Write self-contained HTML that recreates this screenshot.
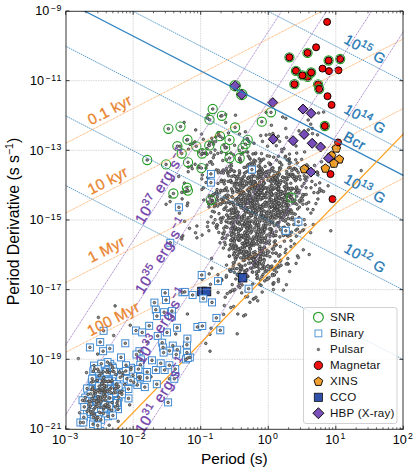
<!DOCTYPE html><html><head><meta charset="utf-8"><style>html,body{margin:0;padding:0;background:#fff;}svg{display:block;}text{font-family:"Liberation Sans",sans-serif;}</style></head><body><svg width="413" height="467" viewBox="0 0 413 467"><defs><clipPath id="c"><rect x="65.60" y="11.00" width="337.75" height="417.96"/></clipPath></defs><g clip-path="url(#c)"><circle cx="258.4" cy="177.5" r="1.3" fill="#959595" stroke="#3a3a3a" stroke-width="0.75"/><circle cx="239.5" cy="134.0" r="1.3" fill="#959595" stroke="#3a3a3a" stroke-width="0.75"/><circle cx="255.2" cy="204.6" r="1.3" fill="#959595" stroke="#3a3a3a" stroke-width="0.75"/><circle cx="251.8" cy="231.4" r="1.3" fill="#959595" stroke="#3a3a3a" stroke-width="0.75"/><circle cx="256.3" cy="200.1" r="1.3" fill="#959595" stroke="#3a3a3a" stroke-width="0.75"/><circle cx="261.7" cy="206.3" r="1.3" fill="#959595" stroke="#3a3a3a" stroke-width="0.75"/><circle cx="271.4" cy="125.3" r="1.3" fill="#959595" stroke="#3a3a3a" stroke-width="0.75"/><circle cx="274.3" cy="207.0" r="1.3" fill="#959595" stroke="#3a3a3a" stroke-width="0.75"/><circle cx="240.7" cy="269.9" r="1.3" fill="#959595" stroke="#3a3a3a" stroke-width="0.75"/><circle cx="240.4" cy="250.8" r="1.3" fill="#959595" stroke="#3a3a3a" stroke-width="0.75"/><circle cx="230.9" cy="232.2" r="1.3" fill="#959595" stroke="#3a3a3a" stroke-width="0.75"/><circle cx="206.0" cy="168.1" r="1.3" fill="#959595" stroke="#3a3a3a" stroke-width="0.75"/><circle cx="211.6" cy="258.4" r="1.3" fill="#959595" stroke="#3a3a3a" stroke-width="0.75"/><circle cx="246.7" cy="251.3" r="1.3" fill="#959595" stroke="#3a3a3a" stroke-width="0.75"/><circle cx="276.6" cy="175.7" r="1.3" fill="#959595" stroke="#3a3a3a" stroke-width="0.75"/><circle cx="226.1" cy="221.6" r="1.3" fill="#959595" stroke="#3a3a3a" stroke-width="0.75"/><circle cx="269.5" cy="134.4" r="1.3" fill="#959595" stroke="#3a3a3a" stroke-width="0.75"/><circle cx="251.1" cy="169.1" r="1.3" fill="#959595" stroke="#3a3a3a" stroke-width="0.75"/><circle cx="185.7" cy="191.5" r="1.3" fill="#959595" stroke="#3a3a3a" stroke-width="0.75"/><circle cx="292.9" cy="174.3" r="1.3" fill="#959595" stroke="#3a3a3a" stroke-width="0.75"/><circle cx="274.8" cy="235.2" r="1.3" fill="#959595" stroke="#3a3a3a" stroke-width="0.75"/><circle cx="257.3" cy="244.1" r="1.3" fill="#959595" stroke="#3a3a3a" stroke-width="0.75"/><circle cx="265.8" cy="193.9" r="1.3" fill="#959595" stroke="#3a3a3a" stroke-width="0.75"/><circle cx="237.4" cy="191.3" r="1.3" fill="#959595" stroke="#3a3a3a" stroke-width="0.75"/><circle cx="260.8" cy="168.5" r="1.3" fill="#959595" stroke="#3a3a3a" stroke-width="0.75"/><circle cx="280.2" cy="162.6" r="1.3" fill="#959595" stroke="#3a3a3a" stroke-width="0.75"/><circle cx="303.6" cy="229.8" r="1.3" fill="#959595" stroke="#3a3a3a" stroke-width="0.75"/><circle cx="269.7" cy="218.0" r="1.3" fill="#959595" stroke="#3a3a3a" stroke-width="0.75"/><circle cx="214.2" cy="155.0" r="1.3" fill="#959595" stroke="#3a3a3a" stroke-width="0.75"/><circle cx="214.3" cy="206.7" r="1.3" fill="#959595" stroke="#3a3a3a" stroke-width="0.75"/><circle cx="279.5" cy="198.5" r="1.3" fill="#959595" stroke="#3a3a3a" stroke-width="0.75"/><circle cx="262.0" cy="249.3" r="1.3" fill="#959595" stroke="#3a3a3a" stroke-width="0.75"/><circle cx="259.6" cy="230.1" r="1.3" fill="#959595" stroke="#3a3a3a" stroke-width="0.75"/><circle cx="292.4" cy="217.3" r="1.3" fill="#959595" stroke="#3a3a3a" stroke-width="0.75"/><circle cx="179.5" cy="213.2" r="1.3" fill="#959595" stroke="#3a3a3a" stroke-width="0.75"/><circle cx="258.7" cy="271.4" r="1.3" fill="#959595" stroke="#3a3a3a" stroke-width="0.75"/><circle cx="246.1" cy="291.0" r="1.3" fill="#959595" stroke="#3a3a3a" stroke-width="0.75"/><circle cx="317.8" cy="192.7" r="1.3" fill="#959595" stroke="#3a3a3a" stroke-width="0.75"/><circle cx="276.8" cy="183.1" r="1.3" fill="#959595" stroke="#3a3a3a" stroke-width="0.75"/><circle cx="232.1" cy="241.0" r="1.3" fill="#959595" stroke="#3a3a3a" stroke-width="0.75"/><circle cx="213.3" cy="157.7" r="1.3" fill="#959595" stroke="#3a3a3a" stroke-width="0.75"/><circle cx="251.1" cy="196.0" r="1.3" fill="#959595" stroke="#3a3a3a" stroke-width="0.75"/><circle cx="226.5" cy="159.8" r="1.3" fill="#959595" stroke="#3a3a3a" stroke-width="0.75"/><circle cx="242.6" cy="191.5" r="1.3" fill="#959595" stroke="#3a3a3a" stroke-width="0.75"/><circle cx="239.4" cy="159.7" r="1.3" fill="#959595" stroke="#3a3a3a" stroke-width="0.75"/><circle cx="262.4" cy="188.8" r="1.3" fill="#959595" stroke="#3a3a3a" stroke-width="0.75"/><circle cx="234.3" cy="240.1" r="1.3" fill="#959595" stroke="#3a3a3a" stroke-width="0.75"/><circle cx="244.6" cy="260.2" r="1.3" fill="#959595" stroke="#3a3a3a" stroke-width="0.75"/><circle cx="252.2" cy="241.0" r="1.3" fill="#959595" stroke="#3a3a3a" stroke-width="0.75"/><circle cx="290.8" cy="213.3" r="1.3" fill="#959595" stroke="#3a3a3a" stroke-width="0.75"/><circle cx="247.4" cy="219.5" r="1.3" fill="#959595" stroke="#3a3a3a" stroke-width="0.75"/><circle cx="228.3" cy="195.3" r="1.3" fill="#959595" stroke="#3a3a3a" stroke-width="0.75"/><circle cx="235.2" cy="176.2" r="1.3" fill="#959595" stroke="#3a3a3a" stroke-width="0.75"/><circle cx="300.2" cy="201.9" r="1.3" fill="#959595" stroke="#3a3a3a" stroke-width="0.75"/><circle cx="250.8" cy="233.0" r="1.3" fill="#959595" stroke="#3a3a3a" stroke-width="0.75"/><circle cx="285.6" cy="156.2" r="1.3" fill="#959595" stroke="#3a3a3a" stroke-width="0.75"/><circle cx="317.5" cy="134.9" r="1.3" fill="#959595" stroke="#3a3a3a" stroke-width="0.75"/><circle cx="247.6" cy="237.8" r="1.3" fill="#959595" stroke="#3a3a3a" stroke-width="0.75"/><circle cx="255.2" cy="189.1" r="1.3" fill="#959595" stroke="#3a3a3a" stroke-width="0.75"/><circle cx="263.0" cy="228.5" r="1.3" fill="#959595" stroke="#3a3a3a" stroke-width="0.75"/><circle cx="263.9" cy="232.6" r="1.3" fill="#959595" stroke="#3a3a3a" stroke-width="0.75"/><circle cx="263.3" cy="266.7" r="1.3" fill="#959595" stroke="#3a3a3a" stroke-width="0.75"/><circle cx="269.5" cy="198.2" r="1.3" fill="#959595" stroke="#3a3a3a" stroke-width="0.75"/><circle cx="285.8" cy="195.0" r="1.3" fill="#959595" stroke="#3a3a3a" stroke-width="0.75"/><circle cx="260.8" cy="242.7" r="1.3" fill="#959595" stroke="#3a3a3a" stroke-width="0.75"/><circle cx="256.8" cy="236.8" r="1.3" fill="#959595" stroke="#3a3a3a" stroke-width="0.75"/><circle cx="240.0" cy="223.9" r="1.3" fill="#959595" stroke="#3a3a3a" stroke-width="0.75"/><circle cx="247.0" cy="243.1" r="1.3" fill="#959595" stroke="#3a3a3a" stroke-width="0.75"/><circle cx="231.6" cy="222.1" r="1.3" fill="#959595" stroke="#3a3a3a" stroke-width="0.75"/><circle cx="238.8" cy="276.0" r="1.3" fill="#959595" stroke="#3a3a3a" stroke-width="0.75"/><circle cx="266.7" cy="192.1" r="1.3" fill="#959595" stroke="#3a3a3a" stroke-width="0.75"/><circle cx="234.3" cy="233.8" r="1.3" fill="#959595" stroke="#3a3a3a" stroke-width="0.75"/><circle cx="289.6" cy="271.5" r="1.3" fill="#959595" stroke="#3a3a3a" stroke-width="0.75"/><circle cx="269.3" cy="192.2" r="1.3" fill="#959595" stroke="#3a3a3a" stroke-width="0.75"/><circle cx="288.3" cy="218.4" r="1.3" fill="#959595" stroke="#3a3a3a" stroke-width="0.75"/><circle cx="258.3" cy="195.8" r="1.3" fill="#959595" stroke="#3a3a3a" stroke-width="0.75"/><circle cx="245.2" cy="204.3" r="1.3" fill="#959595" stroke="#3a3a3a" stroke-width="0.75"/><circle cx="261.5" cy="160.4" r="1.3" fill="#959595" stroke="#3a3a3a" stroke-width="0.75"/><circle cx="228.4" cy="133.0" r="1.3" fill="#959595" stroke="#3a3a3a" stroke-width="0.75"/><circle cx="287.5" cy="235.8" r="1.3" fill="#959595" stroke="#3a3a3a" stroke-width="0.75"/><circle cx="257.9" cy="203.8" r="1.3" fill="#959595" stroke="#3a3a3a" stroke-width="0.75"/><circle cx="226.3" cy="220.6" r="1.3" fill="#959595" stroke="#3a3a3a" stroke-width="0.75"/><circle cx="246.4" cy="233.5" r="1.3" fill="#959595" stroke="#3a3a3a" stroke-width="0.75"/><circle cx="247.0" cy="200.5" r="1.3" fill="#959595" stroke="#3a3a3a" stroke-width="0.75"/><circle cx="271.7" cy="195.5" r="1.3" fill="#959595" stroke="#3a3a3a" stroke-width="0.75"/><circle cx="237.6" cy="176.6" r="1.3" fill="#959595" stroke="#3a3a3a" stroke-width="0.75"/><circle cx="262.0" cy="240.2" r="1.3" fill="#959595" stroke="#3a3a3a" stroke-width="0.75"/><circle cx="236.7" cy="247.5" r="1.3" fill="#959595" stroke="#3a3a3a" stroke-width="0.75"/><circle cx="260.8" cy="232.2" r="1.3" fill="#959595" stroke="#3a3a3a" stroke-width="0.75"/><circle cx="256.1" cy="254.7" r="1.3" fill="#959595" stroke="#3a3a3a" stroke-width="0.75"/><circle cx="272.6" cy="222.6" r="1.3" fill="#959595" stroke="#3a3a3a" stroke-width="0.75"/><circle cx="223.8" cy="228.2" r="1.3" fill="#959595" stroke="#3a3a3a" stroke-width="0.75"/><circle cx="304.9" cy="178.9" r="1.3" fill="#959595" stroke="#3a3a3a" stroke-width="0.75"/><circle cx="196.9" cy="237.8" r="1.3" fill="#959595" stroke="#3a3a3a" stroke-width="0.75"/><circle cx="267.3" cy="192.9" r="1.3" fill="#959595" stroke="#3a3a3a" stroke-width="0.75"/><circle cx="229.9" cy="203.0" r="1.3" fill="#959595" stroke="#3a3a3a" stroke-width="0.75"/><circle cx="238.9" cy="191.8" r="1.3" fill="#959595" stroke="#3a3a3a" stroke-width="0.75"/><circle cx="261.2" cy="214.2" r="1.3" fill="#959595" stroke="#3a3a3a" stroke-width="0.75"/><circle cx="287.5" cy="223.9" r="1.3" fill="#959595" stroke="#3a3a3a" stroke-width="0.75"/><circle cx="243.5" cy="215.5" r="1.3" fill="#959595" stroke="#3a3a3a" stroke-width="0.75"/><circle cx="232.7" cy="191.1" r="1.3" fill="#959595" stroke="#3a3a3a" stroke-width="0.75"/><circle cx="263.4" cy="181.3" r="1.3" fill="#959595" stroke="#3a3a3a" stroke-width="0.75"/><circle cx="239.3" cy="249.2" r="1.3" fill="#959595" stroke="#3a3a3a" stroke-width="0.75"/><circle cx="271.8" cy="190.0" r="1.3" fill="#959595" stroke="#3a3a3a" stroke-width="0.75"/><circle cx="232.8" cy="203.0" r="1.3" fill="#959595" stroke="#3a3a3a" stroke-width="0.75"/><circle cx="254.5" cy="164.3" r="1.3" fill="#959595" stroke="#3a3a3a" stroke-width="0.75"/><circle cx="263.0" cy="189.3" r="1.3" fill="#959595" stroke="#3a3a3a" stroke-width="0.75"/><circle cx="231.1" cy="163.6" r="1.3" fill="#959595" stroke="#3a3a3a" stroke-width="0.75"/><circle cx="258.9" cy="193.5" r="1.3" fill="#959595" stroke="#3a3a3a" stroke-width="0.75"/><circle cx="258.4" cy="229.6" r="1.3" fill="#959595" stroke="#3a3a3a" stroke-width="0.75"/><circle cx="239.4" cy="283.6" r="1.3" fill="#959595" stroke="#3a3a3a" stroke-width="0.75"/><circle cx="245.3" cy="220.1" r="1.3" fill="#959595" stroke="#3a3a3a" stroke-width="0.75"/><circle cx="262.6" cy="186.7" r="1.3" fill="#959595" stroke="#3a3a3a" stroke-width="0.75"/><circle cx="267.7" cy="223.6" r="1.3" fill="#959595" stroke="#3a3a3a" stroke-width="0.75"/><circle cx="256.1" cy="220.7" r="1.3" fill="#959595" stroke="#3a3a3a" stroke-width="0.75"/><circle cx="276.2" cy="245.0" r="1.3" fill="#959595" stroke="#3a3a3a" stroke-width="0.75"/><circle cx="234.5" cy="211.8" r="1.3" fill="#959595" stroke="#3a3a3a" stroke-width="0.75"/><circle cx="253.4" cy="261.4" r="1.3" fill="#959595" stroke="#3a3a3a" stroke-width="0.75"/><circle cx="217.7" cy="200.5" r="1.3" fill="#959595" stroke="#3a3a3a" stroke-width="0.75"/><circle cx="231.5" cy="188.9" r="1.3" fill="#959595" stroke="#3a3a3a" stroke-width="0.75"/><circle cx="274.3" cy="209.6" r="1.3" fill="#959595" stroke="#3a3a3a" stroke-width="0.75"/><circle cx="239.2" cy="264.8" r="1.3" fill="#959595" stroke="#3a3a3a" stroke-width="0.75"/><circle cx="245.4" cy="231.7" r="1.3" fill="#959595" stroke="#3a3a3a" stroke-width="0.75"/><circle cx="247.6" cy="207.9" r="1.3" fill="#959595" stroke="#3a3a3a" stroke-width="0.75"/><circle cx="271.1" cy="207.1" r="1.3" fill="#959595" stroke="#3a3a3a" stroke-width="0.75"/><circle cx="278.9" cy="222.5" r="1.3" fill="#959595" stroke="#3a3a3a" stroke-width="0.75"/><circle cx="215.8" cy="203.5" r="1.3" fill="#959595" stroke="#3a3a3a" stroke-width="0.75"/><circle cx="280.1" cy="212.8" r="1.3" fill="#959595" stroke="#3a3a3a" stroke-width="0.75"/><circle cx="278.4" cy="281.5" r="1.3" fill="#959595" stroke="#3a3a3a" stroke-width="0.75"/><circle cx="257.6" cy="266.6" r="1.3" fill="#959595" stroke="#3a3a3a" stroke-width="0.75"/><circle cx="249.8" cy="248.6" r="1.3" fill="#959595" stroke="#3a3a3a" stroke-width="0.75"/><circle cx="188.2" cy="171.7" r="1.3" fill="#959595" stroke="#3a3a3a" stroke-width="0.75"/><circle cx="250.1" cy="213.9" r="1.3" fill="#959595" stroke="#3a3a3a" stroke-width="0.75"/><circle cx="264.0" cy="195.8" r="1.3" fill="#959595" stroke="#3a3a3a" stroke-width="0.75"/><circle cx="259.4" cy="261.4" r="1.3" fill="#959595" stroke="#3a3a3a" stroke-width="0.75"/><circle cx="277.9" cy="190.0" r="1.3" fill="#959595" stroke="#3a3a3a" stroke-width="0.75"/><circle cx="241.9" cy="266.3" r="1.3" fill="#959595" stroke="#3a3a3a" stroke-width="0.75"/><circle cx="264.4" cy="183.3" r="1.3" fill="#959595" stroke="#3a3a3a" stroke-width="0.75"/><circle cx="257.4" cy="200.7" r="1.3" fill="#959595" stroke="#3a3a3a" stroke-width="0.75"/><circle cx="248.0" cy="276.4" r="1.3" fill="#959595" stroke="#3a3a3a" stroke-width="0.75"/><circle cx="242.2" cy="217.3" r="1.3" fill="#959595" stroke="#3a3a3a" stroke-width="0.75"/><circle cx="255.6" cy="266.7" r="1.3" fill="#959595" stroke="#3a3a3a" stroke-width="0.75"/><circle cx="268.7" cy="211.6" r="1.3" fill="#959595" stroke="#3a3a3a" stroke-width="0.75"/><circle cx="263.7" cy="182.6" r="1.3" fill="#959595" stroke="#3a3a3a" stroke-width="0.75"/><circle cx="208.9" cy="230.7" r="1.3" fill="#959595" stroke="#3a3a3a" stroke-width="0.75"/><circle cx="313.0" cy="209.6" r="1.3" fill="#959595" stroke="#3a3a3a" stroke-width="0.75"/><circle cx="253.8" cy="208.1" r="1.3" fill="#959595" stroke="#3a3a3a" stroke-width="0.75"/><circle cx="239.8" cy="172.8" r="1.3" fill="#959595" stroke="#3a3a3a" stroke-width="0.75"/><circle cx="244.4" cy="173.2" r="1.3" fill="#959595" stroke="#3a3a3a" stroke-width="0.75"/><circle cx="281.1" cy="265.3" r="1.3" fill="#959595" stroke="#3a3a3a" stroke-width="0.75"/><circle cx="256.7" cy="274.5" r="1.3" fill="#959595" stroke="#3a3a3a" stroke-width="0.75"/><circle cx="239.5" cy="279.9" r="1.3" fill="#959595" stroke="#3a3a3a" stroke-width="0.75"/><circle cx="280.8" cy="194.6" r="1.3" fill="#959595" stroke="#3a3a3a" stroke-width="0.75"/><circle cx="215.0" cy="150.1" r="1.3" fill="#959595" stroke="#3a3a3a" stroke-width="0.75"/><circle cx="233.6" cy="213.2" r="1.3" fill="#959595" stroke="#3a3a3a" stroke-width="0.75"/><circle cx="282.6" cy="232.6" r="1.3" fill="#959595" stroke="#3a3a3a" stroke-width="0.75"/><circle cx="272.7" cy="222.8" r="1.3" fill="#959595" stroke="#3a3a3a" stroke-width="0.75"/><circle cx="204.4" cy="153.3" r="1.3" fill="#959595" stroke="#3a3a3a" stroke-width="0.75"/><circle cx="218.0" cy="183.4" r="1.3" fill="#959595" stroke="#3a3a3a" stroke-width="0.75"/><circle cx="235.4" cy="229.5" r="1.3" fill="#959595" stroke="#3a3a3a" stroke-width="0.75"/><circle cx="296.7" cy="153.1" r="1.3" fill="#959595" stroke="#3a3a3a" stroke-width="0.75"/><circle cx="250.4" cy="249.1" r="1.3" fill="#959595" stroke="#3a3a3a" stroke-width="0.75"/><circle cx="241.7" cy="292.9" r="1.3" fill="#959595" stroke="#3a3a3a" stroke-width="0.75"/><circle cx="258.9" cy="184.6" r="1.3" fill="#959595" stroke="#3a3a3a" stroke-width="0.75"/><circle cx="255.4" cy="153.8" r="1.3" fill="#959595" stroke="#3a3a3a" stroke-width="0.75"/><circle cx="238.3" cy="286.2" r="1.3" fill="#959595" stroke="#3a3a3a" stroke-width="0.75"/><circle cx="288.2" cy="236.1" r="1.3" fill="#959595" stroke="#3a3a3a" stroke-width="0.75"/><circle cx="267.1" cy="203.9" r="1.3" fill="#959595" stroke="#3a3a3a" stroke-width="0.75"/><circle cx="287.4" cy="205.0" r="1.3" fill="#959595" stroke="#3a3a3a" stroke-width="0.75"/><circle cx="253.4" cy="262.3" r="1.3" fill="#959595" stroke="#3a3a3a" stroke-width="0.75"/><circle cx="266.0" cy="194.1" r="1.3" fill="#959595" stroke="#3a3a3a" stroke-width="0.75"/><circle cx="217.8" cy="153.4" r="1.3" fill="#959595" stroke="#3a3a3a" stroke-width="0.75"/><circle cx="234.9" cy="219.1" r="1.3" fill="#959595" stroke="#3a3a3a" stroke-width="0.75"/><circle cx="268.4" cy="190.9" r="1.3" fill="#959595" stroke="#3a3a3a" stroke-width="0.75"/><circle cx="250.6" cy="226.9" r="1.3" fill="#959595" stroke="#3a3a3a" stroke-width="0.75"/><circle cx="239.9" cy="271.6" r="1.3" fill="#959595" stroke="#3a3a3a" stroke-width="0.75"/><circle cx="212.7" cy="195.9" r="1.3" fill="#959595" stroke="#3a3a3a" stroke-width="0.75"/><circle cx="252.2" cy="184.8" r="1.3" fill="#959595" stroke="#3a3a3a" stroke-width="0.75"/><circle cx="205.9" cy="153.1" r="1.3" fill="#959595" stroke="#3a3a3a" stroke-width="0.75"/><circle cx="280.3" cy="246.5" r="1.3" fill="#959595" stroke="#3a3a3a" stroke-width="0.75"/><circle cx="253.8" cy="161.4" r="1.3" fill="#959595" stroke="#3a3a3a" stroke-width="0.75"/><circle cx="276.5" cy="272.0" r="1.3" fill="#959595" stroke="#3a3a3a" stroke-width="0.75"/><circle cx="237.2" cy="229.4" r="1.3" fill="#959595" stroke="#3a3a3a" stroke-width="0.75"/><circle cx="256.5" cy="262.0" r="1.3" fill="#959595" stroke="#3a3a3a" stroke-width="0.75"/><circle cx="225.3" cy="244.7" r="1.3" fill="#959595" stroke="#3a3a3a" stroke-width="0.75"/><circle cx="272.0" cy="178.5" r="1.3" fill="#959595" stroke="#3a3a3a" stroke-width="0.75"/><circle cx="207.8" cy="177.3" r="1.3" fill="#959595" stroke="#3a3a3a" stroke-width="0.75"/><circle cx="226.2" cy="277.2" r="1.3" fill="#959595" stroke="#3a3a3a" stroke-width="0.75"/><circle cx="267.5" cy="188.6" r="1.3" fill="#959595" stroke="#3a3a3a" stroke-width="0.75"/><circle cx="238.9" cy="240.3" r="1.3" fill="#959595" stroke="#3a3a3a" stroke-width="0.75"/><circle cx="252.6" cy="176.1" r="1.3" fill="#959595" stroke="#3a3a3a" stroke-width="0.75"/><circle cx="250.4" cy="189.2" r="1.3" fill="#959595" stroke="#3a3a3a" stroke-width="0.75"/><circle cx="256.8" cy="225.4" r="1.3" fill="#959595" stroke="#3a3a3a" stroke-width="0.75"/><circle cx="262.7" cy="184.6" r="1.3" fill="#959595" stroke="#3a3a3a" stroke-width="0.75"/><circle cx="283.4" cy="234.7" r="1.3" fill="#959595" stroke="#3a3a3a" stroke-width="0.75"/><circle cx="244.2" cy="255.8" r="1.3" fill="#959595" stroke="#3a3a3a" stroke-width="0.75"/><circle cx="248.8" cy="191.4" r="1.3" fill="#959595" stroke="#3a3a3a" stroke-width="0.75"/><circle cx="247.5" cy="189.8" r="1.3" fill="#959595" stroke="#3a3a3a" stroke-width="0.75"/><circle cx="194.8" cy="141.9" r="1.3" fill="#959595" stroke="#3a3a3a" stroke-width="0.75"/><circle cx="273.8" cy="200.8" r="1.3" fill="#959595" stroke="#3a3a3a" stroke-width="0.75"/><circle cx="273.7" cy="157.2" r="1.3" fill="#959595" stroke="#3a3a3a" stroke-width="0.75"/><circle cx="238.0" cy="215.1" r="1.3" fill="#959595" stroke="#3a3a3a" stroke-width="0.75"/><circle cx="232.2" cy="227.3" r="1.3" fill="#959595" stroke="#3a3a3a" stroke-width="0.75"/><circle cx="261.0" cy="214.3" r="1.3" fill="#959595" stroke="#3a3a3a" stroke-width="0.75"/><circle cx="230.9" cy="218.3" r="1.3" fill="#959595" stroke="#3a3a3a" stroke-width="0.75"/><circle cx="270.7" cy="217.9" r="1.3" fill="#959595" stroke="#3a3a3a" stroke-width="0.75"/><circle cx="261.1" cy="259.7" r="1.3" fill="#959595" stroke="#3a3a3a" stroke-width="0.75"/><circle cx="288.7" cy="210.9" r="1.3" fill="#959595" stroke="#3a3a3a" stroke-width="0.75"/><circle cx="234.1" cy="252.7" r="1.3" fill="#959595" stroke="#3a3a3a" stroke-width="0.75"/><circle cx="240.6" cy="194.7" r="1.3" fill="#959595" stroke="#3a3a3a" stroke-width="0.75"/><circle cx="278.6" cy="172.9" r="1.3" fill="#959595" stroke="#3a3a3a" stroke-width="0.75"/><circle cx="311.9" cy="181.4" r="1.3" fill="#959595" stroke="#3a3a3a" stroke-width="0.75"/><circle cx="257.4" cy="240.2" r="1.3" fill="#959595" stroke="#3a3a3a" stroke-width="0.75"/><circle cx="276.9" cy="182.3" r="1.3" fill="#959595" stroke="#3a3a3a" stroke-width="0.75"/><circle cx="261.0" cy="237.0" r="1.3" fill="#959595" stroke="#3a3a3a" stroke-width="0.75"/><circle cx="264.0" cy="259.3" r="1.3" fill="#959595" stroke="#3a3a3a" stroke-width="0.75"/><circle cx="238.2" cy="212.1" r="1.3" fill="#959595" stroke="#3a3a3a" stroke-width="0.75"/><circle cx="227.8" cy="173.4" r="1.3" fill="#959595" stroke="#3a3a3a" stroke-width="0.75"/><circle cx="233.6" cy="220.4" r="1.3" fill="#959595" stroke="#3a3a3a" stroke-width="0.75"/><circle cx="278.9" cy="196.6" r="1.3" fill="#959595" stroke="#3a3a3a" stroke-width="0.75"/><circle cx="280.8" cy="260.3" r="1.3" fill="#959595" stroke="#3a3a3a" stroke-width="0.75"/><circle cx="230.8" cy="182.1" r="1.3" fill="#959595" stroke="#3a3a3a" stroke-width="0.75"/><circle cx="235.0" cy="183.1" r="1.3" fill="#959595" stroke="#3a3a3a" stroke-width="0.75"/><circle cx="241.6" cy="206.2" r="1.3" fill="#959595" stroke="#3a3a3a" stroke-width="0.75"/><circle cx="245.3" cy="207.5" r="1.3" fill="#959595" stroke="#3a3a3a" stroke-width="0.75"/><circle cx="248.0" cy="178.3" r="1.3" fill="#959595" stroke="#3a3a3a" stroke-width="0.75"/><circle cx="243.3" cy="196.8" r="1.3" fill="#959595" stroke="#3a3a3a" stroke-width="0.75"/><circle cx="293.8" cy="224.5" r="1.3" fill="#959595" stroke="#3a3a3a" stroke-width="0.75"/><circle cx="233.7" cy="205.4" r="1.3" fill="#959595" stroke="#3a3a3a" stroke-width="0.75"/><circle cx="267.2" cy="155.8" r="1.3" fill="#959595" stroke="#3a3a3a" stroke-width="0.75"/><circle cx="212.4" cy="200.4" r="1.3" fill="#959595" stroke="#3a3a3a" stroke-width="0.75"/><circle cx="223.0" cy="201.0" r="1.3" fill="#959595" stroke="#3a3a3a" stroke-width="0.75"/><circle cx="211.3" cy="203.8" r="1.3" fill="#959595" stroke="#3a3a3a" stroke-width="0.75"/><circle cx="211.8" cy="138.3" r="1.3" fill="#959595" stroke="#3a3a3a" stroke-width="0.75"/><circle cx="203.6" cy="187.9" r="1.3" fill="#959595" stroke="#3a3a3a" stroke-width="0.75"/><circle cx="234.4" cy="272.4" r="1.3" fill="#959595" stroke="#3a3a3a" stroke-width="0.75"/><circle cx="297.5" cy="255.9" r="1.3" fill="#959595" stroke="#3a3a3a" stroke-width="0.75"/><circle cx="272.1" cy="268.1" r="1.3" fill="#959595" stroke="#3a3a3a" stroke-width="0.75"/><circle cx="273.6" cy="236.0" r="1.3" fill="#959595" stroke="#3a3a3a" stroke-width="0.75"/><circle cx="276.7" cy="201.5" r="1.3" fill="#959595" stroke="#3a3a3a" stroke-width="0.75"/><circle cx="211.8" cy="268.1" r="1.3" fill="#959595" stroke="#3a3a3a" stroke-width="0.75"/><circle cx="260.5" cy="189.6" r="1.3" fill="#959595" stroke="#3a3a3a" stroke-width="0.75"/><circle cx="223.2" cy="217.3" r="1.3" fill="#959595" stroke="#3a3a3a" stroke-width="0.75"/><circle cx="255.3" cy="216.7" r="1.3" fill="#959595" stroke="#3a3a3a" stroke-width="0.75"/><circle cx="249.9" cy="202.0" r="1.3" fill="#959595" stroke="#3a3a3a" stroke-width="0.75"/><circle cx="277.7" cy="184.6" r="1.3" fill="#959595" stroke="#3a3a3a" stroke-width="0.75"/><circle cx="243.9" cy="192.5" r="1.3" fill="#959595" stroke="#3a3a3a" stroke-width="0.75"/><circle cx="237.8" cy="222.5" r="1.3" fill="#959595" stroke="#3a3a3a" stroke-width="0.75"/><circle cx="306.1" cy="187.7" r="1.3" fill="#959595" stroke="#3a3a3a" stroke-width="0.75"/><circle cx="276.7" cy="193.9" r="1.3" fill="#959595" stroke="#3a3a3a" stroke-width="0.75"/><circle cx="255.2" cy="194.1" r="1.3" fill="#959595" stroke="#3a3a3a" stroke-width="0.75"/><circle cx="280.0" cy="191.3" r="1.3" fill="#959595" stroke="#3a3a3a" stroke-width="0.75"/><circle cx="245.3" cy="246.1" r="1.3" fill="#959595" stroke="#3a3a3a" stroke-width="0.75"/><circle cx="247.3" cy="212.3" r="1.3" fill="#959595" stroke="#3a3a3a" stroke-width="0.75"/><circle cx="218.3" cy="132.6" r="1.3" fill="#959595" stroke="#3a3a3a" stroke-width="0.75"/><circle cx="257.1" cy="233.1" r="1.3" fill="#959595" stroke="#3a3a3a" stroke-width="0.75"/><circle cx="231.5" cy="209.0" r="1.3" fill="#959595" stroke="#3a3a3a" stroke-width="0.75"/><circle cx="253.8" cy="238.4" r="1.3" fill="#959595" stroke="#3a3a3a" stroke-width="0.75"/><circle cx="251.2" cy="207.8" r="1.3" fill="#959595" stroke="#3a3a3a" stroke-width="0.75"/><circle cx="257.9" cy="190.6" r="1.3" fill="#959595" stroke="#3a3a3a" stroke-width="0.75"/><circle cx="240.5" cy="248.2" r="1.3" fill="#959595" stroke="#3a3a3a" stroke-width="0.75"/><circle cx="273.9" cy="176.3" r="1.3" fill="#959595" stroke="#3a3a3a" stroke-width="0.75"/><circle cx="252.5" cy="187.6" r="1.3" fill="#959595" stroke="#3a3a3a" stroke-width="0.75"/><circle cx="253.9" cy="206.2" r="1.3" fill="#959595" stroke="#3a3a3a" stroke-width="0.75"/><circle cx="268.9" cy="251.8" r="1.3" fill="#959595" stroke="#3a3a3a" stroke-width="0.75"/><circle cx="231.2" cy="169.4" r="1.3" fill="#959595" stroke="#3a3a3a" stroke-width="0.75"/><circle cx="214.9" cy="193.7" r="1.3" fill="#959595" stroke="#3a3a3a" stroke-width="0.75"/><circle cx="214.3" cy="212.0" r="1.3" fill="#959595" stroke="#3a3a3a" stroke-width="0.75"/><circle cx="225.5" cy="226.4" r="1.3" fill="#959595" stroke="#3a3a3a" stroke-width="0.75"/><circle cx="246.1" cy="167.1" r="1.3" fill="#959595" stroke="#3a3a3a" stroke-width="0.75"/><circle cx="245.5" cy="235.5" r="1.3" fill="#959595" stroke="#3a3a3a" stroke-width="0.75"/><circle cx="253.8" cy="213.1" r="1.3" fill="#959595" stroke="#3a3a3a" stroke-width="0.75"/><circle cx="261.6" cy="209.2" r="1.3" fill="#959595" stroke="#3a3a3a" stroke-width="0.75"/><circle cx="289.8" cy="196.5" r="1.3" fill="#959595" stroke="#3a3a3a" stroke-width="0.75"/><circle cx="285.8" cy="190.4" r="1.3" fill="#959595" stroke="#3a3a3a" stroke-width="0.75"/><circle cx="247.6" cy="257.2" r="1.3" fill="#959595" stroke="#3a3a3a" stroke-width="0.75"/><circle cx="225.2" cy="297.2" r="1.3" fill="#959595" stroke="#3a3a3a" stroke-width="0.75"/><circle cx="299.5" cy="176.3" r="1.3" fill="#959595" stroke="#3a3a3a" stroke-width="0.75"/><circle cx="295.4" cy="180.8" r="1.3" fill="#959595" stroke="#3a3a3a" stroke-width="0.75"/><circle cx="277.0" cy="225.0" r="1.3" fill="#959595" stroke="#3a3a3a" stroke-width="0.75"/><circle cx="258.0" cy="236.3" r="1.3" fill="#959595" stroke="#3a3a3a" stroke-width="0.75"/><circle cx="247.8" cy="245.1" r="1.3" fill="#959595" stroke="#3a3a3a" stroke-width="0.75"/><circle cx="273.6" cy="189.1" r="1.3" fill="#959595" stroke="#3a3a3a" stroke-width="0.75"/><circle cx="270.4" cy="180.9" r="1.3" fill="#959595" stroke="#3a3a3a" stroke-width="0.75"/><circle cx="301.6" cy="159.4" r="1.3" fill="#959595" stroke="#3a3a3a" stroke-width="0.75"/><circle cx="256.1" cy="196.2" r="1.3" fill="#959595" stroke="#3a3a3a" stroke-width="0.75"/><circle cx="310.9" cy="213.1" r="1.3" fill="#959595" stroke="#3a3a3a" stroke-width="0.75"/><circle cx="233.6" cy="255.0" r="1.3" fill="#959595" stroke="#3a3a3a" stroke-width="0.75"/><circle cx="190.1" cy="144.4" r="1.3" fill="#959595" stroke="#3a3a3a" stroke-width="0.75"/><circle cx="212.5" cy="164.2" r="1.3" fill="#959595" stroke="#3a3a3a" stroke-width="0.75"/><circle cx="244.0" cy="224.0" r="1.3" fill="#959595" stroke="#3a3a3a" stroke-width="0.75"/><circle cx="242.9" cy="225.2" r="1.3" fill="#959595" stroke="#3a3a3a" stroke-width="0.75"/><circle cx="261.9" cy="170.6" r="1.3" fill="#959595" stroke="#3a3a3a" stroke-width="0.75"/><circle cx="259.4" cy="165.7" r="1.3" fill="#959595" stroke="#3a3a3a" stroke-width="0.75"/><circle cx="212.5" cy="141.7" r="1.3" fill="#959595" stroke="#3a3a3a" stroke-width="0.75"/><circle cx="278.0" cy="222.7" r="1.3" fill="#959595" stroke="#3a3a3a" stroke-width="0.75"/><circle cx="263.2" cy="187.7" r="1.3" fill="#959595" stroke="#3a3a3a" stroke-width="0.75"/><circle cx="286.8" cy="183.9" r="1.3" fill="#959595" stroke="#3a3a3a" stroke-width="0.75"/><circle cx="258.1" cy="224.7" r="1.3" fill="#959595" stroke="#3a3a3a" stroke-width="0.75"/><circle cx="223.2" cy="170.7" r="1.3" fill="#959595" stroke="#3a3a3a" stroke-width="0.75"/><circle cx="252.0" cy="211.6" r="1.3" fill="#959595" stroke="#3a3a3a" stroke-width="0.75"/><circle cx="247.8" cy="164.9" r="1.3" fill="#959595" stroke="#3a3a3a" stroke-width="0.75"/><circle cx="285.1" cy="157.1" r="1.3" fill="#959595" stroke="#3a3a3a" stroke-width="0.75"/><circle cx="305.1" cy="224.7" r="1.3" fill="#959595" stroke="#3a3a3a" stroke-width="0.75"/><circle cx="245.7" cy="240.8" r="1.3" fill="#959595" stroke="#3a3a3a" stroke-width="0.75"/><circle cx="250.8" cy="204.3" r="1.3" fill="#959595" stroke="#3a3a3a" stroke-width="0.75"/><circle cx="283.6" cy="198.1" r="1.3" fill="#959595" stroke="#3a3a3a" stroke-width="0.75"/><circle cx="265.2" cy="228.1" r="1.3" fill="#959595" stroke="#3a3a3a" stroke-width="0.75"/><circle cx="288.9" cy="160.0" r="1.3" fill="#959595" stroke="#3a3a3a" stroke-width="0.75"/><circle cx="252.3" cy="187.6" r="1.3" fill="#959595" stroke="#3a3a3a" stroke-width="0.75"/><circle cx="243.4" cy="260.6" r="1.3" fill="#959595" stroke="#3a3a3a" stroke-width="0.75"/><circle cx="256.6" cy="271.8" r="1.3" fill="#959595" stroke="#3a3a3a" stroke-width="0.75"/><circle cx="267.6" cy="146.2" r="1.3" fill="#959595" stroke="#3a3a3a" stroke-width="0.75"/><circle cx="266.1" cy="112.4" r="1.3" fill="#959595" stroke="#3a3a3a" stroke-width="0.75"/><circle cx="222.7" cy="237.7" r="1.3" fill="#959595" stroke="#3a3a3a" stroke-width="0.75"/><circle cx="251.7" cy="203.6" r="1.3" fill="#959595" stroke="#3a3a3a" stroke-width="0.75"/><circle cx="242.2" cy="236.9" r="1.3" fill="#959595" stroke="#3a3a3a" stroke-width="0.75"/><circle cx="237.4" cy="222.7" r="1.3" fill="#959595" stroke="#3a3a3a" stroke-width="0.75"/><circle cx="219.7" cy="203.7" r="1.3" fill="#959595" stroke="#3a3a3a" stroke-width="0.75"/><circle cx="263.8" cy="229.9" r="1.3" fill="#959595" stroke="#3a3a3a" stroke-width="0.75"/><circle cx="236.9" cy="218.9" r="1.3" fill="#959595" stroke="#3a3a3a" stroke-width="0.75"/><circle cx="195.7" cy="129.9" r="1.3" fill="#959595" stroke="#3a3a3a" stroke-width="0.75"/><circle cx="276.0" cy="204.3" r="1.3" fill="#959595" stroke="#3a3a3a" stroke-width="0.75"/><circle cx="266.5" cy="255.5" r="1.3" fill="#959595" stroke="#3a3a3a" stroke-width="0.75"/><circle cx="264.2" cy="238.4" r="1.3" fill="#959595" stroke="#3a3a3a" stroke-width="0.75"/><circle cx="255.4" cy="223.8" r="1.3" fill="#959595" stroke="#3a3a3a" stroke-width="0.75"/><circle cx="292.9" cy="219.7" r="1.3" fill="#959595" stroke="#3a3a3a" stroke-width="0.75"/><circle cx="245.3" cy="244.7" r="1.3" fill="#959595" stroke="#3a3a3a" stroke-width="0.75"/><circle cx="270.5" cy="188.6" r="1.3" fill="#959595" stroke="#3a3a3a" stroke-width="0.75"/><circle cx="223.2" cy="198.8" r="1.3" fill="#959595" stroke="#3a3a3a" stroke-width="0.75"/><circle cx="285.5" cy="220.6" r="1.3" fill="#959595" stroke="#3a3a3a" stroke-width="0.75"/><circle cx="233.5" cy="245.8" r="1.3" fill="#959595" stroke="#3a3a3a" stroke-width="0.75"/><circle cx="255.6" cy="191.6" r="1.3" fill="#959595" stroke="#3a3a3a" stroke-width="0.75"/><circle cx="231.7" cy="176.5" r="1.3" fill="#959595" stroke="#3a3a3a" stroke-width="0.75"/><circle cx="286.7" cy="186.3" r="1.3" fill="#959595" stroke="#3a3a3a" stroke-width="0.75"/><circle cx="237.8" cy="202.7" r="1.3" fill="#959595" stroke="#3a3a3a" stroke-width="0.75"/><circle cx="191.3" cy="166.1" r="1.3" fill="#959595" stroke="#3a3a3a" stroke-width="0.75"/><circle cx="265.7" cy="220.7" r="1.3" fill="#959595" stroke="#3a3a3a" stroke-width="0.75"/><circle cx="252.0" cy="258.6" r="1.3" fill="#959595" stroke="#3a3a3a" stroke-width="0.75"/><circle cx="249.8" cy="193.4" r="1.3" fill="#959595" stroke="#3a3a3a" stroke-width="0.75"/><circle cx="263.0" cy="274.4" r="1.3" fill="#959595" stroke="#3a3a3a" stroke-width="0.75"/><circle cx="252.4" cy="200.4" r="1.3" fill="#959595" stroke="#3a3a3a" stroke-width="0.75"/><circle cx="248.4" cy="211.4" r="1.3" fill="#959595" stroke="#3a3a3a" stroke-width="0.75"/><circle cx="259.2" cy="284.1" r="1.3" fill="#959595" stroke="#3a3a3a" stroke-width="0.75"/><circle cx="264.9" cy="229.1" r="1.3" fill="#959595" stroke="#3a3a3a" stroke-width="0.75"/><circle cx="254.4" cy="208.2" r="1.3" fill="#959595" stroke="#3a3a3a" stroke-width="0.75"/><circle cx="241.3" cy="235.5" r="1.3" fill="#959595" stroke="#3a3a3a" stroke-width="0.75"/><circle cx="251.4" cy="205.5" r="1.3" fill="#959595" stroke="#3a3a3a" stroke-width="0.75"/><circle cx="224.4" cy="231.6" r="1.3" fill="#959595" stroke="#3a3a3a" stroke-width="0.75"/><circle cx="206.0" cy="182.5" r="1.3" fill="#959595" stroke="#3a3a3a" stroke-width="0.75"/><circle cx="211.1" cy="161.7" r="1.3" fill="#959595" stroke="#3a3a3a" stroke-width="0.75"/><circle cx="266.1" cy="217.1" r="1.3" fill="#959595" stroke="#3a3a3a" stroke-width="0.75"/><circle cx="236.3" cy="210.6" r="1.3" fill="#959595" stroke="#3a3a3a" stroke-width="0.75"/><circle cx="239.3" cy="204.9" r="1.3" fill="#959595" stroke="#3a3a3a" stroke-width="0.75"/><circle cx="259.8" cy="169.6" r="1.3" fill="#959595" stroke="#3a3a3a" stroke-width="0.75"/><circle cx="240.9" cy="267.2" r="1.3" fill="#959595" stroke="#3a3a3a" stroke-width="0.75"/><circle cx="261.4" cy="168.2" r="1.3" fill="#959595" stroke="#3a3a3a" stroke-width="0.75"/><circle cx="221.9" cy="280.1" r="1.3" fill="#959595" stroke="#3a3a3a" stroke-width="0.75"/><circle cx="232.4" cy="191.1" r="1.3" fill="#959595" stroke="#3a3a3a" stroke-width="0.75"/><circle cx="278.9" cy="187.6" r="1.3" fill="#959595" stroke="#3a3a3a" stroke-width="0.75"/><circle cx="259.2" cy="268.9" r="1.3" fill="#959595" stroke="#3a3a3a" stroke-width="0.75"/><circle cx="261.8" cy="276.7" r="1.3" fill="#959595" stroke="#3a3a3a" stroke-width="0.75"/><circle cx="258.6" cy="228.6" r="1.3" fill="#959595" stroke="#3a3a3a" stroke-width="0.75"/><circle cx="237.7" cy="274.1" r="1.3" fill="#959595" stroke="#3a3a3a" stroke-width="0.75"/><circle cx="294.4" cy="176.3" r="1.3" fill="#959595" stroke="#3a3a3a" stroke-width="0.75"/><circle cx="242.8" cy="251.6" r="1.3" fill="#959595" stroke="#3a3a3a" stroke-width="0.75"/><circle cx="262.8" cy="219.2" r="1.3" fill="#959595" stroke="#3a3a3a" stroke-width="0.75"/><circle cx="217.0" cy="189.6" r="1.3" fill="#959595" stroke="#3a3a3a" stroke-width="0.75"/><circle cx="248.1" cy="217.7" r="1.3" fill="#959595" stroke="#3a3a3a" stroke-width="0.75"/><circle cx="226.5" cy="168.4" r="1.3" fill="#959595" stroke="#3a3a3a" stroke-width="0.75"/><circle cx="247.4" cy="241.0" r="1.3" fill="#959595" stroke="#3a3a3a" stroke-width="0.75"/><circle cx="228.5" cy="222.7" r="1.3" fill="#959595" stroke="#3a3a3a" stroke-width="0.75"/><circle cx="273.0" cy="167.9" r="1.3" fill="#959595" stroke="#3a3a3a" stroke-width="0.75"/><circle cx="276.3" cy="181.7" r="1.3" fill="#959595" stroke="#3a3a3a" stroke-width="0.75"/><circle cx="273.5" cy="188.2" r="1.3" fill="#959595" stroke="#3a3a3a" stroke-width="0.75"/><circle cx="254.8" cy="205.9" r="1.3" fill="#959595" stroke="#3a3a3a" stroke-width="0.75"/><circle cx="285.6" cy="182.7" r="1.3" fill="#959595" stroke="#3a3a3a" stroke-width="0.75"/><circle cx="239.9" cy="189.2" r="1.3" fill="#959595" stroke="#3a3a3a" stroke-width="0.75"/><circle cx="288.1" cy="212.3" r="1.3" fill="#959595" stroke="#3a3a3a" stroke-width="0.75"/><circle cx="262.8" cy="173.8" r="1.3" fill="#959595" stroke="#3a3a3a" stroke-width="0.75"/><circle cx="231.1" cy="235.5" r="1.3" fill="#959595" stroke="#3a3a3a" stroke-width="0.75"/><circle cx="243.4" cy="203.2" r="1.3" fill="#959595" stroke="#3a3a3a" stroke-width="0.75"/><circle cx="242.2" cy="199.5" r="1.3" fill="#959595" stroke="#3a3a3a" stroke-width="0.75"/><circle cx="227.6" cy="215.7" r="1.3" fill="#959595" stroke="#3a3a3a" stroke-width="0.75"/><circle cx="288.8" cy="174.3" r="1.3" fill="#959595" stroke="#3a3a3a" stroke-width="0.75"/><circle cx="254.5" cy="257.6" r="1.3" fill="#959595" stroke="#3a3a3a" stroke-width="0.75"/><circle cx="230.9" cy="169.8" r="1.3" fill="#959595" stroke="#3a3a3a" stroke-width="0.75"/><circle cx="255.9" cy="212.6" r="1.3" fill="#959595" stroke="#3a3a3a" stroke-width="0.75"/><circle cx="267.4" cy="278.2" r="1.3" fill="#959595" stroke="#3a3a3a" stroke-width="0.75"/><circle cx="264.4" cy="173.0" r="1.3" fill="#959595" stroke="#3a3a3a" stroke-width="0.75"/><circle cx="246.8" cy="228.2" r="1.3" fill="#959595" stroke="#3a3a3a" stroke-width="0.75"/><circle cx="210.5" cy="284.3" r="1.3" fill="#959595" stroke="#3a3a3a" stroke-width="0.75"/><circle cx="253.3" cy="299.1" r="1.3" fill="#959595" stroke="#3a3a3a" stroke-width="0.75"/><circle cx="288.8" cy="193.4" r="1.3" fill="#959595" stroke="#3a3a3a" stroke-width="0.75"/><circle cx="248.3" cy="220.3" r="1.3" fill="#959595" stroke="#3a3a3a" stroke-width="0.75"/><circle cx="247.1" cy="269.7" r="1.3" fill="#959595" stroke="#3a3a3a" stroke-width="0.75"/><circle cx="240.5" cy="221.0" r="1.3" fill="#959595" stroke="#3a3a3a" stroke-width="0.75"/><circle cx="237.9" cy="254.8" r="1.3" fill="#959595" stroke="#3a3a3a" stroke-width="0.75"/><circle cx="238.4" cy="228.4" r="1.3" fill="#959595" stroke="#3a3a3a" stroke-width="0.75"/><circle cx="180.0" cy="146.2" r="1.3" fill="#959595" stroke="#3a3a3a" stroke-width="0.75"/><circle cx="271.8" cy="193.9" r="1.3" fill="#959595" stroke="#3a3a3a" stroke-width="0.75"/><circle cx="298.4" cy="257.6" r="1.3" fill="#959595" stroke="#3a3a3a" stroke-width="0.75"/><circle cx="187.2" cy="205.6" r="1.3" fill="#959595" stroke="#3a3a3a" stroke-width="0.75"/><circle cx="276.1" cy="201.9" r="1.3" fill="#959595" stroke="#3a3a3a" stroke-width="0.75"/><circle cx="296.0" cy="189.3" r="1.3" fill="#959595" stroke="#3a3a3a" stroke-width="0.75"/><circle cx="228.5" cy="175.8" r="1.3" fill="#959595" stroke="#3a3a3a" stroke-width="0.75"/><circle cx="217.4" cy="225.4" r="1.3" fill="#959595" stroke="#3a3a3a" stroke-width="0.75"/><circle cx="236.9" cy="198.6" r="1.3" fill="#959595" stroke="#3a3a3a" stroke-width="0.75"/><circle cx="267.5" cy="255.5" r="1.3" fill="#959595" stroke="#3a3a3a" stroke-width="0.75"/><circle cx="188.5" cy="149.2" r="1.3" fill="#959595" stroke="#3a3a3a" stroke-width="0.75"/><circle cx="249.6" cy="254.2" r="1.3" fill="#959595" stroke="#3a3a3a" stroke-width="0.75"/><circle cx="270.3" cy="164.6" r="1.3" fill="#959595" stroke="#3a3a3a" stroke-width="0.75"/><circle cx="251.7" cy="245.8" r="1.3" fill="#959595" stroke="#3a3a3a" stroke-width="0.75"/><circle cx="166.1" cy="204.3" r="1.3" fill="#959595" stroke="#3a3a3a" stroke-width="0.75"/><circle cx="247.5" cy="233.7" r="1.3" fill="#959595" stroke="#3a3a3a" stroke-width="0.75"/><circle cx="246.0" cy="203.3" r="1.3" fill="#959595" stroke="#3a3a3a" stroke-width="0.75"/><circle cx="318.0" cy="174.7" r="1.3" fill="#959595" stroke="#3a3a3a" stroke-width="0.75"/><circle cx="244.5" cy="271.1" r="1.3" fill="#959595" stroke="#3a3a3a" stroke-width="0.75"/><circle cx="233.0" cy="222.8" r="1.3" fill="#959595" stroke="#3a3a3a" stroke-width="0.75"/><circle cx="240.7" cy="181.8" r="1.3" fill="#959595" stroke="#3a3a3a" stroke-width="0.75"/><circle cx="249.4" cy="217.4" r="1.3" fill="#959595" stroke="#3a3a3a" stroke-width="0.75"/><circle cx="274.7" cy="180.0" r="1.3" fill="#959595" stroke="#3a3a3a" stroke-width="0.75"/><circle cx="281.2" cy="198.5" r="1.3" fill="#959595" stroke="#3a3a3a" stroke-width="0.75"/><circle cx="241.7" cy="217.8" r="1.3" fill="#959595" stroke="#3a3a3a" stroke-width="0.75"/><circle cx="275.4" cy="218.3" r="1.3" fill="#959595" stroke="#3a3a3a" stroke-width="0.75"/><circle cx="290.2" cy="167.5" r="1.3" fill="#959595" stroke="#3a3a3a" stroke-width="0.75"/><circle cx="294.0" cy="178.6" r="1.3" fill="#959595" stroke="#3a3a3a" stroke-width="0.75"/><circle cx="208.8" cy="204.2" r="1.3" fill="#959595" stroke="#3a3a3a" stroke-width="0.75"/><circle cx="255.4" cy="209.7" r="1.3" fill="#959595" stroke="#3a3a3a" stroke-width="0.75"/><circle cx="246.2" cy="251.8" r="1.3" fill="#959595" stroke="#3a3a3a" stroke-width="0.75"/><circle cx="251.6" cy="215.6" r="1.3" fill="#959595" stroke="#3a3a3a" stroke-width="0.75"/><circle cx="251.1" cy="244.0" r="1.3" fill="#959595" stroke="#3a3a3a" stroke-width="0.75"/><circle cx="287.0" cy="195.0" r="1.3" fill="#959595" stroke="#3a3a3a" stroke-width="0.75"/><circle cx="248.0" cy="178.5" r="1.3" fill="#959595" stroke="#3a3a3a" stroke-width="0.75"/><circle cx="262.5" cy="187.9" r="1.3" fill="#959595" stroke="#3a3a3a" stroke-width="0.75"/><circle cx="203.3" cy="139.3" r="1.3" fill="#959595" stroke="#3a3a3a" stroke-width="0.75"/><circle cx="248.7" cy="195.5" r="1.3" fill="#959595" stroke="#3a3a3a" stroke-width="0.75"/><circle cx="249.7" cy="221.6" r="1.3" fill="#959595" stroke="#3a3a3a" stroke-width="0.75"/><circle cx="259.7" cy="248.6" r="1.3" fill="#959595" stroke="#3a3a3a" stroke-width="0.75"/><circle cx="238.0" cy="183.4" r="1.3" fill="#959595" stroke="#3a3a3a" stroke-width="0.75"/><circle cx="234.4" cy="229.7" r="1.3" fill="#959595" stroke="#3a3a3a" stroke-width="0.75"/><circle cx="182.8" cy="235.8" r="1.3" fill="#959595" stroke="#3a3a3a" stroke-width="0.75"/><circle cx="254.8" cy="227.8" r="1.3" fill="#959595" stroke="#3a3a3a" stroke-width="0.75"/><circle cx="221.4" cy="279.0" r="1.3" fill="#959595" stroke="#3a3a3a" stroke-width="0.75"/><circle cx="272.0" cy="215.8" r="1.3" fill="#959595" stroke="#3a3a3a" stroke-width="0.75"/><circle cx="267.5" cy="202.4" r="1.3" fill="#959595" stroke="#3a3a3a" stroke-width="0.75"/><circle cx="255.6" cy="211.3" r="1.3" fill="#959595" stroke="#3a3a3a" stroke-width="0.75"/><circle cx="220.8" cy="116.0" r="1.3" fill="#959595" stroke="#3a3a3a" stroke-width="0.75"/><circle cx="207.3" cy="118.1" r="1.3" fill="#959595" stroke="#3a3a3a" stroke-width="0.75"/><circle cx="245.3" cy="207.5" r="1.3" fill="#959595" stroke="#3a3a3a" stroke-width="0.75"/><circle cx="258.2" cy="196.5" r="1.3" fill="#959595" stroke="#3a3a3a" stroke-width="0.75"/><circle cx="218.3" cy="172.8" r="1.3" fill="#959595" stroke="#3a3a3a" stroke-width="0.75"/><circle cx="256.7" cy="194.3" r="1.3" fill="#959595" stroke="#3a3a3a" stroke-width="0.75"/><circle cx="221.1" cy="222.4" r="1.3" fill="#959595" stroke="#3a3a3a" stroke-width="0.75"/><circle cx="230.0" cy="210.1" r="1.3" fill="#959595" stroke="#3a3a3a" stroke-width="0.75"/><circle cx="243.1" cy="198.3" r="1.3" fill="#959595" stroke="#3a3a3a" stroke-width="0.75"/><circle cx="243.1" cy="237.6" r="1.3" fill="#959595" stroke="#3a3a3a" stroke-width="0.75"/><circle cx="226.6" cy="153.9" r="1.3" fill="#959595" stroke="#3a3a3a" stroke-width="0.75"/><circle cx="255.1" cy="256.8" r="1.3" fill="#959595" stroke="#3a3a3a" stroke-width="0.75"/><circle cx="233.6" cy="226.7" r="1.3" fill="#959595" stroke="#3a3a3a" stroke-width="0.75"/><circle cx="252.7" cy="200.3" r="1.3" fill="#959595" stroke="#3a3a3a" stroke-width="0.75"/><circle cx="258.7" cy="227.0" r="1.3" fill="#959595" stroke="#3a3a3a" stroke-width="0.75"/><circle cx="251.5" cy="268.4" r="1.3" fill="#959595" stroke="#3a3a3a" stroke-width="0.75"/><circle cx="254.6" cy="223.7" r="1.3" fill="#959595" stroke="#3a3a3a" stroke-width="0.75"/><circle cx="297.5" cy="224.3" r="1.3" fill="#959595" stroke="#3a3a3a" stroke-width="0.75"/><circle cx="269.1" cy="229.0" r="1.3" fill="#959595" stroke="#3a3a3a" stroke-width="0.75"/><circle cx="254.8" cy="262.6" r="1.3" fill="#959595" stroke="#3a3a3a" stroke-width="0.75"/><circle cx="236.4" cy="257.4" r="1.3" fill="#959595" stroke="#3a3a3a" stroke-width="0.75"/><circle cx="259.1" cy="187.7" r="1.3" fill="#959595" stroke="#3a3a3a" stroke-width="0.75"/><circle cx="278.2" cy="136.3" r="1.3" fill="#959595" stroke="#3a3a3a" stroke-width="0.75"/><circle cx="249.3" cy="187.7" r="1.3" fill="#959595" stroke="#3a3a3a" stroke-width="0.75"/><circle cx="248.2" cy="196.0" r="1.3" fill="#959595" stroke="#3a3a3a" stroke-width="0.75"/><circle cx="255.7" cy="184.8" r="1.3" fill="#959595" stroke="#3a3a3a" stroke-width="0.75"/><circle cx="292.8" cy="203.3" r="1.3" fill="#959595" stroke="#3a3a3a" stroke-width="0.75"/><circle cx="234.6" cy="268.8" r="1.3" fill="#959595" stroke="#3a3a3a" stroke-width="0.75"/><circle cx="260.9" cy="178.4" r="1.3" fill="#959595" stroke="#3a3a3a" stroke-width="0.75"/><circle cx="296.7" cy="196.2" r="1.3" fill="#959595" stroke="#3a3a3a" stroke-width="0.75"/><circle cx="236.4" cy="247.6" r="1.3" fill="#959595" stroke="#3a3a3a" stroke-width="0.75"/><circle cx="259.6" cy="171.3" r="1.3" fill="#959595" stroke="#3a3a3a" stroke-width="0.75"/><circle cx="243.3" cy="194.1" r="1.3" fill="#959595" stroke="#3a3a3a" stroke-width="0.75"/><circle cx="282.1" cy="212.6" r="1.3" fill="#959595" stroke="#3a3a3a" stroke-width="0.75"/><circle cx="239.1" cy="237.6" r="1.3" fill="#959595" stroke="#3a3a3a" stroke-width="0.75"/><circle cx="239.9" cy="252.9" r="1.3" fill="#959595" stroke="#3a3a3a" stroke-width="0.75"/><circle cx="242.4" cy="185.0" r="1.3" fill="#959595" stroke="#3a3a3a" stroke-width="0.75"/><circle cx="209.2" cy="273.9" r="1.3" fill="#959595" stroke="#3a3a3a" stroke-width="0.75"/><circle cx="283.9" cy="201.7" r="1.3" fill="#959595" stroke="#3a3a3a" stroke-width="0.75"/><circle cx="258.4" cy="172.0" r="1.3" fill="#959595" stroke="#3a3a3a" stroke-width="0.75"/><circle cx="210.1" cy="175.8" r="1.3" fill="#959595" stroke="#3a3a3a" stroke-width="0.75"/><circle cx="222.4" cy="202.7" r="1.3" fill="#959595" stroke="#3a3a3a" stroke-width="0.75"/><circle cx="253.7" cy="243.7" r="1.3" fill="#959595" stroke="#3a3a3a" stroke-width="0.75"/><circle cx="289.3" cy="158.8" r="1.3" fill="#959595" stroke="#3a3a3a" stroke-width="0.75"/><circle cx="259.7" cy="181.8" r="1.3" fill="#959595" stroke="#3a3a3a" stroke-width="0.75"/><circle cx="284.4" cy="241.2" r="1.3" fill="#959595" stroke="#3a3a3a" stroke-width="0.75"/><circle cx="250.6" cy="245.2" r="1.3" fill="#959595" stroke="#3a3a3a" stroke-width="0.75"/><circle cx="273.6" cy="179.7" r="1.3" fill="#959595" stroke="#3a3a3a" stroke-width="0.75"/><circle cx="241.3" cy="154.3" r="1.3" fill="#959595" stroke="#3a3a3a" stroke-width="0.75"/><circle cx="249.2" cy="223.1" r="1.3" fill="#959595" stroke="#3a3a3a" stroke-width="0.75"/><circle cx="262.3" cy="240.9" r="1.3" fill="#959595" stroke="#3a3a3a" stroke-width="0.75"/><circle cx="282.0" cy="151.7" r="1.3" fill="#959595" stroke="#3a3a3a" stroke-width="0.75"/><circle cx="227.4" cy="210.8" r="1.3" fill="#959595" stroke="#3a3a3a" stroke-width="0.75"/><circle cx="298.3" cy="172.6" r="1.3" fill="#959595" stroke="#3a3a3a" stroke-width="0.75"/><circle cx="279.6" cy="217.0" r="1.3" fill="#959595" stroke="#3a3a3a" stroke-width="0.75"/><circle cx="271.7" cy="168.8" r="1.3" fill="#959595" stroke="#3a3a3a" stroke-width="0.75"/><circle cx="266.1" cy="171.9" r="1.3" fill="#959595" stroke="#3a3a3a" stroke-width="0.75"/><circle cx="281.3" cy="211.3" r="1.3" fill="#959595" stroke="#3a3a3a" stroke-width="0.75"/><circle cx="274.0" cy="270.1" r="1.3" fill="#959595" stroke="#3a3a3a" stroke-width="0.75"/><circle cx="249.0" cy="141.6" r="1.3" fill="#959595" stroke="#3a3a3a" stroke-width="0.75"/><circle cx="231.5" cy="166.0" r="1.3" fill="#959595" stroke="#3a3a3a" stroke-width="0.75"/><circle cx="296.6" cy="179.2" r="1.3" fill="#959595" stroke="#3a3a3a" stroke-width="0.75"/><circle cx="230.3" cy="244.7" r="1.3" fill="#959595" stroke="#3a3a3a" stroke-width="0.75"/><circle cx="279.7" cy="183.3" r="1.3" fill="#959595" stroke="#3a3a3a" stroke-width="0.75"/><circle cx="284.3" cy="186.8" r="1.3" fill="#959595" stroke="#3a3a3a" stroke-width="0.75"/><circle cx="245.2" cy="202.0" r="1.3" fill="#959595" stroke="#3a3a3a" stroke-width="0.75"/><circle cx="243.3" cy="251.4" r="1.3" fill="#959595" stroke="#3a3a3a" stroke-width="0.75"/><circle cx="266.7" cy="187.9" r="1.3" fill="#959595" stroke="#3a3a3a" stroke-width="0.75"/><circle cx="241.6" cy="205.5" r="1.3" fill="#959595" stroke="#3a3a3a" stroke-width="0.75"/><circle cx="262.3" cy="205.1" r="1.3" fill="#959595" stroke="#3a3a3a" stroke-width="0.75"/><circle cx="287.3" cy="207.9" r="1.3" fill="#959595" stroke="#3a3a3a" stroke-width="0.75"/><circle cx="286.0" cy="202.6" r="1.3" fill="#959595" stroke="#3a3a3a" stroke-width="0.75"/><circle cx="249.5" cy="242.9" r="1.3" fill="#959595" stroke="#3a3a3a" stroke-width="0.75"/><circle cx="272.6" cy="179.5" r="1.3" fill="#959595" stroke="#3a3a3a" stroke-width="0.75"/><circle cx="247.2" cy="208.4" r="1.3" fill="#959595" stroke="#3a3a3a" stroke-width="0.75"/><circle cx="258.1" cy="171.7" r="1.3" fill="#959595" stroke="#3a3a3a" stroke-width="0.75"/><circle cx="272.7" cy="253.1" r="1.3" fill="#959595" stroke="#3a3a3a" stroke-width="0.75"/><circle cx="292.3" cy="200.6" r="1.3" fill="#959595" stroke="#3a3a3a" stroke-width="0.75"/><circle cx="224.3" cy="305.5" r="1.3" fill="#959595" stroke="#3a3a3a" stroke-width="0.75"/><circle cx="249.3" cy="224.7" r="1.3" fill="#959595" stroke="#3a3a3a" stroke-width="0.75"/><circle cx="230.7" cy="180.6" r="1.3" fill="#959595" stroke="#3a3a3a" stroke-width="0.75"/><circle cx="262.6" cy="264.8" r="1.3" fill="#959595" stroke="#3a3a3a" stroke-width="0.75"/><circle cx="288.6" cy="188.4" r="1.3" fill="#959595" stroke="#3a3a3a" stroke-width="0.75"/><circle cx="270.1" cy="221.1" r="1.3" fill="#959595" stroke="#3a3a3a" stroke-width="0.75"/><circle cx="261.9" cy="236.3" r="1.3" fill="#959595" stroke="#3a3a3a" stroke-width="0.75"/><circle cx="188.3" cy="167.1" r="1.3" fill="#959595" stroke="#3a3a3a" stroke-width="0.75"/><circle cx="307.0" cy="177.1" r="1.3" fill="#959595" stroke="#3a3a3a" stroke-width="0.75"/><circle cx="223.4" cy="201.6" r="1.3" fill="#959595" stroke="#3a3a3a" stroke-width="0.75"/><circle cx="286.4" cy="194.2" r="1.3" fill="#959595" stroke="#3a3a3a" stroke-width="0.75"/><circle cx="299.4" cy="190.5" r="1.3" fill="#959595" stroke="#3a3a3a" stroke-width="0.75"/><circle cx="269.4" cy="186.8" r="1.3" fill="#959595" stroke="#3a3a3a" stroke-width="0.75"/><circle cx="212.6" cy="195.5" r="1.3" fill="#959595" stroke="#3a3a3a" stroke-width="0.75"/><circle cx="239.8" cy="287.6" r="1.3" fill="#959595" stroke="#3a3a3a" stroke-width="0.75"/><circle cx="214.8" cy="205.0" r="1.3" fill="#959595" stroke="#3a3a3a" stroke-width="0.75"/><circle cx="306.4" cy="203.8" r="1.3" fill="#959595" stroke="#3a3a3a" stroke-width="0.75"/><circle cx="278.1" cy="184.8" r="1.3" fill="#959595" stroke="#3a3a3a" stroke-width="0.75"/><circle cx="263.1" cy="178.8" r="1.3" fill="#959595" stroke="#3a3a3a" stroke-width="0.75"/><circle cx="252.2" cy="185.2" r="1.3" fill="#959595" stroke="#3a3a3a" stroke-width="0.75"/><circle cx="251.3" cy="256.6" r="1.3" fill="#959595" stroke="#3a3a3a" stroke-width="0.75"/><circle cx="255.8" cy="256.5" r="1.3" fill="#959595" stroke="#3a3a3a" stroke-width="0.75"/><circle cx="251.4" cy="176.4" r="1.3" fill="#959595" stroke="#3a3a3a" stroke-width="0.75"/><circle cx="245.2" cy="198.7" r="1.3" fill="#959595" stroke="#3a3a3a" stroke-width="0.75"/><circle cx="276.8" cy="215.2" r="1.3" fill="#959595" stroke="#3a3a3a" stroke-width="0.75"/><circle cx="231.0" cy="213.9" r="1.3" fill="#959595" stroke="#3a3a3a" stroke-width="0.75"/><circle cx="287.1" cy="179.7" r="1.3" fill="#959595" stroke="#3a3a3a" stroke-width="0.75"/><circle cx="248.2" cy="156.1" r="1.3" fill="#959595" stroke="#3a3a3a" stroke-width="0.75"/><circle cx="234.3" cy="241.0" r="1.3" fill="#959595" stroke="#3a3a3a" stroke-width="0.75"/><circle cx="247.8" cy="171.0" r="1.3" fill="#959595" stroke="#3a3a3a" stroke-width="0.75"/><circle cx="251.2" cy="198.4" r="1.3" fill="#959595" stroke="#3a3a3a" stroke-width="0.75"/><circle cx="242.4" cy="236.0" r="1.3" fill="#959595" stroke="#3a3a3a" stroke-width="0.75"/><circle cx="278.8" cy="226.8" r="1.3" fill="#959595" stroke="#3a3a3a" stroke-width="0.75"/><circle cx="250.5" cy="199.7" r="1.3" fill="#959595" stroke="#3a3a3a" stroke-width="0.75"/><circle cx="253.0" cy="241.8" r="1.3" fill="#959595" stroke="#3a3a3a" stroke-width="0.75"/><circle cx="245.6" cy="296.9" r="1.3" fill="#959595" stroke="#3a3a3a" stroke-width="0.75"/><circle cx="217.6" cy="206.1" r="1.3" fill="#959595" stroke="#3a3a3a" stroke-width="0.75"/><circle cx="246.9" cy="256.7" r="1.3" fill="#959595" stroke="#3a3a3a" stroke-width="0.75"/><circle cx="290.9" cy="209.9" r="1.3" fill="#959595" stroke="#3a3a3a" stroke-width="0.75"/><circle cx="262.6" cy="198.0" r="1.3" fill="#959595" stroke="#3a3a3a" stroke-width="0.75"/><circle cx="262.2" cy="292.1" r="1.3" fill="#959595" stroke="#3a3a3a" stroke-width="0.75"/><circle cx="256.4" cy="237.1" r="1.3" fill="#959595" stroke="#3a3a3a" stroke-width="0.75"/><circle cx="227.9" cy="172.1" r="1.3" fill="#959595" stroke="#3a3a3a" stroke-width="0.75"/><circle cx="286.9" cy="211.7" r="1.3" fill="#959595" stroke="#3a3a3a" stroke-width="0.75"/><circle cx="276.7" cy="196.9" r="1.3" fill="#959595" stroke="#3a3a3a" stroke-width="0.75"/><circle cx="257.7" cy="207.6" r="1.3" fill="#959595" stroke="#3a3a3a" stroke-width="0.75"/><circle cx="248.1" cy="235.7" r="1.3" fill="#959595" stroke="#3a3a3a" stroke-width="0.75"/><circle cx="296.5" cy="192.2" r="1.3" fill="#959595" stroke="#3a3a3a" stroke-width="0.75"/><circle cx="281.3" cy="217.9" r="1.3" fill="#959595" stroke="#3a3a3a" stroke-width="0.75"/><circle cx="263.4" cy="183.7" r="1.3" fill="#959595" stroke="#3a3a3a" stroke-width="0.75"/><circle cx="265.4" cy="202.0" r="1.3" fill="#959595" stroke="#3a3a3a" stroke-width="0.75"/><circle cx="235.1" cy="258.0" r="1.3" fill="#959595" stroke="#3a3a3a" stroke-width="0.75"/><circle cx="299.7" cy="232.3" r="1.3" fill="#959595" stroke="#3a3a3a" stroke-width="0.75"/><circle cx="240.1" cy="195.2" r="1.3" fill="#959595" stroke="#3a3a3a" stroke-width="0.75"/><circle cx="252.2" cy="187.3" r="1.3" fill="#959595" stroke="#3a3a3a" stroke-width="0.75"/><circle cx="220.9" cy="218.1" r="1.3" fill="#959595" stroke="#3a3a3a" stroke-width="0.75"/><circle cx="262.6" cy="205.3" r="1.3" fill="#959595" stroke="#3a3a3a" stroke-width="0.75"/><circle cx="230.3" cy="291.7" r="1.3" fill="#959595" stroke="#3a3a3a" stroke-width="0.75"/><circle cx="225.0" cy="189.3" r="1.3" fill="#959595" stroke="#3a3a3a" stroke-width="0.75"/><circle cx="263.4" cy="263.2" r="1.3" fill="#959595" stroke="#3a3a3a" stroke-width="0.75"/><circle cx="236.0" cy="183.5" r="1.3" fill="#959595" stroke="#3a3a3a" stroke-width="0.75"/><circle cx="274.2" cy="242.0" r="1.3" fill="#959595" stroke="#3a3a3a" stroke-width="0.75"/><circle cx="267.2" cy="252.6" r="1.3" fill="#959595" stroke="#3a3a3a" stroke-width="0.75"/><circle cx="257.5" cy="178.7" r="1.3" fill="#959595" stroke="#3a3a3a" stroke-width="0.75"/><circle cx="269.3" cy="202.8" r="1.3" fill="#959595" stroke="#3a3a3a" stroke-width="0.75"/><circle cx="271.7" cy="229.6" r="1.3" fill="#959595" stroke="#3a3a3a" stroke-width="0.75"/><circle cx="275.6" cy="199.1" r="1.3" fill="#959595" stroke="#3a3a3a" stroke-width="0.75"/><circle cx="279.6" cy="167.8" r="1.3" fill="#959595" stroke="#3a3a3a" stroke-width="0.75"/><circle cx="181.7" cy="237.0" r="1.3" fill="#959595" stroke="#3a3a3a" stroke-width="0.75"/><circle cx="269.3" cy="206.2" r="1.3" fill="#959595" stroke="#3a3a3a" stroke-width="0.75"/><circle cx="201.7" cy="178.9" r="1.3" fill="#959595" stroke="#3a3a3a" stroke-width="0.75"/><circle cx="247.7" cy="152.1" r="1.3" fill="#959595" stroke="#3a3a3a" stroke-width="0.75"/><circle cx="288.5" cy="209.4" r="1.3" fill="#959595" stroke="#3a3a3a" stroke-width="0.75"/><circle cx="277.7" cy="188.7" r="1.3" fill="#959595" stroke="#3a3a3a" stroke-width="0.75"/><circle cx="268.7" cy="243.1" r="1.3" fill="#959595" stroke="#3a3a3a" stroke-width="0.75"/><circle cx="286.8" cy="174.0" r="1.3" fill="#959595" stroke="#3a3a3a" stroke-width="0.75"/><circle cx="308.3" cy="129.9" r="1.3" fill="#959595" stroke="#3a3a3a" stroke-width="0.75"/><circle cx="264.3" cy="260.4" r="1.3" fill="#959595" stroke="#3a3a3a" stroke-width="0.75"/><circle cx="240.8" cy="200.0" r="1.3" fill="#959595" stroke="#3a3a3a" stroke-width="0.75"/><circle cx="262.2" cy="250.4" r="1.3" fill="#959595" stroke="#3a3a3a" stroke-width="0.75"/><circle cx="275.5" cy="214.4" r="1.3" fill="#959595" stroke="#3a3a3a" stroke-width="0.75"/><circle cx="256.4" cy="255.3" r="1.3" fill="#959595" stroke="#3a3a3a" stroke-width="0.75"/><circle cx="241.9" cy="268.9" r="1.3" fill="#959595" stroke="#3a3a3a" stroke-width="0.75"/><circle cx="290.3" cy="162.4" r="1.3" fill="#959595" stroke="#3a3a3a" stroke-width="0.75"/><circle cx="257.3" cy="187.5" r="1.3" fill="#959595" stroke="#3a3a3a" stroke-width="0.75"/><circle cx="286.4" cy="177.6" r="1.3" fill="#959595" stroke="#3a3a3a" stroke-width="0.75"/><circle cx="273.9" cy="274.9" r="1.3" fill="#959595" stroke="#3a3a3a" stroke-width="0.75"/><circle cx="284.4" cy="227.2" r="1.3" fill="#959595" stroke="#3a3a3a" stroke-width="0.75"/><circle cx="288.2" cy="264.1" r="1.3" fill="#959595" stroke="#3a3a3a" stroke-width="0.75"/><circle cx="248.7" cy="289.7" r="1.3" fill="#959595" stroke="#3a3a3a" stroke-width="0.75"/><circle cx="246.4" cy="240.6" r="1.3" fill="#959595" stroke="#3a3a3a" stroke-width="0.75"/><circle cx="248.1" cy="254.1" r="1.3" fill="#959595" stroke="#3a3a3a" stroke-width="0.75"/><circle cx="276.2" cy="268.1" r="1.3" fill="#959595" stroke="#3a3a3a" stroke-width="0.75"/><circle cx="268.7" cy="218.8" r="1.3" fill="#959595" stroke="#3a3a3a" stroke-width="0.75"/><circle cx="275.2" cy="244.4" r="1.3" fill="#959595" stroke="#3a3a3a" stroke-width="0.75"/><circle cx="252.8" cy="284.0" r="1.3" fill="#959595" stroke="#3a3a3a" stroke-width="0.75"/><circle cx="240.5" cy="205.6" r="1.3" fill="#959595" stroke="#3a3a3a" stroke-width="0.75"/><circle cx="254.6" cy="181.4" r="1.3" fill="#959595" stroke="#3a3a3a" stroke-width="0.75"/><circle cx="264.7" cy="224.9" r="1.3" fill="#959595" stroke="#3a3a3a" stroke-width="0.75"/><circle cx="201.3" cy="154.8" r="1.3" fill="#959595" stroke="#3a3a3a" stroke-width="0.75"/><circle cx="247.9" cy="190.5" r="1.3" fill="#959595" stroke="#3a3a3a" stroke-width="0.75"/><circle cx="259.9" cy="196.8" r="1.3" fill="#959595" stroke="#3a3a3a" stroke-width="0.75"/><circle cx="247.3" cy="242.3" r="1.3" fill="#959595" stroke="#3a3a3a" stroke-width="0.75"/><circle cx="222.6" cy="138.3" r="1.3" fill="#959595" stroke="#3a3a3a" stroke-width="0.75"/><circle cx="257.4" cy="191.1" r="1.3" fill="#959595" stroke="#3a3a3a" stroke-width="0.75"/><circle cx="224.8" cy="190.3" r="1.3" fill="#959595" stroke="#3a3a3a" stroke-width="0.75"/><circle cx="245.0" cy="224.7" r="1.3" fill="#959595" stroke="#3a3a3a" stroke-width="0.75"/><circle cx="256.2" cy="255.0" r="1.3" fill="#959595" stroke="#3a3a3a" stroke-width="0.75"/><circle cx="226.1" cy="206.9" r="1.3" fill="#959595" stroke="#3a3a3a" stroke-width="0.75"/><circle cx="229.1" cy="249.7" r="1.3" fill="#959595" stroke="#3a3a3a" stroke-width="0.75"/><circle cx="269.9" cy="200.8" r="1.3" fill="#959595" stroke="#3a3a3a" stroke-width="0.75"/><circle cx="233.6" cy="208.8" r="1.3" fill="#959595" stroke="#3a3a3a" stroke-width="0.75"/><circle cx="253.2" cy="191.8" r="1.3" fill="#959595" stroke="#3a3a3a" stroke-width="0.75"/><circle cx="242.2" cy="179.1" r="1.3" fill="#959595" stroke="#3a3a3a" stroke-width="0.75"/><circle cx="247.0" cy="257.7" r="1.3" fill="#959595" stroke="#3a3a3a" stroke-width="0.75"/><circle cx="299.0" cy="217.6" r="1.3" fill="#959595" stroke="#3a3a3a" stroke-width="0.75"/><circle cx="255.3" cy="186.9" r="1.3" fill="#959595" stroke="#3a3a3a" stroke-width="0.75"/><circle cx="267.9" cy="211.4" r="1.3" fill="#959595" stroke="#3a3a3a" stroke-width="0.75"/><circle cx="221.1" cy="199.1" r="1.3" fill="#959595" stroke="#3a3a3a" stroke-width="0.75"/><circle cx="321.7" cy="145.7" r="1.3" fill="#959595" stroke="#3a3a3a" stroke-width="0.75"/><circle cx="232.2" cy="228.5" r="1.3" fill="#959595" stroke="#3a3a3a" stroke-width="0.75"/><circle cx="243.9" cy="253.8" r="1.3" fill="#959595" stroke="#3a3a3a" stroke-width="0.75"/><circle cx="265.0" cy="218.6" r="1.3" fill="#959595" stroke="#3a3a3a" stroke-width="0.75"/><circle cx="268.6" cy="173.0" r="1.3" fill="#959595" stroke="#3a3a3a" stroke-width="0.75"/><circle cx="253.0" cy="200.9" r="1.3" fill="#959595" stroke="#3a3a3a" stroke-width="0.75"/><circle cx="224.5" cy="180.5" r="1.3" fill="#959595" stroke="#3a3a3a" stroke-width="0.75"/><circle cx="248.9" cy="177.0" r="1.3" fill="#959595" stroke="#3a3a3a" stroke-width="0.75"/><circle cx="297.0" cy="188.6" r="1.3" fill="#959595" stroke="#3a3a3a" stroke-width="0.75"/><circle cx="248.9" cy="258.9" r="1.3" fill="#959595" stroke="#3a3a3a" stroke-width="0.75"/><circle cx="272.3" cy="248.9" r="1.3" fill="#959595" stroke="#3a3a3a" stroke-width="0.75"/><circle cx="259.8" cy="240.3" r="1.3" fill="#959595" stroke="#3a3a3a" stroke-width="0.75"/><circle cx="254.1" cy="265.5" r="1.3" fill="#959595" stroke="#3a3a3a" stroke-width="0.75"/><circle cx="288.7" cy="167.9" r="1.3" fill="#959595" stroke="#3a3a3a" stroke-width="0.75"/><circle cx="271.2" cy="181.9" r="1.3" fill="#959595" stroke="#3a3a3a" stroke-width="0.75"/><circle cx="202.3" cy="149.7" r="1.3" fill="#959595" stroke="#3a3a3a" stroke-width="0.75"/><circle cx="225.7" cy="114.6" r="1.3" fill="#959595" stroke="#3a3a3a" stroke-width="0.75"/><circle cx="213.3" cy="223.0" r="1.3" fill="#959595" stroke="#3a3a3a" stroke-width="0.75"/><circle cx="251.6" cy="199.1" r="1.3" fill="#959595" stroke="#3a3a3a" stroke-width="0.75"/><circle cx="244.5" cy="214.3" r="1.3" fill="#959595" stroke="#3a3a3a" stroke-width="0.75"/><circle cx="249.4" cy="253.4" r="1.3" fill="#959595" stroke="#3a3a3a" stroke-width="0.75"/><circle cx="236.1" cy="188.0" r="1.3" fill="#959595" stroke="#3a3a3a" stroke-width="0.75"/><circle cx="234.9" cy="184.6" r="1.3" fill="#959595" stroke="#3a3a3a" stroke-width="0.75"/><circle cx="236.3" cy="245.9" r="1.3" fill="#959595" stroke="#3a3a3a" stroke-width="0.75"/><circle cx="186.8" cy="140.0" r="1.3" fill="#959595" stroke="#3a3a3a" stroke-width="0.75"/><circle cx="226.5" cy="265.1" r="1.3" fill="#959595" stroke="#3a3a3a" stroke-width="0.75"/><circle cx="282.5" cy="193.6" r="1.3" fill="#959595" stroke="#3a3a3a" stroke-width="0.75"/><circle cx="213.4" cy="144.3" r="1.3" fill="#959595" stroke="#3a3a3a" stroke-width="0.75"/><circle cx="255.2" cy="182.0" r="1.3" fill="#959595" stroke="#3a3a3a" stroke-width="0.75"/><circle cx="209.6" cy="162.2" r="1.3" fill="#959595" stroke="#3a3a3a" stroke-width="0.75"/><circle cx="238.2" cy="249.4" r="1.3" fill="#959595" stroke="#3a3a3a" stroke-width="0.75"/><circle cx="207.1" cy="154.3" r="1.3" fill="#959595" stroke="#3a3a3a" stroke-width="0.75"/><circle cx="230.9" cy="153.0" r="1.3" fill="#959595" stroke="#3a3a3a" stroke-width="0.75"/><circle cx="241.4" cy="219.2" r="1.3" fill="#959595" stroke="#3a3a3a" stroke-width="0.75"/><circle cx="277.3" cy="180.7" r="1.3" fill="#959595" stroke="#3a3a3a" stroke-width="0.75"/><circle cx="271.2" cy="192.4" r="1.3" fill="#959595" stroke="#3a3a3a" stroke-width="0.75"/><circle cx="256.8" cy="239.4" r="1.3" fill="#959595" stroke="#3a3a3a" stroke-width="0.75"/><circle cx="299.2" cy="200.7" r="1.3" fill="#959595" stroke="#3a3a3a" stroke-width="0.75"/><circle cx="218.8" cy="232.4" r="1.3" fill="#959595" stroke="#3a3a3a" stroke-width="0.75"/><circle cx="278.0" cy="187.3" r="1.3" fill="#959595" stroke="#3a3a3a" stroke-width="0.75"/><circle cx="259.0" cy="171.4" r="1.3" fill="#959595" stroke="#3a3a3a" stroke-width="0.75"/><circle cx="259.2" cy="158.9" r="1.3" fill="#959595" stroke="#3a3a3a" stroke-width="0.75"/><circle cx="232.9" cy="248.9" r="1.3" fill="#959595" stroke="#3a3a3a" stroke-width="0.75"/><circle cx="239.4" cy="170.8" r="1.3" fill="#959595" stroke="#3a3a3a" stroke-width="0.75"/><circle cx="255.7" cy="161.1" r="1.3" fill="#959595" stroke="#3a3a3a" stroke-width="0.75"/><circle cx="279.4" cy="174.2" r="1.3" fill="#959595" stroke="#3a3a3a" stroke-width="0.75"/><circle cx="307.6" cy="209.1" r="1.3" fill="#959595" stroke="#3a3a3a" stroke-width="0.75"/><circle cx="235.1" cy="227.9" r="1.3" fill="#959595" stroke="#3a3a3a" stroke-width="0.75"/><circle cx="248.7" cy="207.5" r="1.3" fill="#959595" stroke="#3a3a3a" stroke-width="0.75"/><circle cx="282.6" cy="219.9" r="1.3" fill="#959595" stroke="#3a3a3a" stroke-width="0.75"/><circle cx="269.4" cy="207.9" r="1.3" fill="#959595" stroke="#3a3a3a" stroke-width="0.75"/><circle cx="288.9" cy="233.7" r="1.3" fill="#959595" stroke="#3a3a3a" stroke-width="0.75"/><circle cx="228.7" cy="218.6" r="1.3" fill="#959595" stroke="#3a3a3a" stroke-width="0.75"/><circle cx="208.2" cy="177.8" r="1.3" fill="#959595" stroke="#3a3a3a" stroke-width="0.75"/><circle cx="281.2" cy="192.6" r="1.3" fill="#959595" stroke="#3a3a3a" stroke-width="0.75"/><circle cx="247.5" cy="296.6" r="1.3" fill="#959595" stroke="#3a3a3a" stroke-width="0.75"/><circle cx="230.0" cy="203.5" r="1.3" fill="#959595" stroke="#3a3a3a" stroke-width="0.75"/><circle cx="298.7" cy="225.0" r="1.3" fill="#959595" stroke="#3a3a3a" stroke-width="0.75"/><circle cx="265.3" cy="176.1" r="1.3" fill="#959595" stroke="#3a3a3a" stroke-width="0.75"/><circle cx="274.3" cy="225.7" r="1.3" fill="#959595" stroke="#3a3a3a" stroke-width="0.75"/><circle cx="241.4" cy="228.9" r="1.3" fill="#959595" stroke="#3a3a3a" stroke-width="0.75"/><circle cx="233.7" cy="175.5" r="1.3" fill="#959595" stroke="#3a3a3a" stroke-width="0.75"/><circle cx="229.7" cy="269.8" r="1.3" fill="#959595" stroke="#3a3a3a" stroke-width="0.75"/><circle cx="226.9" cy="198.2" r="1.3" fill="#959595" stroke="#3a3a3a" stroke-width="0.75"/><circle cx="275.7" cy="193.5" r="1.3" fill="#959595" stroke="#3a3a3a" stroke-width="0.75"/><circle cx="216.1" cy="226.7" r="1.3" fill="#959595" stroke="#3a3a3a" stroke-width="0.75"/><circle cx="257.8" cy="263.2" r="1.3" fill="#959595" stroke="#3a3a3a" stroke-width="0.75"/><circle cx="230.3" cy="248.2" r="1.3" fill="#959595" stroke="#3a3a3a" stroke-width="0.75"/><circle cx="293.4" cy="213.5" r="1.3" fill="#959595" stroke="#3a3a3a" stroke-width="0.75"/><circle cx="261.5" cy="153.6" r="1.3" fill="#959595" stroke="#3a3a3a" stroke-width="0.75"/><circle cx="264.0" cy="206.3" r="1.3" fill="#959595" stroke="#3a3a3a" stroke-width="0.75"/><circle cx="283.0" cy="219.9" r="1.3" fill="#959595" stroke="#3a3a3a" stroke-width="0.75"/><circle cx="264.6" cy="247.7" r="1.3" fill="#959595" stroke="#3a3a3a" stroke-width="0.75"/><circle cx="300.2" cy="179.6" r="1.3" fill="#959595" stroke="#3a3a3a" stroke-width="0.75"/><circle cx="273.0" cy="204.6" r="1.3" fill="#959595" stroke="#3a3a3a" stroke-width="0.75"/><circle cx="207.8" cy="222.2" r="1.3" fill="#959595" stroke="#3a3a3a" stroke-width="0.75"/><circle cx="234.6" cy="227.8" r="1.3" fill="#959595" stroke="#3a3a3a" stroke-width="0.75"/><circle cx="239.3" cy="150.5" r="1.3" fill="#959595" stroke="#3a3a3a" stroke-width="0.75"/><circle cx="261.5" cy="254.5" r="1.3" fill="#959595" stroke="#3a3a3a" stroke-width="0.75"/><circle cx="294.3" cy="168.3" r="1.3" fill="#959595" stroke="#3a3a3a" stroke-width="0.75"/><circle cx="267.2" cy="250.3" r="1.3" fill="#959595" stroke="#3a3a3a" stroke-width="0.75"/><circle cx="253.1" cy="252.6" r="1.3" fill="#959595" stroke="#3a3a3a" stroke-width="0.75"/><circle cx="215.1" cy="219.7" r="1.3" fill="#959595" stroke="#3a3a3a" stroke-width="0.75"/><circle cx="286.0" cy="211.1" r="1.3" fill="#959595" stroke="#3a3a3a" stroke-width="0.75"/><circle cx="213.1" cy="194.4" r="1.3" fill="#959595" stroke="#3a3a3a" stroke-width="0.75"/><circle cx="265.9" cy="197.8" r="1.3" fill="#959595" stroke="#3a3a3a" stroke-width="0.75"/><circle cx="287.3" cy="263.4" r="1.3" fill="#959595" stroke="#3a3a3a" stroke-width="0.75"/><circle cx="277.0" cy="223.2" r="1.3" fill="#959595" stroke="#3a3a3a" stroke-width="0.75"/><circle cx="266.8" cy="204.1" r="1.3" fill="#959595" stroke="#3a3a3a" stroke-width="0.75"/><circle cx="289.0" cy="194.6" r="1.3" fill="#959595" stroke="#3a3a3a" stroke-width="0.75"/><circle cx="254.3" cy="298.5" r="1.3" fill="#959595" stroke="#3a3a3a" stroke-width="0.75"/><circle cx="253.7" cy="267.2" r="1.3" fill="#959595" stroke="#3a3a3a" stroke-width="0.75"/><circle cx="254.4" cy="264.8" r="1.3" fill="#959595" stroke="#3a3a3a" stroke-width="0.75"/><circle cx="286.2" cy="264.1" r="1.3" fill="#959595" stroke="#3a3a3a" stroke-width="0.75"/><circle cx="272.9" cy="195.0" r="1.3" fill="#959595" stroke="#3a3a3a" stroke-width="0.75"/><circle cx="242.8" cy="247.6" r="1.3" fill="#959595" stroke="#3a3a3a" stroke-width="0.75"/><circle cx="235.4" cy="227.1" r="1.3" fill="#959595" stroke="#3a3a3a" stroke-width="0.75"/><circle cx="279.9" cy="261.8" r="1.3" fill="#959595" stroke="#3a3a3a" stroke-width="0.75"/><circle cx="271.1" cy="232.2" r="1.3" fill="#959595" stroke="#3a3a3a" stroke-width="0.75"/><circle cx="236.8" cy="247.6" r="1.3" fill="#959595" stroke="#3a3a3a" stroke-width="0.75"/><circle cx="260.3" cy="241.3" r="1.3" fill="#959595" stroke="#3a3a3a" stroke-width="0.75"/><circle cx="263.9" cy="215.9" r="1.3" fill="#959595" stroke="#3a3a3a" stroke-width="0.75"/><circle cx="230.7" cy="228.7" r="1.3" fill="#959595" stroke="#3a3a3a" stroke-width="0.75"/><circle cx="276.6" cy="160.1" r="1.3" fill="#959595" stroke="#3a3a3a" stroke-width="0.75"/><circle cx="238.4" cy="197.9" r="1.3" fill="#959595" stroke="#3a3a3a" stroke-width="0.75"/><circle cx="246.5" cy="242.3" r="1.3" fill="#959595" stroke="#3a3a3a" stroke-width="0.75"/><circle cx="281.8" cy="164.9" r="1.3" fill="#959595" stroke="#3a3a3a" stroke-width="0.75"/><circle cx="241.3" cy="192.7" r="1.3" fill="#959595" stroke="#3a3a3a" stroke-width="0.75"/><circle cx="251.4" cy="220.8" r="1.3" fill="#959595" stroke="#3a3a3a" stroke-width="0.75"/><circle cx="240.5" cy="203.3" r="1.3" fill="#959595" stroke="#3a3a3a" stroke-width="0.75"/><circle cx="288.2" cy="159.9" r="1.3" fill="#959595" stroke="#3a3a3a" stroke-width="0.75"/><circle cx="254.6" cy="176.4" r="1.3" fill="#959595" stroke="#3a3a3a" stroke-width="0.75"/><circle cx="269.7" cy="224.6" r="1.3" fill="#959595" stroke="#3a3a3a" stroke-width="0.75"/><circle cx="261.5" cy="212.3" r="1.3" fill="#959595" stroke="#3a3a3a" stroke-width="0.75"/><circle cx="262.6" cy="216.7" r="1.3" fill="#959595" stroke="#3a3a3a" stroke-width="0.75"/><circle cx="255.1" cy="260.1" r="1.3" fill="#959595" stroke="#3a3a3a" stroke-width="0.75"/><circle cx="264.7" cy="266.9" r="1.3" fill="#959595" stroke="#3a3a3a" stroke-width="0.75"/><circle cx="292.8" cy="188.7" r="1.3" fill="#959595" stroke="#3a3a3a" stroke-width="0.75"/><circle cx="246.4" cy="256.6" r="1.3" fill="#959595" stroke="#3a3a3a" stroke-width="0.75"/><circle cx="234.0" cy="210.1" r="1.3" fill="#959595" stroke="#3a3a3a" stroke-width="0.75"/><circle cx="237.1" cy="222.8" r="1.3" fill="#959595" stroke="#3a3a3a" stroke-width="0.75"/><circle cx="258.3" cy="166.2" r="1.3" fill="#959595" stroke="#3a3a3a" stroke-width="0.75"/><circle cx="278.9" cy="198.7" r="1.3" fill="#959595" stroke="#3a3a3a" stroke-width="0.75"/><circle cx="252.3" cy="272.0" r="1.3" fill="#959595" stroke="#3a3a3a" stroke-width="0.75"/><circle cx="250.4" cy="268.0" r="1.3" fill="#959595" stroke="#3a3a3a" stroke-width="0.75"/><circle cx="212.0" cy="200.5" r="1.3" fill="#959595" stroke="#3a3a3a" stroke-width="0.75"/><circle cx="246.7" cy="184.7" r="1.3" fill="#959595" stroke="#3a3a3a" stroke-width="0.75"/><circle cx="247.4" cy="276.1" r="1.3" fill="#959595" stroke="#3a3a3a" stroke-width="0.75"/><circle cx="224.6" cy="208.5" r="1.3" fill="#959595" stroke="#3a3a3a" stroke-width="0.75"/><circle cx="230.1" cy="271.2" r="1.3" fill="#959595" stroke="#3a3a3a" stroke-width="0.75"/><circle cx="208.7" cy="145.1" r="1.3" fill="#959595" stroke="#3a3a3a" stroke-width="0.75"/><circle cx="233.0" cy="217.6" r="1.3" fill="#959595" stroke="#3a3a3a" stroke-width="0.75"/><circle cx="278.5" cy="187.9" r="1.3" fill="#959595" stroke="#3a3a3a" stroke-width="0.75"/><circle cx="318.6" cy="113.0" r="1.3" fill="#959595" stroke="#3a3a3a" stroke-width="0.75"/><circle cx="282.1" cy="206.7" r="1.3" fill="#959595" stroke="#3a3a3a" stroke-width="0.75"/><circle cx="245.8" cy="271.3" r="1.3" fill="#959595" stroke="#3a3a3a" stroke-width="0.75"/><circle cx="220.8" cy="204.3" r="1.3" fill="#959595" stroke="#3a3a3a" stroke-width="0.75"/><circle cx="228.1" cy="181.4" r="1.3" fill="#959595" stroke="#3a3a3a" stroke-width="0.75"/><circle cx="248.4" cy="228.4" r="1.3" fill="#959595" stroke="#3a3a3a" stroke-width="0.75"/><circle cx="259.8" cy="254.8" r="1.3" fill="#959595" stroke="#3a3a3a" stroke-width="0.75"/><circle cx="290.2" cy="235.4" r="1.3" fill="#959595" stroke="#3a3a3a" stroke-width="0.75"/><circle cx="275.6" cy="184.0" r="1.3" fill="#959595" stroke="#3a3a3a" stroke-width="0.75"/><circle cx="249.3" cy="238.8" r="1.3" fill="#959595" stroke="#3a3a3a" stroke-width="0.75"/><circle cx="245.5" cy="238.3" r="1.3" fill="#959595" stroke="#3a3a3a" stroke-width="0.75"/><circle cx="237.2" cy="204.3" r="1.3" fill="#959595" stroke="#3a3a3a" stroke-width="0.75"/><circle cx="243.5" cy="235.3" r="1.3" fill="#959595" stroke="#3a3a3a" stroke-width="0.75"/><circle cx="276.3" cy="145.7" r="1.3" fill="#959595" stroke="#3a3a3a" stroke-width="0.75"/><circle cx="243.4" cy="180.3" r="1.3" fill="#959595" stroke="#3a3a3a" stroke-width="0.75"/><circle cx="257.1" cy="197.1" r="1.3" fill="#959595" stroke="#3a3a3a" stroke-width="0.75"/><circle cx="245.2" cy="265.1" r="1.3" fill="#959595" stroke="#3a3a3a" stroke-width="0.75"/><circle cx="216.8" cy="228.2" r="1.3" fill="#959595" stroke="#3a3a3a" stroke-width="0.75"/><circle cx="313.3" cy="224.5" r="1.3" fill="#959595" stroke="#3a3a3a" stroke-width="0.75"/><circle cx="249.9" cy="245.8" r="1.3" fill="#959595" stroke="#3a3a3a" stroke-width="0.75"/><circle cx="233.6" cy="231.1" r="1.3" fill="#959595" stroke="#3a3a3a" stroke-width="0.75"/><circle cx="278.4" cy="156.3" r="1.3" fill="#959595" stroke="#3a3a3a" stroke-width="0.75"/><circle cx="260.5" cy="257.2" r="1.3" fill="#959595" stroke="#3a3a3a" stroke-width="0.75"/><circle cx="243.4" cy="236.5" r="1.3" fill="#959595" stroke="#3a3a3a" stroke-width="0.75"/><circle cx="245.9" cy="181.4" r="1.3" fill="#959595" stroke="#3a3a3a" stroke-width="0.75"/><circle cx="238.1" cy="217.1" r="1.3" fill="#959595" stroke="#3a3a3a" stroke-width="0.75"/><circle cx="251.8" cy="203.5" r="1.3" fill="#959595" stroke="#3a3a3a" stroke-width="0.75"/><circle cx="279.7" cy="141.5" r="1.3" fill="#959595" stroke="#3a3a3a" stroke-width="0.75"/><circle cx="220.0" cy="242.8" r="1.3" fill="#959595" stroke="#3a3a3a" stroke-width="0.75"/><circle cx="262.2" cy="193.5" r="1.3" fill="#959595" stroke="#3a3a3a" stroke-width="0.75"/><circle cx="260.1" cy="220.4" r="1.3" fill="#959595" stroke="#3a3a3a" stroke-width="0.75"/><circle cx="231.7" cy="245.6" r="1.3" fill="#959595" stroke="#3a3a3a" stroke-width="0.75"/><circle cx="240.9" cy="266.1" r="1.3" fill="#959595" stroke="#3a3a3a" stroke-width="0.75"/><circle cx="255.6" cy="210.7" r="1.3" fill="#959595" stroke="#3a3a3a" stroke-width="0.75"/><circle cx="226.3" cy="203.0" r="1.3" fill="#959595" stroke="#3a3a3a" stroke-width="0.75"/><circle cx="184.1" cy="122.4" r="1.3" fill="#959595" stroke="#3a3a3a" stroke-width="0.75"/><circle cx="280.6" cy="168.2" r="1.3" fill="#959595" stroke="#3a3a3a" stroke-width="0.75"/><circle cx="260.4" cy="231.2" r="1.3" fill="#959595" stroke="#3a3a3a" stroke-width="0.75"/><circle cx="284.0" cy="177.7" r="1.3" fill="#959595" stroke="#3a3a3a" stroke-width="0.75"/><circle cx="258.4" cy="210.4" r="1.3" fill="#959595" stroke="#3a3a3a" stroke-width="0.75"/><circle cx="292.6" cy="175.3" r="1.3" fill="#959595" stroke="#3a3a3a" stroke-width="0.75"/><circle cx="259.3" cy="240.3" r="1.3" fill="#959595" stroke="#3a3a3a" stroke-width="0.75"/><circle cx="280.8" cy="180.7" r="1.3" fill="#959595" stroke="#3a3a3a" stroke-width="0.75"/><circle cx="248.8" cy="237.1" r="1.3" fill="#959595" stroke="#3a3a3a" stroke-width="0.75"/><circle cx="274.5" cy="202.7" r="1.3" fill="#959595" stroke="#3a3a3a" stroke-width="0.75"/><circle cx="256.3" cy="234.6" r="1.3" fill="#959595" stroke="#3a3a3a" stroke-width="0.75"/><circle cx="291.8" cy="194.7" r="1.3" fill="#959595" stroke="#3a3a3a" stroke-width="0.75"/><circle cx="268.3" cy="278.8" r="1.3" fill="#959595" stroke="#3a3a3a" stroke-width="0.75"/><circle cx="235.9" cy="208.0" r="1.3" fill="#959595" stroke="#3a3a3a" stroke-width="0.75"/><circle cx="235.6" cy="199.6" r="1.3" fill="#959595" stroke="#3a3a3a" stroke-width="0.75"/><circle cx="317.9" cy="199.0" r="1.3" fill="#959595" stroke="#3a3a3a" stroke-width="0.75"/><circle cx="288.8" cy="189.0" r="1.3" fill="#959595" stroke="#3a3a3a" stroke-width="0.75"/><circle cx="248.0" cy="225.4" r="1.3" fill="#959595" stroke="#3a3a3a" stroke-width="0.75"/><circle cx="278.2" cy="176.1" r="1.3" fill="#959595" stroke="#3a3a3a" stroke-width="0.75"/><circle cx="253.2" cy="174.5" r="1.3" fill="#959595" stroke="#3a3a3a" stroke-width="0.75"/><circle cx="235.8" cy="279.0" r="1.3" fill="#959595" stroke="#3a3a3a" stroke-width="0.75"/><circle cx="277.4" cy="180.2" r="1.3" fill="#959595" stroke="#3a3a3a" stroke-width="0.75"/><circle cx="244.8" cy="243.3" r="1.3" fill="#959595" stroke="#3a3a3a" stroke-width="0.75"/><circle cx="260.1" cy="162.4" r="1.3" fill="#959595" stroke="#3a3a3a" stroke-width="0.75"/><circle cx="235.5" cy="217.3" r="1.3" fill="#959595" stroke="#3a3a3a" stroke-width="0.75"/><circle cx="250.4" cy="167.4" r="1.3" fill="#959595" stroke="#3a3a3a" stroke-width="0.75"/><circle cx="209.4" cy="195.6" r="1.3" fill="#959595" stroke="#3a3a3a" stroke-width="0.75"/><circle cx="269.5" cy="192.5" r="1.3" fill="#959595" stroke="#3a3a3a" stroke-width="0.75"/><circle cx="222.0" cy="219.6" r="1.3" fill="#959595" stroke="#3a3a3a" stroke-width="0.75"/><circle cx="208.2" cy="114.7" r="1.3" fill="#959595" stroke="#3a3a3a" stroke-width="0.75"/><circle cx="242.9" cy="187.6" r="1.3" fill="#959595" stroke="#3a3a3a" stroke-width="0.75"/><circle cx="235.6" cy="236.4" r="1.3" fill="#959595" stroke="#3a3a3a" stroke-width="0.75"/><circle cx="273.0" cy="235.6" r="1.3" fill="#959595" stroke="#3a3a3a" stroke-width="0.75"/><circle cx="231.0" cy="240.3" r="1.3" fill="#959595" stroke="#3a3a3a" stroke-width="0.75"/><circle cx="251.4" cy="215.6" r="1.3" fill="#959595" stroke="#3a3a3a" stroke-width="0.75"/><circle cx="238.6" cy="235.2" r="1.3" fill="#959595" stroke="#3a3a3a" stroke-width="0.75"/><circle cx="283.3" cy="201.9" r="1.3" fill="#959595" stroke="#3a3a3a" stroke-width="0.75"/><circle cx="291.0" cy="190.3" r="1.3" fill="#959595" stroke="#3a3a3a" stroke-width="0.75"/><circle cx="252.3" cy="243.3" r="1.3" fill="#959595" stroke="#3a3a3a" stroke-width="0.75"/><circle cx="247.6" cy="198.1" r="1.3" fill="#959595" stroke="#3a3a3a" stroke-width="0.75"/><circle cx="274.2" cy="171.6" r="1.3" fill="#959595" stroke="#3a3a3a" stroke-width="0.75"/><circle cx="237.2" cy="274.9" r="1.3" fill="#959595" stroke="#3a3a3a" stroke-width="0.75"/><circle cx="234.5" cy="171.5" r="1.3" fill="#959595" stroke="#3a3a3a" stroke-width="0.75"/><circle cx="279.9" cy="236.9" r="1.3" fill="#959595" stroke="#3a3a3a" stroke-width="0.75"/><circle cx="268.0" cy="180.3" r="1.3" fill="#959595" stroke="#3a3a3a" stroke-width="0.75"/><circle cx="255.1" cy="251.6" r="1.3" fill="#959595" stroke="#3a3a3a" stroke-width="0.75"/><circle cx="237.0" cy="220.9" r="1.3" fill="#959595" stroke="#3a3a3a" stroke-width="0.75"/><circle cx="268.9" cy="269.4" r="1.3" fill="#959595" stroke="#3a3a3a" stroke-width="0.75"/><circle cx="228.9" cy="218.1" r="1.3" fill="#959595" stroke="#3a3a3a" stroke-width="0.75"/><circle cx="261.7" cy="248.5" r="1.3" fill="#959595" stroke="#3a3a3a" stroke-width="0.75"/><circle cx="259.9" cy="207.4" r="1.3" fill="#959595" stroke="#3a3a3a" stroke-width="0.75"/><circle cx="244.6" cy="257.5" r="1.3" fill="#959595" stroke="#3a3a3a" stroke-width="0.75"/><circle cx="253.1" cy="199.9" r="1.3" fill="#959595" stroke="#3a3a3a" stroke-width="0.75"/><circle cx="256.8" cy="265.8" r="1.3" fill="#959595" stroke="#3a3a3a" stroke-width="0.75"/><circle cx="259.4" cy="222.1" r="1.3" fill="#959595" stroke="#3a3a3a" stroke-width="0.75"/><circle cx="259.5" cy="263.5" r="1.3" fill="#959595" stroke="#3a3a3a" stroke-width="0.75"/><circle cx="284.0" cy="148.7" r="1.3" fill="#959595" stroke="#3a3a3a" stroke-width="0.75"/><circle cx="255.0" cy="195.6" r="1.3" fill="#959595" stroke="#3a3a3a" stroke-width="0.75"/><circle cx="253.2" cy="259.0" r="1.3" fill="#959595" stroke="#3a3a3a" stroke-width="0.75"/><circle cx="252.1" cy="186.8" r="1.3" fill="#959595" stroke="#3a3a3a" stroke-width="0.75"/><circle cx="232.3" cy="212.6" r="1.3" fill="#959595" stroke="#3a3a3a" stroke-width="0.75"/><circle cx="252.5" cy="200.8" r="1.3" fill="#959595" stroke="#3a3a3a" stroke-width="0.75"/><circle cx="225.7" cy="122.5" r="1.3" fill="#959595" stroke="#3a3a3a" stroke-width="0.75"/><circle cx="207.1" cy="148.6" r="1.3" fill="#959595" stroke="#3a3a3a" stroke-width="0.75"/><circle cx="209.0" cy="207.0" r="1.3" fill="#959595" stroke="#3a3a3a" stroke-width="0.75"/><circle cx="269.7" cy="196.2" r="1.3" fill="#959595" stroke="#3a3a3a" stroke-width="0.75"/><circle cx="269.9" cy="256.7" r="1.3" fill="#959595" stroke="#3a3a3a" stroke-width="0.75"/><circle cx="184.5" cy="192.2" r="1.3" fill="#959595" stroke="#3a3a3a" stroke-width="0.75"/><circle cx="290.6" cy="174.0" r="1.3" fill="#959595" stroke="#3a3a3a" stroke-width="0.75"/><circle cx="293.2" cy="169.3" r="1.3" fill="#959595" stroke="#3a3a3a" stroke-width="0.75"/><circle cx="269.6" cy="199.8" r="1.3" fill="#959595" stroke="#3a3a3a" stroke-width="0.75"/><circle cx="234.9" cy="289.4" r="1.3" fill="#959595" stroke="#3a3a3a" stroke-width="0.75"/><circle cx="260.4" cy="258.6" r="1.3" fill="#959595" stroke="#3a3a3a" stroke-width="0.75"/><circle cx="245.0" cy="211.0" r="1.3" fill="#959595" stroke="#3a3a3a" stroke-width="0.75"/><circle cx="278.6" cy="209.9" r="1.3" fill="#959595" stroke="#3a3a3a" stroke-width="0.75"/><circle cx="285.8" cy="219.5" r="1.3" fill="#959595" stroke="#3a3a3a" stroke-width="0.75"/><circle cx="269.3" cy="233.9" r="1.3" fill="#959595" stroke="#3a3a3a" stroke-width="0.75"/><circle cx="233.5" cy="154.8" r="1.3" fill="#959595" stroke="#3a3a3a" stroke-width="0.75"/><circle cx="237.0" cy="268.6" r="1.3" fill="#959595" stroke="#3a3a3a" stroke-width="0.75"/><circle cx="254.2" cy="254.5" r="1.3" fill="#959595" stroke="#3a3a3a" stroke-width="0.75"/><circle cx="281.3" cy="204.0" r="1.3" fill="#959595" stroke="#3a3a3a" stroke-width="0.75"/><circle cx="299.0" cy="192.9" r="1.3" fill="#959595" stroke="#3a3a3a" stroke-width="0.75"/><circle cx="283.0" cy="210.5" r="1.3" fill="#959595" stroke="#3a3a3a" stroke-width="0.75"/><circle cx="243.0" cy="208.4" r="1.3" fill="#959595" stroke="#3a3a3a" stroke-width="0.75"/><circle cx="227.6" cy="191.0" r="1.3" fill="#959595" stroke="#3a3a3a" stroke-width="0.75"/><circle cx="268.5" cy="170.8" r="1.3" fill="#959595" stroke="#3a3a3a" stroke-width="0.75"/><circle cx="255.7" cy="231.4" r="1.3" fill="#959595" stroke="#3a3a3a" stroke-width="0.75"/><circle cx="243.4" cy="257.5" r="1.3" fill="#959595" stroke="#3a3a3a" stroke-width="0.75"/><circle cx="297.4" cy="222.2" r="1.3" fill="#959595" stroke="#3a3a3a" stroke-width="0.75"/><circle cx="262.3" cy="188.3" r="1.3" fill="#959595" stroke="#3a3a3a" stroke-width="0.75"/><circle cx="208.0" cy="202.1" r="1.3" fill="#959595" stroke="#3a3a3a" stroke-width="0.75"/><circle cx="248.3" cy="178.1" r="1.3" fill="#959595" stroke="#3a3a3a" stroke-width="0.75"/><circle cx="270.5" cy="267.0" r="1.3" fill="#959595" stroke="#3a3a3a" stroke-width="0.75"/><circle cx="279.5" cy="184.5" r="1.3" fill="#959595" stroke="#3a3a3a" stroke-width="0.75"/><circle cx="246.7" cy="194.8" r="1.3" fill="#959595" stroke="#3a3a3a" stroke-width="0.75"/><circle cx="271.6" cy="222.1" r="1.3" fill="#959595" stroke="#3a3a3a" stroke-width="0.75"/><circle cx="291.5" cy="232.1" r="1.3" fill="#959595" stroke="#3a3a3a" stroke-width="0.75"/><circle cx="247.2" cy="203.0" r="1.3" fill="#959595" stroke="#3a3a3a" stroke-width="0.75"/><circle cx="250.7" cy="172.3" r="1.3" fill="#959595" stroke="#3a3a3a" stroke-width="0.75"/><circle cx="260.6" cy="199.6" r="1.3" fill="#959595" stroke="#3a3a3a" stroke-width="0.75"/><circle cx="244.5" cy="244.6" r="1.3" fill="#959595" stroke="#3a3a3a" stroke-width="0.75"/><circle cx="262.3" cy="188.0" r="1.3" fill="#959595" stroke="#3a3a3a" stroke-width="0.75"/><circle cx="251.5" cy="199.9" r="1.3" fill="#959595" stroke="#3a3a3a" stroke-width="0.75"/><circle cx="302.1" cy="186.2" r="1.3" fill="#959595" stroke="#3a3a3a" stroke-width="0.75"/><circle cx="285.7" cy="195.9" r="1.3" fill="#959595" stroke="#3a3a3a" stroke-width="0.75"/><circle cx="278.1" cy="192.6" r="1.3" fill="#959595" stroke="#3a3a3a" stroke-width="0.75"/><circle cx="288.2" cy="205.0" r="1.3" fill="#959595" stroke="#3a3a3a" stroke-width="0.75"/><circle cx="249.0" cy="246.3" r="1.3" fill="#959595" stroke="#3a3a3a" stroke-width="0.75"/><circle cx="244.8" cy="244.3" r="1.3" fill="#959595" stroke="#3a3a3a" stroke-width="0.75"/><circle cx="267.2" cy="177.0" r="1.3" fill="#959595" stroke="#3a3a3a" stroke-width="0.75"/><circle cx="255.7" cy="183.7" r="1.3" fill="#959595" stroke="#3a3a3a" stroke-width="0.75"/><circle cx="260.2" cy="193.2" r="1.3" fill="#959595" stroke="#3a3a3a" stroke-width="0.75"/><circle cx="242.7" cy="226.3" r="1.3" fill="#959595" stroke="#3a3a3a" stroke-width="0.75"/><circle cx="272.5" cy="232.9" r="1.3" fill="#959595" stroke="#3a3a3a" stroke-width="0.75"/><circle cx="272.6" cy="232.1" r="1.3" fill="#959595" stroke="#3a3a3a" stroke-width="0.75"/><circle cx="251.0" cy="181.1" r="1.3" fill="#959595" stroke="#3a3a3a" stroke-width="0.75"/><circle cx="223.4" cy="182.0" r="1.3" fill="#959595" stroke="#3a3a3a" stroke-width="0.75"/><circle cx="230.1" cy="291.9" r="1.3" fill="#959595" stroke="#3a3a3a" stroke-width="0.75"/><circle cx="259.8" cy="216.8" r="1.3" fill="#959595" stroke="#3a3a3a" stroke-width="0.75"/><circle cx="239.8" cy="236.4" r="1.3" fill="#959595" stroke="#3a3a3a" stroke-width="0.75"/><circle cx="230.4" cy="180.7" r="1.3" fill="#959595" stroke="#3a3a3a" stroke-width="0.75"/><circle cx="267.6" cy="220.0" r="1.3" fill="#959595" stroke="#3a3a3a" stroke-width="0.75"/><circle cx="292.1" cy="188.2" r="1.3" fill="#959595" stroke="#3a3a3a" stroke-width="0.75"/><circle cx="259.4" cy="206.2" r="1.3" fill="#959595" stroke="#3a3a3a" stroke-width="0.75"/><circle cx="268.8" cy="202.6" r="1.3" fill="#959595" stroke="#3a3a3a" stroke-width="0.75"/><circle cx="262.3" cy="251.1" r="1.3" fill="#959595" stroke="#3a3a3a" stroke-width="0.75"/><circle cx="304.0" cy="194.8" r="1.3" fill="#959595" stroke="#3a3a3a" stroke-width="0.75"/><circle cx="238.1" cy="233.3" r="1.3" fill="#959595" stroke="#3a3a3a" stroke-width="0.75"/><circle cx="240.6" cy="190.3" r="1.3" fill="#959595" stroke="#3a3a3a" stroke-width="0.75"/><circle cx="242.1" cy="218.2" r="1.3" fill="#959595" stroke="#3a3a3a" stroke-width="0.75"/><circle cx="239.9" cy="251.3" r="1.3" fill="#959595" stroke="#3a3a3a" stroke-width="0.75"/><circle cx="224.3" cy="183.9" r="1.3" fill="#959595" stroke="#3a3a3a" stroke-width="0.75"/><circle cx="241.3" cy="200.2" r="1.3" fill="#959595" stroke="#3a3a3a" stroke-width="0.75"/><circle cx="273.2" cy="284.3" r="1.3" fill="#959595" stroke="#3a3a3a" stroke-width="0.75"/><circle cx="235.2" cy="246.4" r="1.3" fill="#959595" stroke="#3a3a3a" stroke-width="0.75"/><circle cx="229.2" cy="256.2" r="1.3" fill="#959595" stroke="#3a3a3a" stroke-width="0.75"/><circle cx="282.8" cy="217.1" r="1.3" fill="#959595" stroke="#3a3a3a" stroke-width="0.75"/><circle cx="238.9" cy="196.7" r="1.3" fill="#959595" stroke="#3a3a3a" stroke-width="0.75"/><circle cx="317.6" cy="172.6" r="1.3" fill="#959595" stroke="#3a3a3a" stroke-width="0.75"/><circle cx="267.5" cy="252.9" r="1.3" fill="#959595" stroke="#3a3a3a" stroke-width="0.75"/><circle cx="223.1" cy="170.0" r="1.3" fill="#959595" stroke="#3a3a3a" stroke-width="0.75"/><circle cx="271.8" cy="266.0" r="1.3" fill="#959595" stroke="#3a3a3a" stroke-width="0.75"/><circle cx="268.0" cy="265.6" r="1.3" fill="#959595" stroke="#3a3a3a" stroke-width="0.75"/><circle cx="266.7" cy="271.1" r="1.3" fill="#959595" stroke="#3a3a3a" stroke-width="0.75"/><circle cx="258.7" cy="238.1" r="1.3" fill="#959595" stroke="#3a3a3a" stroke-width="0.75"/><circle cx="239.3" cy="224.1" r="1.3" fill="#959595" stroke="#3a3a3a" stroke-width="0.75"/><circle cx="263.6" cy="197.5" r="1.3" fill="#959595" stroke="#3a3a3a" stroke-width="0.75"/><circle cx="290.9" cy="246.6" r="1.3" fill="#959595" stroke="#3a3a3a" stroke-width="0.75"/><circle cx="279.7" cy="215.2" r="1.3" fill="#959595" stroke="#3a3a3a" stroke-width="0.75"/><circle cx="223.9" cy="209.4" r="1.3" fill="#959595" stroke="#3a3a3a" stroke-width="0.75"/><circle cx="221.2" cy="172.4" r="1.3" fill="#959595" stroke="#3a3a3a" stroke-width="0.75"/><circle cx="279.6" cy="169.9" r="1.3" fill="#959595" stroke="#3a3a3a" stroke-width="0.75"/><circle cx="263.5" cy="225.2" r="1.3" fill="#959595" stroke="#3a3a3a" stroke-width="0.75"/><circle cx="260.7" cy="172.2" r="1.3" fill="#959595" stroke="#3a3a3a" stroke-width="0.75"/><circle cx="270.9" cy="228.7" r="1.3" fill="#959595" stroke="#3a3a3a" stroke-width="0.75"/><circle cx="284.7" cy="201.4" r="1.3" fill="#959595" stroke="#3a3a3a" stroke-width="0.75"/><circle cx="233.8" cy="171.1" r="1.3" fill="#959595" stroke="#3a3a3a" stroke-width="0.75"/><circle cx="284.8" cy="213.1" r="1.3" fill="#959595" stroke="#3a3a3a" stroke-width="0.75"/><circle cx="238.5" cy="240.1" r="1.3" fill="#959595" stroke="#3a3a3a" stroke-width="0.75"/><circle cx="227.2" cy="293.6" r="1.3" fill="#959595" stroke="#3a3a3a" stroke-width="0.75"/><circle cx="259.3" cy="184.7" r="1.3" fill="#959595" stroke="#3a3a3a" stroke-width="0.75"/><circle cx="286.2" cy="197.2" r="1.3" fill="#959595" stroke="#3a3a3a" stroke-width="0.75"/><circle cx="255.1" cy="207.0" r="1.3" fill="#959595" stroke="#3a3a3a" stroke-width="0.75"/><circle cx="271.4" cy="206.8" r="1.3" fill="#959595" stroke="#3a3a3a" stroke-width="0.75"/><circle cx="246.8" cy="183.2" r="1.3" fill="#959595" stroke="#3a3a3a" stroke-width="0.75"/><circle cx="238.8" cy="192.6" r="1.3" fill="#959595" stroke="#3a3a3a" stroke-width="0.75"/><circle cx="195.1" cy="164.3" r="1.3" fill="#959595" stroke="#3a3a3a" stroke-width="0.75"/><circle cx="295.2" cy="214.2" r="1.3" fill="#959595" stroke="#3a3a3a" stroke-width="0.75"/><circle cx="257.7" cy="300.8" r="1.3" fill="#959595" stroke="#3a3a3a" stroke-width="0.75"/><circle cx="262.4" cy="170.0" r="1.3" fill="#959595" stroke="#3a3a3a" stroke-width="0.75"/><circle cx="283.5" cy="230.4" r="1.3" fill="#959595" stroke="#3a3a3a" stroke-width="0.75"/><circle cx="261.3" cy="210.5" r="1.3" fill="#959595" stroke="#3a3a3a" stroke-width="0.75"/><circle cx="216.5" cy="192.0" r="1.3" fill="#959595" stroke="#3a3a3a" stroke-width="0.75"/><circle cx="259.6" cy="192.8" r="1.3" fill="#959595" stroke="#3a3a3a" stroke-width="0.75"/><circle cx="233.6" cy="290.6" r="1.3" fill="#959595" stroke="#3a3a3a" stroke-width="0.75"/><circle cx="192.2" cy="168.7" r="1.3" fill="#959595" stroke="#3a3a3a" stroke-width="0.75"/><circle cx="263.4" cy="216.2" r="1.3" fill="#959595" stroke="#3a3a3a" stroke-width="0.75"/><circle cx="256.7" cy="211.8" r="1.3" fill="#959595" stroke="#3a3a3a" stroke-width="0.75"/><circle cx="264.7" cy="269.3" r="1.3" fill="#959595" stroke="#3a3a3a" stroke-width="0.75"/><circle cx="221.4" cy="180.1" r="1.3" fill="#959595" stroke="#3a3a3a" stroke-width="0.75"/><circle cx="209.6" cy="142.9" r="1.3" fill="#959595" stroke="#3a3a3a" stroke-width="0.75"/><circle cx="255.1" cy="256.3" r="1.3" fill="#959595" stroke="#3a3a3a" stroke-width="0.75"/><circle cx="281.9" cy="191.7" r="1.3" fill="#959595" stroke="#3a3a3a" stroke-width="0.75"/><circle cx="256.0" cy="199.6" r="1.3" fill="#959595" stroke="#3a3a3a" stroke-width="0.75"/><circle cx="296.1" cy="169.5" r="1.3" fill="#959595" stroke="#3a3a3a" stroke-width="0.75"/><circle cx="250.8" cy="182.7" r="1.3" fill="#959595" stroke="#3a3a3a" stroke-width="0.75"/><circle cx="249.1" cy="182.1" r="1.3" fill="#959595" stroke="#3a3a3a" stroke-width="0.75"/><circle cx="250.9" cy="226.0" r="1.3" fill="#959595" stroke="#3a3a3a" stroke-width="0.75"/><circle cx="208.7" cy="172.2" r="1.3" fill="#959595" stroke="#3a3a3a" stroke-width="0.75"/><circle cx="272.4" cy="178.1" r="1.3" fill="#959595" stroke="#3a3a3a" stroke-width="0.75"/><circle cx="281.0" cy="198.9" r="1.3" fill="#959595" stroke="#3a3a3a" stroke-width="0.75"/><circle cx="276.1" cy="199.0" r="1.3" fill="#959595" stroke="#3a3a3a" stroke-width="0.75"/><circle cx="246.3" cy="151.7" r="1.3" fill="#959595" stroke="#3a3a3a" stroke-width="0.75"/><circle cx="233.7" cy="306.5" r="1.3" fill="#959595" stroke="#3a3a3a" stroke-width="0.75"/><circle cx="259.4" cy="248.7" r="1.3" fill="#959595" stroke="#3a3a3a" stroke-width="0.75"/><circle cx="252.3" cy="239.0" r="1.3" fill="#959595" stroke="#3a3a3a" stroke-width="0.75"/><circle cx="270.0" cy="229.0" r="1.3" fill="#959595" stroke="#3a3a3a" stroke-width="0.75"/><circle cx="243.7" cy="198.4" r="1.3" fill="#959595" stroke="#3a3a3a" stroke-width="0.75"/><circle cx="288.8" cy="224.8" r="1.3" fill="#959595" stroke="#3a3a3a" stroke-width="0.75"/><circle cx="244.5" cy="248.2" r="1.3" fill="#959595" stroke="#3a3a3a" stroke-width="0.75"/><circle cx="264.5" cy="230.2" r="1.3" fill="#959595" stroke="#3a3a3a" stroke-width="0.75"/><circle cx="229.6" cy="256.0" r="1.3" fill="#959595" stroke="#3a3a3a" stroke-width="0.75"/><circle cx="247.6" cy="238.6" r="1.3" fill="#959595" stroke="#3a3a3a" stroke-width="0.75"/><circle cx="244.5" cy="232.7" r="1.3" fill="#959595" stroke="#3a3a3a" stroke-width="0.75"/><circle cx="256.3" cy="261.9" r="1.3" fill="#959595" stroke="#3a3a3a" stroke-width="0.75"/><circle cx="269.5" cy="240.7" r="1.3" fill="#959595" stroke="#3a3a3a" stroke-width="0.75"/><circle cx="255.4" cy="192.2" r="1.3" fill="#959595" stroke="#3a3a3a" stroke-width="0.75"/><circle cx="252.2" cy="208.9" r="1.3" fill="#959595" stroke="#3a3a3a" stroke-width="0.75"/><circle cx="206.9" cy="165.1" r="1.3" fill="#959595" stroke="#3a3a3a" stroke-width="0.75"/><circle cx="249.4" cy="200.8" r="1.3" fill="#959595" stroke="#3a3a3a" stroke-width="0.75"/><circle cx="284.9" cy="221.1" r="1.3" fill="#959595" stroke="#3a3a3a" stroke-width="0.75"/><circle cx="253.2" cy="181.6" r="1.3" fill="#959595" stroke="#3a3a3a" stroke-width="0.75"/><circle cx="251.2" cy="215.4" r="1.3" fill="#959595" stroke="#3a3a3a" stroke-width="0.75"/><circle cx="262.0" cy="192.2" r="1.3" fill="#959595" stroke="#3a3a3a" stroke-width="0.75"/><circle cx="184.4" cy="183.1" r="1.3" fill="#959595" stroke="#3a3a3a" stroke-width="0.75"/><circle cx="302.7" cy="194.6" r="1.3" fill="#959595" stroke="#3a3a3a" stroke-width="0.75"/><circle cx="234.2" cy="217.7" r="1.3" fill="#959595" stroke="#3a3a3a" stroke-width="0.75"/><circle cx="263.3" cy="204.4" r="1.3" fill="#959595" stroke="#3a3a3a" stroke-width="0.75"/><circle cx="279.1" cy="202.5" r="1.3" fill="#959595" stroke="#3a3a3a" stroke-width="0.75"/><circle cx="222.1" cy="238.4" r="1.3" fill="#959595" stroke="#3a3a3a" stroke-width="0.75"/><circle cx="232.9" cy="222.1" r="1.3" fill="#959595" stroke="#3a3a3a" stroke-width="0.75"/><circle cx="239.5" cy="216.8" r="1.3" fill="#959595" stroke="#3a3a3a" stroke-width="0.75"/><circle cx="216.4" cy="169.9" r="1.3" fill="#959595" stroke="#3a3a3a" stroke-width="0.75"/><circle cx="312.5" cy="133.6" r="1.3" fill="#959595" stroke="#3a3a3a" stroke-width="0.75"/><circle cx="231.7" cy="196.6" r="1.3" fill="#959595" stroke="#3a3a3a" stroke-width="0.75"/><circle cx="226.8" cy="171.0" r="1.3" fill="#959595" stroke="#3a3a3a" stroke-width="0.75"/><circle cx="244.9" cy="223.5" r="1.3" fill="#959595" stroke="#3a3a3a" stroke-width="0.75"/><circle cx="235.8" cy="251.5" r="1.3" fill="#959595" stroke="#3a3a3a" stroke-width="0.75"/><circle cx="222.7" cy="233.5" r="1.3" fill="#959595" stroke="#3a3a3a" stroke-width="0.75"/><circle cx="271.6" cy="202.3" r="1.3" fill="#959595" stroke="#3a3a3a" stroke-width="0.75"/><circle cx="264.2" cy="247.0" r="1.3" fill="#959595" stroke="#3a3a3a" stroke-width="0.75"/><circle cx="240.2" cy="230.1" r="1.3" fill="#959595" stroke="#3a3a3a" stroke-width="0.75"/><circle cx="297.6" cy="209.0" r="1.3" fill="#959595" stroke="#3a3a3a" stroke-width="0.75"/><circle cx="241.3" cy="218.8" r="1.3" fill="#959595" stroke="#3a3a3a" stroke-width="0.75"/><circle cx="270.8" cy="177.3" r="1.3" fill="#959595" stroke="#3a3a3a" stroke-width="0.75"/><circle cx="201.5" cy="134.1" r="1.3" fill="#959595" stroke="#3a3a3a" stroke-width="0.75"/><circle cx="250.1" cy="263.0" r="1.3" fill="#959595" stroke="#3a3a3a" stroke-width="0.75"/><circle cx="260.3" cy="279.8" r="1.3" fill="#959595" stroke="#3a3a3a" stroke-width="0.75"/><circle cx="277.4" cy="208.7" r="1.3" fill="#959595" stroke="#3a3a3a" stroke-width="0.75"/><circle cx="267.7" cy="215.9" r="1.3" fill="#959595" stroke="#3a3a3a" stroke-width="0.75"/><circle cx="230.7" cy="240.3" r="1.3" fill="#959595" stroke="#3a3a3a" stroke-width="0.75"/><circle cx="229.6" cy="166.4" r="1.3" fill="#959595" stroke="#3a3a3a" stroke-width="0.75"/><circle cx="302.4" cy="230.7" r="1.3" fill="#959595" stroke="#3a3a3a" stroke-width="0.75"/><circle cx="275.3" cy="240.9" r="1.3" fill="#959595" stroke="#3a3a3a" stroke-width="0.75"/><circle cx="259.4" cy="183.3" r="1.3" fill="#959595" stroke="#3a3a3a" stroke-width="0.75"/><circle cx="235.0" cy="214.6" r="1.3" fill="#959595" stroke="#3a3a3a" stroke-width="0.75"/><circle cx="244.4" cy="242.8" r="1.3" fill="#959595" stroke="#3a3a3a" stroke-width="0.75"/><circle cx="230.8" cy="271.3" r="1.3" fill="#959595" stroke="#3a3a3a" stroke-width="0.75"/><circle cx="282.4" cy="199.9" r="1.3" fill="#959595" stroke="#3a3a3a" stroke-width="0.75"/><circle cx="239.1" cy="174.7" r="1.3" fill="#959595" stroke="#3a3a3a" stroke-width="0.75"/><circle cx="276.3" cy="231.5" r="1.3" fill="#959595" stroke="#3a3a3a" stroke-width="0.75"/><circle cx="235.6" cy="219.3" r="1.3" fill="#959595" stroke="#3a3a3a" stroke-width="0.75"/><circle cx="241.0" cy="207.8" r="1.3" fill="#959595" stroke="#3a3a3a" stroke-width="0.75"/><circle cx="284.2" cy="197.3" r="1.3" fill="#959595" stroke="#3a3a3a" stroke-width="0.75"/><circle cx="215.6" cy="141.5" r="1.3" fill="#959595" stroke="#3a3a3a" stroke-width="0.75"/><circle cx="259.7" cy="264.0" r="1.3" fill="#959595" stroke="#3a3a3a" stroke-width="0.75"/><circle cx="302.6" cy="196.8" r="1.3" fill="#959595" stroke="#3a3a3a" stroke-width="0.75"/><circle cx="281.7" cy="149.5" r="1.3" fill="#959595" stroke="#3a3a3a" stroke-width="0.75"/><circle cx="198.5" cy="167.7" r="1.3" fill="#959595" stroke="#3a3a3a" stroke-width="0.75"/><circle cx="272.9" cy="216.9" r="1.3" fill="#959595" stroke="#3a3a3a" stroke-width="0.75"/><circle cx="223.9" cy="145.2" r="1.3" fill="#959595" stroke="#3a3a3a" stroke-width="0.75"/><circle cx="253.5" cy="236.9" r="1.3" fill="#959595" stroke="#3a3a3a" stroke-width="0.75"/><circle cx="263.1" cy="233.2" r="1.3" fill="#959595" stroke="#3a3a3a" stroke-width="0.75"/><circle cx="235.5" cy="115.2" r="1.3" fill="#959595" stroke="#3a3a3a" stroke-width="0.75"/><circle cx="246.2" cy="222.6" r="1.3" fill="#959595" stroke="#3a3a3a" stroke-width="0.75"/><circle cx="220.8" cy="190.3" r="1.3" fill="#959595" stroke="#3a3a3a" stroke-width="0.75"/><circle cx="265.1" cy="188.1" r="1.3" fill="#959595" stroke="#3a3a3a" stroke-width="0.75"/><circle cx="239.1" cy="252.0" r="1.3" fill="#959595" stroke="#3a3a3a" stroke-width="0.75"/><circle cx="263.7" cy="159.1" r="1.3" fill="#959595" stroke="#3a3a3a" stroke-width="0.75"/><circle cx="235.4" cy="200.4" r="1.3" fill="#959595" stroke="#3a3a3a" stroke-width="0.75"/><circle cx="217.9" cy="274.7" r="1.3" fill="#959595" stroke="#3a3a3a" stroke-width="0.75"/><circle cx="249.5" cy="164.0" r="1.3" fill="#959595" stroke="#3a3a3a" stroke-width="0.75"/><circle cx="255.4" cy="218.8" r="1.3" fill="#959595" stroke="#3a3a3a" stroke-width="0.75"/><circle cx="255.6" cy="185.1" r="1.3" fill="#959595" stroke="#3a3a3a" stroke-width="0.75"/><circle cx="276.6" cy="182.8" r="1.3" fill="#959595" stroke="#3a3a3a" stroke-width="0.75"/><circle cx="295.7" cy="192.6" r="1.3" fill="#959595" stroke="#3a3a3a" stroke-width="0.75"/><circle cx="297.4" cy="229.1" r="1.3" fill="#959595" stroke="#3a3a3a" stroke-width="0.75"/><circle cx="247.9" cy="200.3" r="1.3" fill="#959595" stroke="#3a3a3a" stroke-width="0.75"/><circle cx="239.6" cy="230.3" r="1.3" fill="#959595" stroke="#3a3a3a" stroke-width="0.75"/><circle cx="248.6" cy="263.2" r="1.3" fill="#959595" stroke="#3a3a3a" stroke-width="0.75"/><circle cx="275.1" cy="261.2" r="1.3" fill="#959595" stroke="#3a3a3a" stroke-width="0.75"/><circle cx="248.2" cy="211.6" r="1.3" fill="#959595" stroke="#3a3a3a" stroke-width="0.75"/><circle cx="244.3" cy="185.9" r="1.3" fill="#959595" stroke="#3a3a3a" stroke-width="0.75"/><circle cx="184.6" cy="221.3" r="1.3" fill="#959595" stroke="#3a3a3a" stroke-width="0.75"/><circle cx="270.3" cy="164.0" r="1.3" fill="#959595" stroke="#3a3a3a" stroke-width="0.75"/><circle cx="249.6" cy="193.2" r="1.3" fill="#959595" stroke="#3a3a3a" stroke-width="0.75"/><circle cx="277.2" cy="189.2" r="1.3" fill="#959595" stroke="#3a3a3a" stroke-width="0.75"/><circle cx="244.9" cy="273.1" r="1.3" fill="#959595" stroke="#3a3a3a" stroke-width="0.75"/><circle cx="275.6" cy="213.8" r="1.3" fill="#959595" stroke="#3a3a3a" stroke-width="0.75"/><circle cx="290.8" cy="197.9" r="1.3" fill="#959595" stroke="#3a3a3a" stroke-width="0.75"/><circle cx="284.9" cy="187.4" r="1.3" fill="#959595" stroke="#3a3a3a" stroke-width="0.75"/><circle cx="273.7" cy="210.4" r="1.3" fill="#959595" stroke="#3a3a3a" stroke-width="0.75"/><circle cx="284.0" cy="210.8" r="1.3" fill="#959595" stroke="#3a3a3a" stroke-width="0.75"/><circle cx="259.8" cy="251.2" r="1.3" fill="#959595" stroke="#3a3a3a" stroke-width="0.75"/><circle cx="281.8" cy="207.2" r="1.3" fill="#959595" stroke="#3a3a3a" stroke-width="0.75"/><circle cx="273.1" cy="283.1" r="1.3" fill="#959595" stroke="#3a3a3a" stroke-width="0.75"/><circle cx="243.0" cy="152.8" r="1.3" fill="#959595" stroke="#3a3a3a" stroke-width="0.75"/><circle cx="255.1" cy="218.9" r="1.3" fill="#959595" stroke="#3a3a3a" stroke-width="0.75"/><circle cx="287.0" cy="200.1" r="1.3" fill="#959595" stroke="#3a3a3a" stroke-width="0.75"/><circle cx="286.4" cy="189.1" r="1.3" fill="#959595" stroke="#3a3a3a" stroke-width="0.75"/><circle cx="275.2" cy="206.6" r="1.3" fill="#959595" stroke="#3a3a3a" stroke-width="0.75"/><circle cx="249.9" cy="302.3" r="1.3" fill="#959595" stroke="#3a3a3a" stroke-width="0.75"/><circle cx="253.2" cy="198.1" r="1.3" fill="#959595" stroke="#3a3a3a" stroke-width="0.75"/><circle cx="261.8" cy="268.7" r="1.3" fill="#959595" stroke="#3a3a3a" stroke-width="0.75"/><circle cx="212.4" cy="211.3" r="1.3" fill="#959595" stroke="#3a3a3a" stroke-width="0.75"/><circle cx="290.5" cy="197.4" r="1.3" fill="#959595" stroke="#3a3a3a" stroke-width="0.75"/><circle cx="287.2" cy="160.0" r="1.3" fill="#959595" stroke="#3a3a3a" stroke-width="0.75"/><circle cx="289.2" cy="163.7" r="1.3" fill="#959595" stroke="#3a3a3a" stroke-width="0.75"/><circle cx="263.6" cy="252.2" r="1.3" fill="#959595" stroke="#3a3a3a" stroke-width="0.75"/><circle cx="286.7" cy="171.4" r="1.3" fill="#959595" stroke="#3a3a3a" stroke-width="0.75"/><circle cx="252.4" cy="188.6" r="1.3" fill="#959595" stroke="#3a3a3a" stroke-width="0.75"/><circle cx="288.8" cy="195.8" r="1.3" fill="#959595" stroke="#3a3a3a" stroke-width="0.75"/><circle cx="240.4" cy="159.9" r="1.3" fill="#959595" stroke="#3a3a3a" stroke-width="0.75"/><circle cx="236.5" cy="180.2" r="1.3" fill="#959595" stroke="#3a3a3a" stroke-width="0.75"/><circle cx="241.7" cy="182.4" r="1.3" fill="#959595" stroke="#3a3a3a" stroke-width="0.75"/><circle cx="228.8" cy="201.6" r="1.3" fill="#959595" stroke="#3a3a3a" stroke-width="0.75"/><circle cx="245.9" cy="172.2" r="1.3" fill="#959595" stroke="#3a3a3a" stroke-width="0.75"/><circle cx="272.5" cy="218.1" r="1.3" fill="#959595" stroke="#3a3a3a" stroke-width="0.75"/><circle cx="287.2" cy="205.0" r="1.3" fill="#959595" stroke="#3a3a3a" stroke-width="0.75"/><circle cx="264.1" cy="227.1" r="1.3" fill="#959595" stroke="#3a3a3a" stroke-width="0.75"/><circle cx="286.9" cy="179.1" r="1.3" fill="#959595" stroke="#3a3a3a" stroke-width="0.75"/><circle cx="304.1" cy="183.4" r="1.3" fill="#959595" stroke="#3a3a3a" stroke-width="0.75"/><circle cx="295.3" cy="203.4" r="1.3" fill="#959595" stroke="#3a3a3a" stroke-width="0.75"/><circle cx="262.1" cy="198.5" r="1.3" fill="#959595" stroke="#3a3a3a" stroke-width="0.75"/><circle cx="281.0" cy="191.4" r="1.3" fill="#959595" stroke="#3a3a3a" stroke-width="0.75"/><circle cx="266.1" cy="172.3" r="1.3" fill="#959595" stroke="#3a3a3a" stroke-width="0.75"/><circle cx="276.8" cy="207.8" r="1.3" fill="#959595" stroke="#3a3a3a" stroke-width="0.75"/><circle cx="224.8" cy="196.3" r="1.3" fill="#959595" stroke="#3a3a3a" stroke-width="0.75"/><circle cx="275.8" cy="197.0" r="1.3" fill="#959595" stroke="#3a3a3a" stroke-width="0.75"/><circle cx="291.0" cy="240.7" r="1.3" fill="#959595" stroke="#3a3a3a" stroke-width="0.75"/><circle cx="202.5" cy="153.4" r="1.3" fill="#959595" stroke="#3a3a3a" stroke-width="0.75"/><circle cx="277.2" cy="178.9" r="1.3" fill="#959595" stroke="#3a3a3a" stroke-width="0.75"/><circle cx="272.5" cy="274.3" r="1.3" fill="#959595" stroke="#3a3a3a" stroke-width="0.75"/><circle cx="280.6" cy="193.9" r="1.3" fill="#959595" stroke="#3a3a3a" stroke-width="0.75"/><circle cx="269.5" cy="156.2" r="1.3" fill="#959595" stroke="#3a3a3a" stroke-width="0.75"/><circle cx="280.6" cy="182.7" r="1.3" fill="#959595" stroke="#3a3a3a" stroke-width="0.75"/><circle cx="254.1" cy="160.1" r="1.3" fill="#959595" stroke="#3a3a3a" stroke-width="0.75"/><circle cx="242.1" cy="284.9" r="1.3" fill="#959595" stroke="#3a3a3a" stroke-width="0.75"/><circle cx="222.5" cy="190.8" r="1.3" fill="#959595" stroke="#3a3a3a" stroke-width="0.75"/><circle cx="291.4" cy="175.9" r="1.3" fill="#959595" stroke="#3a3a3a" stroke-width="0.75"/><circle cx="265.1" cy="166.4" r="1.3" fill="#959595" stroke="#3a3a3a" stroke-width="0.75"/><circle cx="245.9" cy="245.5" r="1.3" fill="#959595" stroke="#3a3a3a" stroke-width="0.75"/><circle cx="268.3" cy="213.5" r="1.3" fill="#959595" stroke="#3a3a3a" stroke-width="0.75"/><circle cx="243.2" cy="259.6" r="1.3" fill="#959595" stroke="#3a3a3a" stroke-width="0.75"/><circle cx="263.2" cy="197.7" r="1.3" fill="#959595" stroke="#3a3a3a" stroke-width="0.75"/><circle cx="269.9" cy="200.1" r="1.3" fill="#959595" stroke="#3a3a3a" stroke-width="0.75"/><circle cx="231.5" cy="210.8" r="1.3" fill="#959595" stroke="#3a3a3a" stroke-width="0.75"/><circle cx="272.9" cy="220.9" r="1.3" fill="#959595" stroke="#3a3a3a" stroke-width="0.75"/><circle cx="262.9" cy="209.8" r="1.3" fill="#959595" stroke="#3a3a3a" stroke-width="0.75"/><circle cx="279.3" cy="184.6" r="1.3" fill="#959595" stroke="#3a3a3a" stroke-width="0.75"/><circle cx="255.7" cy="213.0" r="1.3" fill="#959595" stroke="#3a3a3a" stroke-width="0.75"/><circle cx="246.4" cy="270.3" r="1.3" fill="#959595" stroke="#3a3a3a" stroke-width="0.75"/><circle cx="261.5" cy="213.0" r="1.3" fill="#959595" stroke="#3a3a3a" stroke-width="0.75"/><circle cx="224.3" cy="202.5" r="1.3" fill="#959595" stroke="#3a3a3a" stroke-width="0.75"/><circle cx="295.7" cy="159.8" r="1.3" fill="#959595" stroke="#3a3a3a" stroke-width="0.75"/><circle cx="232.3" cy="290.0" r="1.3" fill="#959595" stroke="#3a3a3a" stroke-width="0.75"/><circle cx="266.1" cy="135.1" r="1.3" fill="#959595" stroke="#3a3a3a" stroke-width="0.75"/><circle cx="285.8" cy="118.3" r="1.3" fill="#959595" stroke="#3a3a3a" stroke-width="0.75"/><circle cx="270.0" cy="192.0" r="1.3" fill="#959595" stroke="#3a3a3a" stroke-width="0.75"/><circle cx="239.1" cy="264.3" r="1.3" fill="#959595" stroke="#3a3a3a" stroke-width="0.75"/><circle cx="267.5" cy="193.5" r="1.3" fill="#959595" stroke="#3a3a3a" stroke-width="0.75"/><circle cx="259.9" cy="261.6" r="1.3" fill="#959595" stroke="#3a3a3a" stroke-width="0.75"/><circle cx="242.8" cy="253.8" r="1.3" fill="#959595" stroke="#3a3a3a" stroke-width="0.75"/><circle cx="216.9" cy="194.3" r="1.3" fill="#959595" stroke="#3a3a3a" stroke-width="0.75"/><circle cx="282.4" cy="213.6" r="1.3" fill="#959595" stroke="#3a3a3a" stroke-width="0.75"/><circle cx="255.9" cy="196.9" r="1.3" fill="#959595" stroke="#3a3a3a" stroke-width="0.75"/><circle cx="259.7" cy="253.6" r="1.3" fill="#959595" stroke="#3a3a3a" stroke-width="0.75"/><circle cx="248.7" cy="227.5" r="1.3" fill="#959595" stroke="#3a3a3a" stroke-width="0.75"/><circle cx="227.1" cy="227.3" r="1.3" fill="#959595" stroke="#3a3a3a" stroke-width="0.75"/><circle cx="268.6" cy="218.3" r="1.3" fill="#959595" stroke="#3a3a3a" stroke-width="0.75"/><circle cx="243.7" cy="220.8" r="1.3" fill="#959595" stroke="#3a3a3a" stroke-width="0.75"/><circle cx="284.9" cy="228.6" r="1.3" fill="#959595" stroke="#3a3a3a" stroke-width="0.75"/><circle cx="276.3" cy="253.5" r="1.3" fill="#959595" stroke="#3a3a3a" stroke-width="0.75"/><circle cx="295.9" cy="188.7" r="1.3" fill="#959595" stroke="#3a3a3a" stroke-width="0.75"/><circle cx="276.5" cy="175.6" r="1.3" fill="#959595" stroke="#3a3a3a" stroke-width="0.75"/><circle cx="260.3" cy="192.5" r="1.3" fill="#959595" stroke="#3a3a3a" stroke-width="0.75"/><circle cx="240.0" cy="239.9" r="1.3" fill="#959595" stroke="#3a3a3a" stroke-width="0.75"/><circle cx="241.4" cy="251.4" r="1.3" fill="#959595" stroke="#3a3a3a" stroke-width="0.75"/><circle cx="243.5" cy="199.8" r="1.3" fill="#959595" stroke="#3a3a3a" stroke-width="0.75"/><circle cx="219.0" cy="213.6" r="1.3" fill="#959595" stroke="#3a3a3a" stroke-width="0.75"/><circle cx="247.0" cy="241.2" r="1.3" fill="#959595" stroke="#3a3a3a" stroke-width="0.75"/><circle cx="269.9" cy="236.6" r="1.3" fill="#959595" stroke="#3a3a3a" stroke-width="0.75"/><circle cx="181.9" cy="239.0" r="1.3" fill="#959595" stroke="#3a3a3a" stroke-width="0.75"/><circle cx="245.5" cy="211.0" r="1.3" fill="#959595" stroke="#3a3a3a" stroke-width="0.75"/><circle cx="216.9" cy="224.7" r="1.3" fill="#959595" stroke="#3a3a3a" stroke-width="0.75"/><circle cx="268.0" cy="171.8" r="1.3" fill="#959595" stroke="#3a3a3a" stroke-width="0.75"/><circle cx="245.7" cy="210.9" r="1.3" fill="#959595" stroke="#3a3a3a" stroke-width="0.75"/><circle cx="312.2" cy="128.4" r="1.3" fill="#959595" stroke="#3a3a3a" stroke-width="0.75"/><circle cx="278.6" cy="204.0" r="1.3" fill="#959595" stroke="#3a3a3a" stroke-width="0.75"/><circle cx="244.0" cy="167.4" r="1.3" fill="#959595" stroke="#3a3a3a" stroke-width="0.75"/><circle cx="263.7" cy="255.3" r="1.3" fill="#959595" stroke="#3a3a3a" stroke-width="0.75"/><circle cx="223.4" cy="248.1" r="1.3" fill="#959595" stroke="#3a3a3a" stroke-width="0.75"/><circle cx="230.2" cy="217.4" r="1.3" fill="#959595" stroke="#3a3a3a" stroke-width="0.75"/><circle cx="233.3" cy="265.6" r="1.3" fill="#959595" stroke="#3a3a3a" stroke-width="0.75"/><circle cx="230.0" cy="171.4" r="1.3" fill="#959595" stroke="#3a3a3a" stroke-width="0.75"/><circle cx="283.1" cy="227.5" r="1.3" fill="#959595" stroke="#3a3a3a" stroke-width="0.75"/><circle cx="203.8" cy="200.0" r="1.3" fill="#959595" stroke="#3a3a3a" stroke-width="0.75"/><circle cx="258.7" cy="229.7" r="1.3" fill="#959595" stroke="#3a3a3a" stroke-width="0.75"/><circle cx="244.2" cy="237.8" r="1.3" fill="#959595" stroke="#3a3a3a" stroke-width="0.75"/><circle cx="267.6" cy="266.4" r="1.3" fill="#959595" stroke="#3a3a3a" stroke-width="0.75"/><circle cx="265.1" cy="271.9" r="1.3" fill="#959595" stroke="#3a3a3a" stroke-width="0.75"/><circle cx="291.4" cy="211.4" r="1.3" fill="#959595" stroke="#3a3a3a" stroke-width="0.75"/><circle cx="253.9" cy="262.8" r="1.3" fill="#959595" stroke="#3a3a3a" stroke-width="0.75"/><circle cx="302.6" cy="200.2" r="1.3" fill="#959595" stroke="#3a3a3a" stroke-width="0.75"/><circle cx="238.6" cy="231.3" r="1.3" fill="#959595" stroke="#3a3a3a" stroke-width="0.75"/><circle cx="277.4" cy="211.0" r="1.3" fill="#959595" stroke="#3a3a3a" stroke-width="0.75"/><circle cx="244.6" cy="252.9" r="1.3" fill="#959595" stroke="#3a3a3a" stroke-width="0.75"/><circle cx="258.5" cy="174.4" r="1.3" fill="#959595" stroke="#3a3a3a" stroke-width="0.75"/><circle cx="275.9" cy="235.6" r="1.3" fill="#959595" stroke="#3a3a3a" stroke-width="0.75"/><circle cx="285.9" cy="249.4" r="1.3" fill="#959595" stroke="#3a3a3a" stroke-width="0.75"/><circle cx="295.9" cy="230.2" r="1.3" fill="#959595" stroke="#3a3a3a" stroke-width="0.75"/><circle cx="261.3" cy="175.8" r="1.3" fill="#959595" stroke="#3a3a3a" stroke-width="0.75"/><circle cx="237.6" cy="222.0" r="1.3" fill="#959595" stroke="#3a3a3a" stroke-width="0.75"/><circle cx="242.7" cy="246.9" r="1.3" fill="#959595" stroke="#3a3a3a" stroke-width="0.75"/><circle cx="288.9" cy="176.6" r="1.3" fill="#959595" stroke="#3a3a3a" stroke-width="0.75"/><circle cx="232.2" cy="284.6" r="1.3" fill="#959595" stroke="#3a3a3a" stroke-width="0.75"/><circle cx="258.2" cy="190.9" r="1.3" fill="#959595" stroke="#3a3a3a" stroke-width="0.75"/><circle cx="235.0" cy="176.6" r="1.3" fill="#959595" stroke="#3a3a3a" stroke-width="0.75"/><circle cx="252.6" cy="221.6" r="1.3" fill="#959595" stroke="#3a3a3a" stroke-width="0.75"/><circle cx="247.3" cy="138.6" r="1.3" fill="#959595" stroke="#3a3a3a" stroke-width="0.75"/><circle cx="276.3" cy="217.7" r="1.3" fill="#959595" stroke="#3a3a3a" stroke-width="0.75"/><circle cx="242.0" cy="201.6" r="1.3" fill="#959595" stroke="#3a3a3a" stroke-width="0.75"/><circle cx="252.8" cy="272.1" r="1.3" fill="#959595" stroke="#3a3a3a" stroke-width="0.75"/><circle cx="278.6" cy="188.7" r="1.3" fill="#959595" stroke="#3a3a3a" stroke-width="0.75"/><circle cx="260.0" cy="206.5" r="1.3" fill="#959595" stroke="#3a3a3a" stroke-width="0.75"/><circle cx="273.2" cy="135.3" r="1.3" fill="#959595" stroke="#3a3a3a" stroke-width="0.75"/><circle cx="284.8" cy="201.7" r="1.3" fill="#959595" stroke="#3a3a3a" stroke-width="0.75"/><circle cx="264.8" cy="221.5" r="1.3" fill="#959595" stroke="#3a3a3a" stroke-width="0.75"/><circle cx="292.5" cy="176.7" r="1.3" fill="#959595" stroke="#3a3a3a" stroke-width="0.75"/><circle cx="244.0" cy="193.3" r="1.3" fill="#959595" stroke="#3a3a3a" stroke-width="0.75"/><circle cx="232.9" cy="233.7" r="1.3" fill="#959595" stroke="#3a3a3a" stroke-width="0.75"/><circle cx="250.6" cy="200.4" r="1.3" fill="#959595" stroke="#3a3a3a" stroke-width="0.75"/><circle cx="255.6" cy="184.8" r="1.3" fill="#959595" stroke="#3a3a3a" stroke-width="0.75"/><circle cx="269.0" cy="173.6" r="1.3" fill="#959595" stroke="#3a3a3a" stroke-width="0.75"/><circle cx="245.4" cy="131.8" r="1.3" fill="#959595" stroke="#3a3a3a" stroke-width="0.75"/><circle cx="265.5" cy="238.0" r="1.3" fill="#959595" stroke="#3a3a3a" stroke-width="0.75"/><circle cx="233.6" cy="204.6" r="1.3" fill="#959595" stroke="#3a3a3a" stroke-width="0.75"/><circle cx="256.8" cy="188.9" r="1.3" fill="#959595" stroke="#3a3a3a" stroke-width="0.75"/><circle cx="269.7" cy="163.9" r="1.3" fill="#959595" stroke="#3a3a3a" stroke-width="0.75"/><circle cx="248.0" cy="230.3" r="1.3" fill="#959595" stroke="#3a3a3a" stroke-width="0.75"/><circle cx="248.3" cy="253.3" r="1.3" fill="#959595" stroke="#3a3a3a" stroke-width="0.75"/><circle cx="232.8" cy="192.8" r="1.3" fill="#959595" stroke="#3a3a3a" stroke-width="0.75"/><circle cx="248.1" cy="201.5" r="1.3" fill="#959595" stroke="#3a3a3a" stroke-width="0.75"/><circle cx="226.4" cy="275.5" r="1.3" fill="#959595" stroke="#3a3a3a" stroke-width="0.75"/><circle cx="274.9" cy="187.8" r="1.3" fill="#959595" stroke="#3a3a3a" stroke-width="0.75"/><circle cx="258.4" cy="197.5" r="1.3" fill="#959595" stroke="#3a3a3a" stroke-width="0.75"/><circle cx="271.4" cy="199.4" r="1.3" fill="#959595" stroke="#3a3a3a" stroke-width="0.75"/><circle cx="262.3" cy="217.7" r="1.3" fill="#959595" stroke="#3a3a3a" stroke-width="0.75"/><circle cx="249.7" cy="197.6" r="1.3" fill="#959595" stroke="#3a3a3a" stroke-width="0.75"/><circle cx="256.2" cy="265.9" r="1.3" fill="#959595" stroke="#3a3a3a" stroke-width="0.75"/><circle cx="265.2" cy="238.1" r="1.3" fill="#959595" stroke="#3a3a3a" stroke-width="0.75"/><circle cx="258.0" cy="187.9" r="1.3" fill="#959595" stroke="#3a3a3a" stroke-width="0.75"/><circle cx="268.8" cy="162.9" r="1.3" fill="#959595" stroke="#3a3a3a" stroke-width="0.75"/><circle cx="258.9" cy="259.0" r="1.3" fill="#959595" stroke="#3a3a3a" stroke-width="0.75"/><circle cx="284.8" cy="234.8" r="1.3" fill="#959595" stroke="#3a3a3a" stroke-width="0.75"/><circle cx="286.4" cy="194.2" r="1.3" fill="#959595" stroke="#3a3a3a" stroke-width="0.75"/><circle cx="258.9" cy="225.0" r="1.3" fill="#959595" stroke="#3a3a3a" stroke-width="0.75"/><circle cx="243.0" cy="177.1" r="1.3" fill="#959595" stroke="#3a3a3a" stroke-width="0.75"/><circle cx="282.6" cy="193.3" r="1.3" fill="#959595" stroke="#3a3a3a" stroke-width="0.75"/><circle cx="264.8" cy="229.6" r="1.3" fill="#959595" stroke="#3a3a3a" stroke-width="0.75"/><circle cx="278.0" cy="212.3" r="1.3" fill="#959595" stroke="#3a3a3a" stroke-width="0.75"/><circle cx="290.6" cy="219.1" r="1.3" fill="#959595" stroke="#3a3a3a" stroke-width="0.75"/><circle cx="266.6" cy="212.8" r="1.3" fill="#959595" stroke="#3a3a3a" stroke-width="0.75"/><circle cx="288.5" cy="200.9" r="1.3" fill="#959595" stroke="#3a3a3a" stroke-width="0.75"/><circle cx="274.6" cy="206.0" r="1.3" fill="#959595" stroke="#3a3a3a" stroke-width="0.75"/><circle cx="246.0" cy="227.2" r="1.3" fill="#959595" stroke="#3a3a3a" stroke-width="0.75"/><circle cx="283.4" cy="290.1" r="1.3" fill="#959595" stroke="#3a3a3a" stroke-width="0.75"/><circle cx="242.7" cy="182.9" r="1.3" fill="#959595" stroke="#3a3a3a" stroke-width="0.75"/><circle cx="240.0" cy="268.3" r="1.3" fill="#959595" stroke="#3a3a3a" stroke-width="0.75"/><circle cx="261.1" cy="190.4" r="1.3" fill="#959595" stroke="#3a3a3a" stroke-width="0.75"/><circle cx="276.4" cy="210.0" r="1.3" fill="#959595" stroke="#3a3a3a" stroke-width="0.75"/><circle cx="237.2" cy="189.8" r="1.3" fill="#959595" stroke="#3a3a3a" stroke-width="0.75"/><circle cx="256.9" cy="278.3" r="1.3" fill="#959595" stroke="#3a3a3a" stroke-width="0.75"/><circle cx="247.3" cy="227.8" r="1.3" fill="#959595" stroke="#3a3a3a" stroke-width="0.75"/><circle cx="257.9" cy="191.3" r="1.3" fill="#959595" stroke="#3a3a3a" stroke-width="0.75"/><circle cx="254.1" cy="245.1" r="1.3" fill="#959595" stroke="#3a3a3a" stroke-width="0.75"/><circle cx="283.7" cy="216.5" r="1.3" fill="#959595" stroke="#3a3a3a" stroke-width="0.75"/><circle cx="252.1" cy="213.0" r="1.3" fill="#959595" stroke="#3a3a3a" stroke-width="0.75"/><circle cx="254.5" cy="202.9" r="1.3" fill="#959595" stroke="#3a3a3a" stroke-width="0.75"/><circle cx="187.8" cy="203.0" r="1.3" fill="#959595" stroke="#3a3a3a" stroke-width="0.75"/><circle cx="225.7" cy="238.2" r="1.3" fill="#959595" stroke="#3a3a3a" stroke-width="0.75"/><circle cx="306.2" cy="180.5" r="1.3" fill="#959595" stroke="#3a3a3a" stroke-width="0.75"/><circle cx="223.4" cy="173.1" r="1.3" fill="#959595" stroke="#3a3a3a" stroke-width="0.75"/><circle cx="231.3" cy="224.0" r="1.3" fill="#959595" stroke="#3a3a3a" stroke-width="0.75"/><circle cx="319.3" cy="191.5" r="1.3" fill="#959595" stroke="#3a3a3a" stroke-width="0.75"/><circle cx="274.7" cy="182.0" r="1.3" fill="#959595" stroke="#3a3a3a" stroke-width="0.75"/><circle cx="251.5" cy="180.7" r="1.3" fill="#959595" stroke="#3a3a3a" stroke-width="0.75"/><circle cx="297.2" cy="162.9" r="1.3" fill="#959595" stroke="#3a3a3a" stroke-width="0.75"/><circle cx="256.9" cy="199.7" r="1.3" fill="#959595" stroke="#3a3a3a" stroke-width="0.75"/><circle cx="277.9" cy="224.2" r="1.3" fill="#959595" stroke="#3a3a3a" stroke-width="0.75"/><circle cx="231.5" cy="244.7" r="1.3" fill="#959595" stroke="#3a3a3a" stroke-width="0.75"/><circle cx="236.7" cy="191.6" r="1.3" fill="#959595" stroke="#3a3a3a" stroke-width="0.75"/><circle cx="289.5" cy="154.1" r="1.3" fill="#959595" stroke="#3a3a3a" stroke-width="0.75"/><circle cx="283.8" cy="181.2" r="1.3" fill="#959595" stroke="#3a3a3a" stroke-width="0.75"/><circle cx="271.6" cy="170.8" r="1.3" fill="#959595" stroke="#3a3a3a" stroke-width="0.75"/><circle cx="301.1" cy="198.2" r="1.3" fill="#959595" stroke="#3a3a3a" stroke-width="0.75"/><circle cx="192.9" cy="143.5" r="1.3" fill="#959595" stroke="#3a3a3a" stroke-width="0.75"/><circle cx="257.8" cy="234.6" r="1.3" fill="#959595" stroke="#3a3a3a" stroke-width="0.75"/><circle cx="256.5" cy="214.7" r="1.3" fill="#959595" stroke="#3a3a3a" stroke-width="0.75"/><circle cx="233.6" cy="238.6" r="1.3" fill="#959595" stroke="#3a3a3a" stroke-width="0.75"/><circle cx="234.4" cy="262.5" r="1.3" fill="#959595" stroke="#3a3a3a" stroke-width="0.75"/><circle cx="278.7" cy="256.2" r="1.3" fill="#959595" stroke="#3a3a3a" stroke-width="0.75"/><circle cx="290.6" cy="188.4" r="1.3" fill="#959595" stroke="#3a3a3a" stroke-width="0.75"/><circle cx="295.6" cy="169.1" r="1.3" fill="#959595" stroke="#3a3a3a" stroke-width="0.75"/><circle cx="170.0" cy="196.7" r="1.3" fill="#959595" stroke="#3a3a3a" stroke-width="0.75"/><circle cx="249.3" cy="252.1" r="1.3" fill="#959595" stroke="#3a3a3a" stroke-width="0.75"/><circle cx="309.2" cy="254.5" r="1.3" fill="#959595" stroke="#3a3a3a" stroke-width="0.75"/><circle cx="258.1" cy="219.3" r="1.3" fill="#959595" stroke="#3a3a3a" stroke-width="0.75"/><circle cx="257.0" cy="194.0" r="1.3" fill="#959595" stroke="#3a3a3a" stroke-width="0.75"/><circle cx="211.2" cy="216.7" r="1.3" fill="#959595" stroke="#3a3a3a" stroke-width="0.75"/><circle cx="237.6" cy="184.6" r="1.3" fill="#959595" stroke="#3a3a3a" stroke-width="0.75"/><circle cx="272.3" cy="168.4" r="1.3" fill="#959595" stroke="#3a3a3a" stroke-width="0.75"/><circle cx="215.7" cy="137.1" r="1.3" fill="#959595" stroke="#3a3a3a" stroke-width="0.75"/><circle cx="253.9" cy="143.2" r="1.3" fill="#959595" stroke="#3a3a3a" stroke-width="0.75"/><circle cx="253.8" cy="262.8" r="1.3" fill="#959595" stroke="#3a3a3a" stroke-width="0.75"/><circle cx="285.4" cy="214.9" r="1.3" fill="#959595" stroke="#3a3a3a" stroke-width="0.75"/><circle cx="182.1" cy="198.9" r="1.3" fill="#959595" stroke="#3a3a3a" stroke-width="0.75"/><circle cx="269.3" cy="244.0" r="1.3" fill="#959595" stroke="#3a3a3a" stroke-width="0.75"/><circle cx="278.3" cy="215.3" r="1.3" fill="#959595" stroke="#3a3a3a" stroke-width="0.75"/><circle cx="259.0" cy="172.7" r="1.3" fill="#959595" stroke="#3a3a3a" stroke-width="0.75"/><circle cx="247.1" cy="228.9" r="1.3" fill="#959595" stroke="#3a3a3a" stroke-width="0.75"/><circle cx="232.1" cy="202.3" r="1.3" fill="#959595" stroke="#3a3a3a" stroke-width="0.75"/><circle cx="280.5" cy="219.6" r="1.3" fill="#959595" stroke="#3a3a3a" stroke-width="0.75"/><circle cx="257.7" cy="277.8" r="1.3" fill="#959595" stroke="#3a3a3a" stroke-width="0.75"/><circle cx="221.3" cy="152.4" r="1.3" fill="#959595" stroke="#3a3a3a" stroke-width="0.75"/><circle cx="278.8" cy="267.1" r="1.3" fill="#959595" stroke="#3a3a3a" stroke-width="0.75"/><circle cx="275.0" cy="177.0" r="1.3" fill="#959595" stroke="#3a3a3a" stroke-width="0.75"/><circle cx="308.0" cy="166.3" r="1.3" fill="#959595" stroke="#3a3a3a" stroke-width="0.75"/><circle cx="181.8" cy="192.4" r="1.3" fill="#959595" stroke="#3a3a3a" stroke-width="0.75"/><circle cx="253.2" cy="241.2" r="1.3" fill="#959595" stroke="#3a3a3a" stroke-width="0.75"/><circle cx="256.7" cy="190.5" r="1.3" fill="#959595" stroke="#3a3a3a" stroke-width="0.75"/><circle cx="210.7" cy="152.6" r="1.3" fill="#959595" stroke="#3a3a3a" stroke-width="0.75"/><circle cx="231.8" cy="234.4" r="1.3" fill="#959595" stroke="#3a3a3a" stroke-width="0.75"/><circle cx="262.6" cy="220.5" r="1.3" fill="#959595" stroke="#3a3a3a" stroke-width="0.75"/><circle cx="223.8" cy="234.1" r="1.3" fill="#959595" stroke="#3a3a3a" stroke-width="0.75"/><circle cx="241.2" cy="235.3" r="1.3" fill="#959595" stroke="#3a3a3a" stroke-width="0.75"/><circle cx="232.2" cy="269.0" r="1.3" fill="#959595" stroke="#3a3a3a" stroke-width="0.75"/><circle cx="219.7" cy="192.8" r="1.3" fill="#959595" stroke="#3a3a3a" stroke-width="0.75"/><circle cx="234.7" cy="248.3" r="1.3" fill="#959595" stroke="#3a3a3a" stroke-width="0.75"/><circle cx="248.1" cy="203.1" r="1.3" fill="#959595" stroke="#3a3a3a" stroke-width="0.75"/><circle cx="279.0" cy="206.6" r="1.3" fill="#959595" stroke="#3a3a3a" stroke-width="0.75"/><circle cx="226.6" cy="147.6" r="1.3" fill="#959595" stroke="#3a3a3a" stroke-width="0.75"/><circle cx="250.6" cy="256.6" r="1.3" fill="#959595" stroke="#3a3a3a" stroke-width="0.75"/><circle cx="255.4" cy="222.0" r="1.3" fill="#959595" stroke="#3a3a3a" stroke-width="0.75"/><circle cx="268.6" cy="197.6" r="1.3" fill="#959595" stroke="#3a3a3a" stroke-width="0.75"/><circle cx="250.1" cy="159.1" r="1.3" fill="#959595" stroke="#3a3a3a" stroke-width="0.75"/><circle cx="240.2" cy="185.1" r="1.3" fill="#959595" stroke="#3a3a3a" stroke-width="0.75"/><circle cx="257.4" cy="194.2" r="1.3" fill="#959595" stroke="#3a3a3a" stroke-width="0.75"/><circle cx="267.2" cy="221.2" r="1.3" fill="#959595" stroke="#3a3a3a" stroke-width="0.75"/><circle cx="263.9" cy="242.8" r="1.3" fill="#959595" stroke="#3a3a3a" stroke-width="0.75"/><circle cx="217.5" cy="196.8" r="1.3" fill="#959595" stroke="#3a3a3a" stroke-width="0.75"/><circle cx="249.0" cy="189.5" r="1.3" fill="#959595" stroke="#3a3a3a" stroke-width="0.75"/><circle cx="304.6" cy="151.9" r="1.3" fill="#959595" stroke="#3a3a3a" stroke-width="0.75"/><circle cx="285.2" cy="252.7" r="1.3" fill="#959595" stroke="#3a3a3a" stroke-width="0.75"/><circle cx="253.9" cy="181.9" r="1.3" fill="#959595" stroke="#3a3a3a" stroke-width="0.75"/><circle cx="254.1" cy="243.1" r="1.3" fill="#959595" stroke="#3a3a3a" stroke-width="0.75"/><circle cx="262.1" cy="228.1" r="1.3" fill="#959595" stroke="#3a3a3a" stroke-width="0.75"/><circle cx="271.3" cy="194.0" r="1.3" fill="#959595" stroke="#3a3a3a" stroke-width="0.75"/><circle cx="232.1" cy="182.7" r="1.3" fill="#959595" stroke="#3a3a3a" stroke-width="0.75"/><circle cx="291.8" cy="170.5" r="1.3" fill="#959595" stroke="#3a3a3a" stroke-width="0.75"/><circle cx="277.6" cy="179.9" r="1.3" fill="#959595" stroke="#3a3a3a" stroke-width="0.75"/><circle cx="233.2" cy="238.1" r="1.3" fill="#959595" stroke="#3a3a3a" stroke-width="0.75"/><circle cx="220.6" cy="281.6" r="1.3" fill="#959595" stroke="#3a3a3a" stroke-width="0.75"/><circle cx="249.3" cy="223.8" r="1.3" fill="#959595" stroke="#3a3a3a" stroke-width="0.75"/><circle cx="271.5" cy="184.7" r="1.3" fill="#959595" stroke="#3a3a3a" stroke-width="0.75"/><circle cx="237.8" cy="239.2" r="1.3" fill="#959595" stroke="#3a3a3a" stroke-width="0.75"/><circle cx="220.2" cy="219.2" r="1.3" fill="#959595" stroke="#3a3a3a" stroke-width="0.75"/><circle cx="274.3" cy="246.3" r="1.3" fill="#959595" stroke="#3a3a3a" stroke-width="0.75"/><circle cx="277.0" cy="210.1" r="1.3" fill="#959595" stroke="#3a3a3a" stroke-width="0.75"/><circle cx="252.4" cy="229.5" r="1.3" fill="#959595" stroke="#3a3a3a" stroke-width="0.75"/><circle cx="239.8" cy="178.7" r="1.3" fill="#959595" stroke="#3a3a3a" stroke-width="0.75"/><circle cx="251.4" cy="178.9" r="1.3" fill="#959595" stroke="#3a3a3a" stroke-width="0.75"/><circle cx="279.5" cy="162.2" r="1.3" fill="#959595" stroke="#3a3a3a" stroke-width="0.75"/><circle cx="260.8" cy="253.6" r="1.3" fill="#959595" stroke="#3a3a3a" stroke-width="0.75"/><circle cx="286.1" cy="208.1" r="1.3" fill="#959595" stroke="#3a3a3a" stroke-width="0.75"/><circle cx="251.2" cy="172.0" r="1.3" fill="#959595" stroke="#3a3a3a" stroke-width="0.75"/><circle cx="260.3" cy="259.5" r="1.3" fill="#959595" stroke="#3a3a3a" stroke-width="0.75"/><circle cx="266.2" cy="206.3" r="1.3" fill="#959595" stroke="#3a3a3a" stroke-width="0.75"/><circle cx="258.0" cy="176.8" r="1.3" fill="#959595" stroke="#3a3a3a" stroke-width="0.75"/><circle cx="249.7" cy="157.9" r="1.3" fill="#959595" stroke="#3a3a3a" stroke-width="0.75"/><circle cx="251.1" cy="163.0" r="1.3" fill="#959595" stroke="#3a3a3a" stroke-width="0.75"/><circle cx="266.8" cy="213.1" r="1.3" fill="#959595" stroke="#3a3a3a" stroke-width="0.75"/><circle cx="287.0" cy="195.5" r="1.3" fill="#959595" stroke="#3a3a3a" stroke-width="0.75"/><circle cx="235.5" cy="248.3" r="1.3" fill="#959595" stroke="#3a3a3a" stroke-width="0.75"/><circle cx="232.3" cy="238.7" r="1.3" fill="#959595" stroke="#3a3a3a" stroke-width="0.75"/><circle cx="237.3" cy="213.4" r="1.3" fill="#959595" stroke="#3a3a3a" stroke-width="0.75"/><circle cx="226.6" cy="195.1" r="1.3" fill="#959595" stroke="#3a3a3a" stroke-width="0.75"/><circle cx="227.5" cy="235.3" r="1.3" fill="#959595" stroke="#3a3a3a" stroke-width="0.75"/><circle cx="256.6" cy="243.4" r="1.3" fill="#959595" stroke="#3a3a3a" stroke-width="0.75"/><circle cx="288.7" cy="205.1" r="1.3" fill="#959595" stroke="#3a3a3a" stroke-width="0.75"/><circle cx="265.9" cy="226.0" r="1.3" fill="#959595" stroke="#3a3a3a" stroke-width="0.75"/><circle cx="266.0" cy="243.2" r="1.3" fill="#959595" stroke="#3a3a3a" stroke-width="0.75"/><circle cx="209.6" cy="197.3" r="1.3" fill="#959595" stroke="#3a3a3a" stroke-width="0.75"/><circle cx="271.8" cy="212.0" r="1.3" fill="#959595" stroke="#3a3a3a" stroke-width="0.75"/><circle cx="221.0" cy="181.5" r="1.3" fill="#959595" stroke="#3a3a3a" stroke-width="0.75"/><circle cx="264.9" cy="202.8" r="1.3" fill="#959595" stroke="#3a3a3a" stroke-width="0.75"/><circle cx="226.4" cy="187.8" r="1.3" fill="#959595" stroke="#3a3a3a" stroke-width="0.75"/><circle cx="296.8" cy="170.4" r="1.3" fill="#959595" stroke="#3a3a3a" stroke-width="0.75"/><circle cx="242.8" cy="243.2" r="1.3" fill="#959595" stroke="#3a3a3a" stroke-width="0.75"/><circle cx="246.2" cy="220.3" r="1.3" fill="#959595" stroke="#3a3a3a" stroke-width="0.75"/><circle cx="245.6" cy="221.8" r="1.3" fill="#959595" stroke="#3a3a3a" stroke-width="0.75"/><circle cx="235.7" cy="259.7" r="1.3" fill="#959595" stroke="#3a3a3a" stroke-width="0.75"/><circle cx="242.0" cy="243.5" r="1.3" fill="#959595" stroke="#3a3a3a" stroke-width="0.75"/><circle cx="255.1" cy="199.9" r="1.3" fill="#959595" stroke="#3a3a3a" stroke-width="0.75"/><circle cx="296.6" cy="187.0" r="1.3" fill="#959595" stroke="#3a3a3a" stroke-width="0.75"/><circle cx="274.2" cy="210.2" r="1.3" fill="#959595" stroke="#3a3a3a" stroke-width="0.75"/><circle cx="263.3" cy="254.5" r="1.3" fill="#959595" stroke="#3a3a3a" stroke-width="0.75"/><circle cx="257.1" cy="275.5" r="1.3" fill="#959595" stroke="#3a3a3a" stroke-width="0.75"/><circle cx="269.1" cy="277.5" r="1.3" fill="#959595" stroke="#3a3a3a" stroke-width="0.75"/><circle cx="245.6" cy="199.8" r="1.3" fill="#959595" stroke="#3a3a3a" stroke-width="0.75"/><circle cx="270.8" cy="214.2" r="1.3" fill="#959595" stroke="#3a3a3a" stroke-width="0.75"/><circle cx="218.4" cy="170.4" r="1.3" fill="#959595" stroke="#3a3a3a" stroke-width="0.75"/><circle cx="269.7" cy="202.6" r="1.3" fill="#959595" stroke="#3a3a3a" stroke-width="0.75"/><circle cx="238.1" cy="238.2" r="1.3" fill="#959595" stroke="#3a3a3a" stroke-width="0.75"/><circle cx="273.9" cy="175.4" r="1.3" fill="#959595" stroke="#3a3a3a" stroke-width="0.75"/><circle cx="269.8" cy="171.5" r="1.3" fill="#959595" stroke="#3a3a3a" stroke-width="0.75"/><circle cx="284.3" cy="192.4" r="1.3" fill="#959595" stroke="#3a3a3a" stroke-width="0.75"/><circle cx="282.5" cy="177.1" r="1.3" fill="#959595" stroke="#3a3a3a" stroke-width="0.75"/><circle cx="258.0" cy="176.0" r="1.3" fill="#959595" stroke="#3a3a3a" stroke-width="0.75"/><circle cx="252.2" cy="164.8" r="1.3" fill="#959595" stroke="#3a3a3a" stroke-width="0.75"/><circle cx="245.3" cy="197.6" r="1.3" fill="#959595" stroke="#3a3a3a" stroke-width="0.75"/><circle cx="261.1" cy="174.6" r="1.3" fill="#959595" stroke="#3a3a3a" stroke-width="0.75"/><circle cx="253.2" cy="263.2" r="1.3" fill="#959595" stroke="#3a3a3a" stroke-width="0.75"/><circle cx="260.7" cy="135.6" r="1.3" fill="#959595" stroke="#3a3a3a" stroke-width="0.75"/><circle cx="262.5" cy="141.4" r="1.3" fill="#959595" stroke="#3a3a3a" stroke-width="0.75"/><circle cx="272.1" cy="185.6" r="1.3" fill="#959595" stroke="#3a3a3a" stroke-width="0.75"/><circle cx="275.8" cy="253.1" r="1.3" fill="#959595" stroke="#3a3a3a" stroke-width="0.75"/><circle cx="243.7" cy="252.0" r="1.3" fill="#959595" stroke="#3a3a3a" stroke-width="0.75"/><circle cx="240.0" cy="186.1" r="1.3" fill="#959595" stroke="#3a3a3a" stroke-width="0.75"/><circle cx="252.9" cy="153.9" r="1.3" fill="#959595" stroke="#3a3a3a" stroke-width="0.75"/><circle cx="259.8" cy="234.0" r="1.3" fill="#959595" stroke="#3a3a3a" stroke-width="0.75"/><circle cx="234.2" cy="186.1" r="1.3" fill="#959595" stroke="#3a3a3a" stroke-width="0.75"/><circle cx="233.2" cy="262.8" r="1.3" fill="#959595" stroke="#3a3a3a" stroke-width="0.75"/><circle cx="292.4" cy="198.9" r="1.3" fill="#959595" stroke="#3a3a3a" stroke-width="0.75"/><circle cx="285.1" cy="205.5" r="1.3" fill="#959595" stroke="#3a3a3a" stroke-width="0.75"/><circle cx="282.8" cy="177.1" r="1.3" fill="#959595" stroke="#3a3a3a" stroke-width="0.75"/><circle cx="234.5" cy="243.6" r="1.3" fill="#959595" stroke="#3a3a3a" stroke-width="0.75"/><circle cx="252.7" cy="262.9" r="1.3" fill="#959595" stroke="#3a3a3a" stroke-width="0.75"/><circle cx="259.8" cy="246.3" r="1.3" fill="#959595" stroke="#3a3a3a" stroke-width="0.75"/><circle cx="296.3" cy="236.2" r="1.3" fill="#959595" stroke="#3a3a3a" stroke-width="0.75"/><circle cx="279.3" cy="197.8" r="1.3" fill="#959595" stroke="#3a3a3a" stroke-width="0.75"/><circle cx="261.8" cy="160.1" r="1.3" fill="#959595" stroke="#3a3a3a" stroke-width="0.75"/><circle cx="286.6" cy="137.5" r="1.3" fill="#959595" stroke="#3a3a3a" stroke-width="0.75"/><circle cx="269.4" cy="211.1" r="1.3" fill="#959595" stroke="#3a3a3a" stroke-width="0.75"/><circle cx="266.8" cy="241.0" r="1.3" fill="#959595" stroke="#3a3a3a" stroke-width="0.75"/><circle cx="244.5" cy="176.2" r="1.3" fill="#959595" stroke="#3a3a3a" stroke-width="0.75"/><circle cx="260.6" cy="197.5" r="1.3" fill="#959595" stroke="#3a3a3a" stroke-width="0.75"/><circle cx="295.0" cy="200.2" r="1.3" fill="#959595" stroke="#3a3a3a" stroke-width="0.75"/><circle cx="233.6" cy="224.8" r="1.3" fill="#959595" stroke="#3a3a3a" stroke-width="0.75"/><circle cx="222.8" cy="160.5" r="1.3" fill="#959595" stroke="#3a3a3a" stroke-width="0.75"/><circle cx="255.8" cy="153.0" r="1.3" fill="#959595" stroke="#3a3a3a" stroke-width="0.75"/><circle cx="296.9" cy="177.0" r="1.3" fill="#959595" stroke="#3a3a3a" stroke-width="0.75"/><circle cx="264.9" cy="211.5" r="1.3" fill="#959595" stroke="#3a3a3a" stroke-width="0.75"/><circle cx="247.6" cy="201.2" r="1.3" fill="#959595" stroke="#3a3a3a" stroke-width="0.75"/><circle cx="278.4" cy="279.2" r="1.3" fill="#959595" stroke="#3a3a3a" stroke-width="0.75"/><circle cx="233.4" cy="210.4" r="1.3" fill="#959595" stroke="#3a3a3a" stroke-width="0.75"/><circle cx="240.6" cy="257.8" r="1.3" fill="#959595" stroke="#3a3a3a" stroke-width="0.75"/><circle cx="236.7" cy="178.3" r="1.3" fill="#959595" stroke="#3a3a3a" stroke-width="0.75"/><circle cx="218.5" cy="135.3" r="1.3" fill="#959595" stroke="#3a3a3a" stroke-width="0.75"/><circle cx="273.6" cy="249.2" r="1.3" fill="#959595" stroke="#3a3a3a" stroke-width="0.75"/><circle cx="250.4" cy="203.9" r="1.3" fill="#959595" stroke="#3a3a3a" stroke-width="0.75"/><circle cx="199.1" cy="166.3" r="1.3" fill="#959595" stroke="#3a3a3a" stroke-width="0.75"/><circle cx="287.6" cy="214.9" r="1.3" fill="#959595" stroke="#3a3a3a" stroke-width="0.75"/><circle cx="273.5" cy="214.7" r="1.3" fill="#959595" stroke="#3a3a3a" stroke-width="0.75"/><circle cx="264.0" cy="187.0" r="1.3" fill="#959595" stroke="#3a3a3a" stroke-width="0.75"/><circle cx="237.1" cy="256.6" r="1.3" fill="#959595" stroke="#3a3a3a" stroke-width="0.75"/><circle cx="244.7" cy="246.2" r="1.3" fill="#959595" stroke="#3a3a3a" stroke-width="0.75"/><circle cx="278.9" cy="203.4" r="1.3" fill="#959595" stroke="#3a3a3a" stroke-width="0.75"/><circle cx="250.2" cy="183.8" r="1.3" fill="#959595" stroke="#3a3a3a" stroke-width="0.75"/><circle cx="201.8" cy="189.4" r="1.3" fill="#959595" stroke="#3a3a3a" stroke-width="0.75"/><circle cx="253.7" cy="259.7" r="1.3" fill="#959595" stroke="#3a3a3a" stroke-width="0.75"/><circle cx="216.6" cy="199.1" r="1.3" fill="#959595" stroke="#3a3a3a" stroke-width="0.75"/><circle cx="244.6" cy="216.5" r="1.3" fill="#959595" stroke="#3a3a3a" stroke-width="0.75"/><circle cx="202.3" cy="175.0" r="1.3" fill="#959595" stroke="#3a3a3a" stroke-width="0.75"/><circle cx="241.7" cy="217.0" r="1.3" fill="#959595" stroke="#3a3a3a" stroke-width="0.75"/><circle cx="261.1" cy="285.4" r="1.3" fill="#959595" stroke="#3a3a3a" stroke-width="0.75"/><circle cx="249.2" cy="258.8" r="1.3" fill="#959595" stroke="#3a3a3a" stroke-width="0.75"/><circle cx="227.9" cy="198.6" r="1.3" fill="#959595" stroke="#3a3a3a" stroke-width="0.75"/><circle cx="243.0" cy="185.7" r="1.3" fill="#959595" stroke="#3a3a3a" stroke-width="0.75"/><circle cx="266.0" cy="215.9" r="1.3" fill="#959595" stroke="#3a3a3a" stroke-width="0.75"/><circle cx="226.6" cy="214.9" r="1.3" fill="#959595" stroke="#3a3a3a" stroke-width="0.75"/><circle cx="283.4" cy="235.5" r="1.3" fill="#959595" stroke="#3a3a3a" stroke-width="0.75"/><circle cx="240.5" cy="162.2" r="1.3" fill="#959595" stroke="#3a3a3a" stroke-width="0.75"/><circle cx="280.4" cy="229.8" r="1.3" fill="#959595" stroke="#3a3a3a" stroke-width="0.75"/><circle cx="218.1" cy="292.5" r="1.3" fill="#959595" stroke="#3a3a3a" stroke-width="0.75"/><circle cx="268.7" cy="176.6" r="1.3" fill="#959595" stroke="#3a3a3a" stroke-width="0.75"/><circle cx="238.5" cy="200.1" r="1.3" fill="#959595" stroke="#3a3a3a" stroke-width="0.75"/><circle cx="277.5" cy="206.7" r="1.3" fill="#959595" stroke="#3a3a3a" stroke-width="0.75"/><circle cx="234.5" cy="254.1" r="1.3" fill="#959595" stroke="#3a3a3a" stroke-width="0.75"/><circle cx="277.2" cy="172.9" r="1.3" fill="#959595" stroke="#3a3a3a" stroke-width="0.75"/><circle cx="272.9" cy="133.5" r="1.3" fill="#959595" stroke="#3a3a3a" stroke-width="0.75"/><circle cx="258.7" cy="192.3" r="1.3" fill="#959595" stroke="#3a3a3a" stroke-width="0.75"/><circle cx="280.0" cy="254.8" r="1.3" fill="#959595" stroke="#3a3a3a" stroke-width="0.75"/><circle cx="290.8" cy="183.3" r="1.3" fill="#959595" stroke="#3a3a3a" stroke-width="0.75"/><circle cx="267.5" cy="175.8" r="1.3" fill="#959595" stroke="#3a3a3a" stroke-width="0.75"/><circle cx="249.2" cy="230.4" r="1.3" fill="#959595" stroke="#3a3a3a" stroke-width="0.75"/><circle cx="234.6" cy="145.3" r="1.3" fill="#959595" stroke="#3a3a3a" stroke-width="0.75"/><circle cx="189.5" cy="228.3" r="1.3" fill="#959595" stroke="#3a3a3a" stroke-width="0.75"/><circle cx="296.8" cy="204.3" r="1.3" fill="#959595" stroke="#3a3a3a" stroke-width="0.75"/><circle cx="213.0" cy="202.3" r="1.3" fill="#959595" stroke="#3a3a3a" stroke-width="0.75"/><circle cx="247.8" cy="244.4" r="1.3" fill="#959595" stroke="#3a3a3a" stroke-width="0.75"/><circle cx="232.7" cy="197.5" r="1.3" fill="#959595" stroke="#3a3a3a" stroke-width="0.75"/><circle cx="271.8" cy="206.1" r="1.3" fill="#959595" stroke="#3a3a3a" stroke-width="0.75"/><circle cx="260.8" cy="186.9" r="1.3" fill="#959595" stroke="#3a3a3a" stroke-width="0.75"/><circle cx="245.2" cy="245.2" r="1.3" fill="#959595" stroke="#3a3a3a" stroke-width="0.75"/><circle cx="224.7" cy="242.3" r="1.3" fill="#959595" stroke="#3a3a3a" stroke-width="0.75"/><circle cx="266.8" cy="235.3" r="1.3" fill="#959595" stroke="#3a3a3a" stroke-width="0.75"/><circle cx="198.9" cy="151.9" r="1.3" fill="#959595" stroke="#3a3a3a" stroke-width="0.75"/><circle cx="102.3" cy="398.2" r="1.3" fill="#959595" stroke="#3a3a3a" stroke-width="0.75"/><circle cx="98.2" cy="386.0" r="1.3" fill="#959595" stroke="#3a3a3a" stroke-width="0.75"/><circle cx="86.5" cy="372.6" r="1.3" fill="#959595" stroke="#3a3a3a" stroke-width="0.75"/><circle cx="89.9" cy="414.3" r="1.3" fill="#959595" stroke="#3a3a3a" stroke-width="0.75"/><circle cx="92.3" cy="381.1" r="1.3" fill="#959595" stroke="#3a3a3a" stroke-width="0.75"/><circle cx="93.5" cy="391.9" r="1.3" fill="#959595" stroke="#3a3a3a" stroke-width="0.75"/><circle cx="92.2" cy="407.2" r="1.3" fill="#959595" stroke="#3a3a3a" stroke-width="0.75"/><circle cx="116.3" cy="383.5" r="1.3" fill="#959595" stroke="#3a3a3a" stroke-width="0.75"/><circle cx="97.3" cy="398.5" r="1.3" fill="#959595" stroke="#3a3a3a" stroke-width="0.75"/><circle cx="116.6" cy="373.7" r="1.3" fill="#959595" stroke="#3a3a3a" stroke-width="0.75"/><circle cx="105.2" cy="389.2" r="1.3" fill="#959595" stroke="#3a3a3a" stroke-width="0.75"/><circle cx="101.3" cy="401.8" r="1.3" fill="#959595" stroke="#3a3a3a" stroke-width="0.75"/><circle cx="117.4" cy="388.0" r="1.3" fill="#959595" stroke="#3a3a3a" stroke-width="0.75"/><circle cx="95.5" cy="402.1" r="1.3" fill="#959595" stroke="#3a3a3a" stroke-width="0.75"/><circle cx="118.3" cy="403.5" r="1.3" fill="#959595" stroke="#3a3a3a" stroke-width="0.75"/><circle cx="109.8" cy="382.8" r="1.3" fill="#959595" stroke="#3a3a3a" stroke-width="0.75"/><circle cx="107.0" cy="383.1" r="1.3" fill="#959595" stroke="#3a3a3a" stroke-width="0.75"/><circle cx="110.6" cy="395.2" r="1.3" fill="#959595" stroke="#3a3a3a" stroke-width="0.75"/><circle cx="118.2" cy="421.3" r="1.3" fill="#959595" stroke="#3a3a3a" stroke-width="0.75"/><circle cx="110.1" cy="407.2" r="1.3" fill="#959595" stroke="#3a3a3a" stroke-width="0.75"/><circle cx="106.0" cy="379.5" r="1.3" fill="#959595" stroke="#3a3a3a" stroke-width="0.75"/><circle cx="129.7" cy="379.2" r="1.3" fill="#959595" stroke="#3a3a3a" stroke-width="0.75"/><circle cx="99.5" cy="413.2" r="1.3" fill="#959595" stroke="#3a3a3a" stroke-width="0.75"/><circle cx="117.4" cy="387.3" r="1.3" fill="#959595" stroke="#3a3a3a" stroke-width="0.75"/><circle cx="104.2" cy="389.4" r="1.3" fill="#959595" stroke="#3a3a3a" stroke-width="0.75"/><circle cx="106.4" cy="398.6" r="1.3" fill="#959595" stroke="#3a3a3a" stroke-width="0.75"/><circle cx="98.6" cy="391.6" r="1.3" fill="#959595" stroke="#3a3a3a" stroke-width="0.75"/><circle cx="108.4" cy="400.6" r="1.3" fill="#959595" stroke="#3a3a3a" stroke-width="0.75"/><circle cx="105.6" cy="380.0" r="1.3" fill="#959595" stroke="#3a3a3a" stroke-width="0.75"/><circle cx="93.1" cy="391.2" r="1.3" fill="#959595" stroke="#3a3a3a" stroke-width="0.75"/><circle cx="132.0" cy="370.6" r="1.3" fill="#959595" stroke="#3a3a3a" stroke-width="0.75"/><circle cx="90.8" cy="390.6" r="1.3" fill="#959595" stroke="#3a3a3a" stroke-width="0.75"/><circle cx="96.5" cy="383.1" r="1.3" fill="#959595" stroke="#3a3a3a" stroke-width="0.75"/><circle cx="103.0" cy="411.1" r="1.3" fill="#959595" stroke="#3a3a3a" stroke-width="0.75"/><circle cx="109.2" cy="425.2" r="1.3" fill="#959595" stroke="#3a3a3a" stroke-width="0.75"/><circle cx="90.6" cy="391.4" r="1.3" fill="#959595" stroke="#3a3a3a" stroke-width="0.75"/><circle cx="92.6" cy="385.7" r="1.3" fill="#959595" stroke="#3a3a3a" stroke-width="0.75"/><circle cx="90.9" cy="396.2" r="1.3" fill="#959595" stroke="#3a3a3a" stroke-width="0.75"/><circle cx="107.6" cy="410.5" r="1.3" fill="#959595" stroke="#3a3a3a" stroke-width="0.75"/><circle cx="124.9" cy="384.6" r="1.3" fill="#959595" stroke="#3a3a3a" stroke-width="0.75"/><circle cx="98.5" cy="369.1" r="1.3" fill="#959595" stroke="#3a3a3a" stroke-width="0.75"/><circle cx="126.6" cy="381.0" r="1.3" fill="#959595" stroke="#3a3a3a" stroke-width="0.75"/><circle cx="79.6" cy="412.8" r="1.3" fill="#959595" stroke="#3a3a3a" stroke-width="0.75"/><circle cx="82.8" cy="405.5" r="1.3" fill="#959595" stroke="#3a3a3a" stroke-width="0.75"/><circle cx="98.8" cy="400.8" r="1.3" fill="#959595" stroke="#3a3a3a" stroke-width="0.75"/><circle cx="97.2" cy="395.8" r="1.3" fill="#959595" stroke="#3a3a3a" stroke-width="0.75"/><circle cx="88.0" cy="385.5" r="1.3" fill="#959595" stroke="#3a3a3a" stroke-width="0.75"/><circle cx="117.5" cy="388.1" r="1.3" fill="#959595" stroke="#3a3a3a" stroke-width="0.75"/><circle cx="103.7" cy="413.1" r="1.3" fill="#959595" stroke="#3a3a3a" stroke-width="0.75"/><circle cx="111.5" cy="395.9" r="1.3" fill="#959595" stroke="#3a3a3a" stroke-width="0.75"/><circle cx="95.3" cy="395.2" r="1.3" fill="#959595" stroke="#3a3a3a" stroke-width="0.75"/><circle cx="88.7" cy="411.8" r="1.3" fill="#959595" stroke="#3a3a3a" stroke-width="0.75"/><circle cx="128.0" cy="386.4" r="1.3" fill="#959595" stroke="#3a3a3a" stroke-width="0.75"/><circle cx="97.4" cy="381.4" r="1.3" fill="#959595" stroke="#3a3a3a" stroke-width="0.75"/><circle cx="111.9" cy="391.5" r="1.3" fill="#959595" stroke="#3a3a3a" stroke-width="0.75"/><circle cx="102.3" cy="414.9" r="1.3" fill="#959595" stroke="#3a3a3a" stroke-width="0.75"/><circle cx="112.4" cy="365.2" r="1.3" fill="#959595" stroke="#3a3a3a" stroke-width="0.75"/><circle cx="92.7" cy="416.0" r="1.3" fill="#959595" stroke="#3a3a3a" stroke-width="0.75"/><circle cx="112.7" cy="368.9" r="1.3" fill="#959595" stroke="#3a3a3a" stroke-width="0.75"/><circle cx="106.6" cy="408.5" r="1.3" fill="#959595" stroke="#3a3a3a" stroke-width="0.75"/><circle cx="120.4" cy="395.6" r="1.3" fill="#959595" stroke="#3a3a3a" stroke-width="0.75"/><circle cx="92.6" cy="414.8" r="1.3" fill="#959595" stroke="#3a3a3a" stroke-width="0.75"/><circle cx="115.1" cy="305.9" r="1.3" fill="#959595" stroke="#3a3a3a" stroke-width="0.75"/><circle cx="130.2" cy="325.2" r="1.3" fill="#959595" stroke="#3a3a3a" stroke-width="0.75"/><circle cx="113.7" cy="335.5" r="1.3" fill="#959595" stroke="#3a3a3a" stroke-width="0.75"/><circle cx="147.6" cy="342.1" r="1.3" fill="#959595" stroke="#3a3a3a" stroke-width="0.75"/><circle cx="175.7" cy="334.0" r="1.3" fill="#959595" stroke="#3a3a3a" stroke-width="0.75"/><circle cx="161.2" cy="341.3" r="1.3" fill="#959595" stroke="#3a3a3a" stroke-width="0.75"/><circle cx="128.7" cy="391.4" r="1.3" fill="#959595" stroke="#3a3a3a" stroke-width="0.75"/><circle cx="129.7" cy="404.9" r="1.3" fill="#959595" stroke="#3a3a3a" stroke-width="0.75"/><circle cx="151.0" cy="376.8" r="1.3" fill="#959595" stroke="#3a3a3a" stroke-width="0.75"/><circle cx="169.4" cy="378.8" r="1.3" fill="#959595" stroke="#3a3a3a" stroke-width="0.75"/><circle cx="124.8" cy="384.6" r="1.3" fill="#959595" stroke="#3a3a3a" stroke-width="0.75"/><circle cx="98.4" cy="317.4" r="1.3" fill="#959595" stroke="#3a3a3a" stroke-width="0.75"/><circle cx="97.6" cy="354.1" r="1.3" fill="#959595" stroke="#3a3a3a" stroke-width="0.75"/><circle cx="78.4" cy="358.6" r="1.3" fill="#959595" stroke="#3a3a3a" stroke-width="0.75"/><circle cx="187.4" cy="314.0" r="1.3" fill="#959595" stroke="#3a3a3a" stroke-width="0.75"/><circle cx="223.6" cy="314.4" r="1.3" fill="#959595" stroke="#3a3a3a" stroke-width="0.75"/><circle cx="230.8" cy="307.6" r="1.3" fill="#959595" stroke="#3a3a3a" stroke-width="0.75"/><circle cx="237.8" cy="314.0" r="1.3" fill="#959595" stroke="#3a3a3a" stroke-width="0.75"/><circle cx="243.6" cy="315.9" r="1.3" fill="#959595" stroke="#3a3a3a" stroke-width="0.75"/><circle cx="245.5" cy="314.8" r="1.3" fill="#959595" stroke="#3a3a3a" stroke-width="0.75"/><circle cx="237.2" cy="333.8" r="1.3" fill="#959595" stroke="#3a3a3a" stroke-width="0.75"/><circle cx="211.0" cy="328.3" r="1.3" fill="#959595" stroke="#3a3a3a" stroke-width="0.75"/><circle cx="210.0" cy="334.3" r="1.3" fill="#959595" stroke="#3a3a3a" stroke-width="0.75"/><circle cx="205.8" cy="343.4" r="1.3" fill="#959595" stroke="#3a3a3a" stroke-width="0.75"/><circle cx="210.0" cy="351.2" r="1.3" fill="#959595" stroke="#3a3a3a" stroke-width="0.75"/><circle cx="185.8" cy="352.2" r="1.3" fill="#959595" stroke="#3a3a3a" stroke-width="0.75"/><circle cx="188.7" cy="351.2" r="1.3" fill="#959595" stroke="#3a3a3a" stroke-width="0.75"/><circle cx="183.9" cy="346.4" r="1.3" fill="#959595" stroke="#3a3a3a" stroke-width="0.75"/><circle cx="195.5" cy="232.8" r="1.3" fill="#959595" stroke="#3a3a3a" stroke-width="0.75"/><circle cx="202.1" cy="235.1" r="1.3" fill="#959595" stroke="#3a3a3a" stroke-width="0.75"/><circle cx="196.9" cy="226.0" r="1.3" fill="#959595" stroke="#3a3a3a" stroke-width="0.75"/><circle cx="207.5" cy="226.6" r="1.3" fill="#959595" stroke="#3a3a3a" stroke-width="0.75"/><circle cx="202.1" cy="279.3" r="1.3" fill="#959595" stroke="#3a3a3a" stroke-width="0.75"/><circle cx="311.0" cy="187.8" r="1.3" fill="#959595" stroke="#3a3a3a" stroke-width="0.75"/><circle cx="315.5" cy="184.8" r="1.3" fill="#959595" stroke="#3a3a3a" stroke-width="0.75"/><circle cx="319.7" cy="182.9" r="1.3" fill="#959595" stroke="#3a3a3a" stroke-width="0.75"/><circle cx="328.1" cy="185.8" r="1.3" fill="#959595" stroke="#3a3a3a" stroke-width="0.75"/><circle cx="313.9" cy="192.6" r="1.3" fill="#959595" stroke="#3a3a3a" stroke-width="0.75"/><circle cx="319.7" cy="188.7" r="1.3" fill="#959595" stroke="#3a3a3a" stroke-width="0.75"/><circle cx="321.7" cy="190.7" r="1.3" fill="#959595" stroke="#3a3a3a" stroke-width="0.75"/><circle cx="323.6" cy="191.6" r="1.3" fill="#959595" stroke="#3a3a3a" stroke-width="0.75"/><circle cx="308.7" cy="202.3" r="1.3" fill="#959595" stroke="#3a3a3a" stroke-width="0.75"/><circle cx="315.9" cy="203.6" r="1.3" fill="#959595" stroke="#3a3a3a" stroke-width="0.75"/><circle cx="306.2" cy="194.5" r="1.3" fill="#959595" stroke="#3a3a3a" stroke-width="0.75"/><circle cx="302.9" cy="204.2" r="1.3" fill="#959595" stroke="#3a3a3a" stroke-width="0.75"/><circle cx="299.4" cy="207.1" r="1.3" fill="#959595" stroke="#3a3a3a" stroke-width="0.75"/><circle cx="304.2" cy="219.7" r="1.3" fill="#959595" stroke="#3a3a3a" stroke-width="0.75"/><circle cx="310.6" cy="232.7" r="1.3" fill="#959595" stroke="#3a3a3a" stroke-width="0.75"/><circle cx="330.8" cy="230.8" r="1.3" fill="#959595" stroke="#3a3a3a" stroke-width="0.75"/><circle cx="294.5" cy="244.0" r="1.3" fill="#959595" stroke="#3a3a3a" stroke-width="0.75"/><circle cx="303.3" cy="249.8" r="1.3" fill="#959595" stroke="#3a3a3a" stroke-width="0.75"/><circle cx="287.8" cy="258.5" r="1.3" fill="#959595" stroke="#3a3a3a" stroke-width="0.75"/><circle cx="296.1" cy="263.4" r="1.3" fill="#959595" stroke="#3a3a3a" stroke-width="0.75"/><circle cx="277.9" cy="265.3" r="1.3" fill="#959595" stroke="#3a3a3a" stroke-width="0.75"/><circle cx="274.4" cy="275.0" r="1.3" fill="#959595" stroke="#3a3a3a" stroke-width="0.75"/><circle cx="272.4" cy="275.6" r="1.3" fill="#959595" stroke="#3a3a3a" stroke-width="0.75"/><circle cx="267.0" cy="279.5" r="1.3" fill="#959595" stroke="#3a3a3a" stroke-width="0.75"/><circle cx="264.7" cy="280.9" r="1.3" fill="#959595" stroke="#3a3a3a" stroke-width="0.75"/><circle cx="274.0" cy="282.8" r="1.3" fill="#959595" stroke="#3a3a3a" stroke-width="0.75"/><circle cx="286.4" cy="284.7" r="1.3" fill="#959595" stroke="#3a3a3a" stroke-width="0.75"/><circle cx="273.4" cy="289.6" r="1.3" fill="#959595" stroke="#3a3a3a" stroke-width="0.75"/><circle cx="256.0" cy="297.3" r="1.3" fill="#959595" stroke="#3a3a3a" stroke-width="0.75"/><circle cx="170.1" cy="201.6" r="1.3" fill="#959595" stroke="#3a3a3a" stroke-width="0.75"/><circle cx="172.7" cy="180.2" r="1.3" fill="#959595" stroke="#3a3a3a" stroke-width="0.75"/><circle cx="178.7" cy="176.4" r="1.3" fill="#959595" stroke="#3a3a3a" stroke-width="0.75"/><circle cx="323.6" cy="112.1" r="1.3" fill="#959595" stroke="#3a3a3a" stroke-width="0.75"/><circle cx="308.2" cy="120.0" r="1.3" fill="#959595" stroke="#3a3a3a" stroke-width="0.75"/><circle cx="310.7" cy="124.2" r="1.3" fill="#959595" stroke="#3a3a3a" stroke-width="0.75"/><circle cx="306.7" cy="164.8" r="1.3" fill="#959595" stroke="#3a3a3a" stroke-width="0.75"/><circle cx="314.5" cy="165.4" r="1.3" fill="#959595" stroke="#3a3a3a" stroke-width="0.75"/><circle cx="321.5" cy="161.8" r="1.3" fill="#959595" stroke="#3a3a3a" stroke-width="0.75"/><circle cx="304.2" cy="175.7" r="1.3" fill="#959595" stroke="#3a3a3a" stroke-width="0.75"/><circle cx="317.0" cy="172.0" r="1.3" fill="#959595" stroke="#3a3a3a" stroke-width="0.75"/><circle cx="282.7" cy="117.0" r="1.3" fill="#959595" stroke="#3a3a3a" stroke-width="0.75"/><circle cx="285.7" cy="128.5" r="1.3" fill="#959595" stroke="#3a3a3a" stroke-width="0.75"/><circle cx="299.0" cy="130.9" r="1.3" fill="#959595" stroke="#3a3a3a" stroke-width="0.75"/><circle cx="296.0" cy="146.0" r="1.3" fill="#959595" stroke="#3a3a3a" stroke-width="0.75"/><circle cx="361.2" cy="170.6" r="1.3" fill="#959595" stroke="#3a3a3a" stroke-width="0.75"/><circle cx="168.4" cy="128.8" r="1.3" fill="#959595" stroke="#3a3a3a" stroke-width="0.75"/><circle cx="168.4" cy="128.8" r="4.6" fill="none" stroke="#2ca02c" stroke-width="1.1"/><circle cx="180.5" cy="126.6" r="1.3" fill="#959595" stroke="#3a3a3a" stroke-width="0.75"/><circle cx="180.5" cy="126.6" r="4.6" fill="none" stroke="#2ca02c" stroke-width="1.1"/><circle cx="212.7" cy="109.0" r="1.3" fill="#959595" stroke="#3a3a3a" stroke-width="0.75"/><circle cx="212.7" cy="109" r="4.6" fill="none" stroke="#2ca02c" stroke-width="1.1"/><circle cx="221.9" cy="115.8" r="1.3" fill="#959595" stroke="#3a3a3a" stroke-width="0.75"/><circle cx="221.9" cy="115.8" r="4.6" fill="none" stroke="#2ca02c" stroke-width="1.1"/><circle cx="209.5" cy="119.7" r="1.3" fill="#959595" stroke="#3a3a3a" stroke-width="0.75"/><circle cx="209.5" cy="119.7" r="4.6" fill="none" stroke="#2ca02c" stroke-width="1.1"/><circle cx="187.5" cy="139.7" r="1.3" fill="#959595" stroke="#3a3a3a" stroke-width="0.75"/><circle cx="187.5" cy="139.7" r="4.6" fill="none" stroke="#2ca02c" stroke-width="1.1"/><circle cx="177.4" cy="146.2" r="1.3" fill="#959595" stroke="#3a3a3a" stroke-width="0.75"/><circle cx="177.4" cy="146.2" r="4.6" fill="none" stroke="#2ca02c" stroke-width="1.1"/><circle cx="181.7" cy="153.5" r="1.3" fill="#959595" stroke="#3a3a3a" stroke-width="0.75"/><circle cx="181.7" cy="153.5" r="4.6" fill="none" stroke="#2ca02c" stroke-width="1.1"/><circle cx="196.3" cy="146.3" r="1.3" fill="#959595" stroke="#3a3a3a" stroke-width="0.75"/><circle cx="196.3" cy="146.3" r="4.6" fill="none" stroke="#2ca02c" stroke-width="1.1"/><circle cx="202.1" cy="153.5" r="1.3" fill="#959595" stroke="#3a3a3a" stroke-width="0.75"/><circle cx="202.1" cy="153.5" r="4.6" fill="none" stroke="#2ca02c" stroke-width="1.1"/><circle cx="209.3" cy="145.5" r="1.3" fill="#959595" stroke="#3a3a3a" stroke-width="0.75"/><circle cx="209.3" cy="145.5" r="4.6" fill="none" stroke="#2ca02c" stroke-width="1.1"/><circle cx="220.0" cy="136.2" r="1.3" fill="#959595" stroke="#3a3a3a" stroke-width="0.75"/><circle cx="220.0" cy="136.2" r="4.6" fill="none" stroke="#2ca02c" stroke-width="1.1"/><circle cx="188.0" cy="162.3" r="1.3" fill="#959595" stroke="#3a3a3a" stroke-width="0.75"/><circle cx="188" cy="162.3" r="4.6" fill="none" stroke="#2ca02c" stroke-width="1.1"/><circle cx="201.4" cy="168.1" r="1.3" fill="#959595" stroke="#3a3a3a" stroke-width="0.75"/><circle cx="201.4" cy="168.1" r="4.6" fill="none" stroke="#2ca02c" stroke-width="1.1"/><circle cx="166.1" cy="164.4" r="1.3" fill="#959595" stroke="#3a3a3a" stroke-width="0.75"/><circle cx="166.1" cy="164.4" r="4.6" fill="none" stroke="#2ca02c" stroke-width="1.1"/><circle cx="186.9" cy="187.7" r="1.3" fill="#959595" stroke="#3a3a3a" stroke-width="0.75"/><circle cx="186.9" cy="187.7" r="4.6" fill="none" stroke="#2ca02c" stroke-width="1.1"/><circle cx="187.9" cy="190.6" r="1.3" fill="#959595" stroke="#3a3a3a" stroke-width="0.75"/><circle cx="187.9" cy="190.6" r="4.6" fill="none" stroke="#2ca02c" stroke-width="1.1"/><circle cx="173.4" cy="193.5" r="1.3" fill="#959595" stroke="#3a3a3a" stroke-width="0.75"/><circle cx="173.4" cy="193.5" r="4.6" fill="none" stroke="#2ca02c" stroke-width="1.1"/><circle cx="210.9" cy="200.1" r="1.3" fill="#959595" stroke="#3a3a3a" stroke-width="0.75"/><circle cx="210.9" cy="200.1" r="4.6" fill="none" stroke="#2ca02c" stroke-width="1.1"/><circle cx="225.2" cy="147.9" r="1.3" fill="#959595" stroke="#3a3a3a" stroke-width="0.75"/><circle cx="225.2" cy="147.9" r="4.6" fill="none" stroke="#2ca02c" stroke-width="1.1"/><circle cx="271.0" cy="112.3" r="1.3" fill="#959595" stroke="#3a3a3a" stroke-width="0.75"/><circle cx="271" cy="112.3" r="4.6" fill="none" stroke="#2ca02c" stroke-width="1.1"/><circle cx="261.8" cy="121.7" r="1.3" fill="#959595" stroke="#3a3a3a" stroke-width="0.75"/><circle cx="261.8" cy="121.7" r="4.6" fill="none" stroke="#2ca02c" stroke-width="1.1"/><circle cx="235.1" cy="127.5" r="1.3" fill="#959595" stroke="#3a3a3a" stroke-width="0.75"/><circle cx="235.1" cy="127.5" r="4.6" fill="none" stroke="#2ca02c" stroke-width="1.1"/><circle cx="229.5" cy="139.9" r="1.3" fill="#959595" stroke="#3a3a3a" stroke-width="0.75"/><circle cx="229.5" cy="139.9" r="4.6" fill="none" stroke="#2ca02c" stroke-width="1.1"/><circle cx="247.7" cy="139.9" r="1.3" fill="#959595" stroke="#3a3a3a" stroke-width="0.75"/><circle cx="247.7" cy="139.9" r="4.6" fill="none" stroke="#2ca02c" stroke-width="1.1"/><circle cx="242.6" cy="147.9" r="1.3" fill="#959595" stroke="#3a3a3a" stroke-width="0.75"/><circle cx="242.6" cy="147.9" r="4.6" fill="none" stroke="#2ca02c" stroke-width="1.1"/><circle cx="245.5" cy="144.2" r="1.3" fill="#959595" stroke="#3a3a3a" stroke-width="0.75"/><circle cx="245.5" cy="144.2" r="4.6" fill="none" stroke="#2ca02c" stroke-width="1.1"/><circle cx="229.5" cy="158.0" r="1.3" fill="#959595" stroke="#3a3a3a" stroke-width="0.75"/><circle cx="229.5" cy="158" r="4.6" fill="none" stroke="#2ca02c" stroke-width="1.1"/><circle cx="239.7" cy="158.0" r="1.3" fill="#959595" stroke="#3a3a3a" stroke-width="0.75"/><circle cx="239.7" cy="158" r="4.6" fill="none" stroke="#2ca02c" stroke-width="1.1"/><circle cx="147.2" cy="160.0" r="1.3" fill="#959595" stroke="#3a3a3a" stroke-width="0.75"/><circle cx="147.2" cy="160" r="4.6" fill="none" stroke="#2ca02c" stroke-width="1.1"/><circle cx="291.3" cy="197.5" r="1.3" fill="#959595" stroke="#3a3a3a" stroke-width="0.75"/><circle cx="291.3" cy="197.5" r="4.6" fill="none" stroke="#2ca02c" stroke-width="1.1"/><rect x="238.29999999999998" y="273.4" width="8.6" height="8.6" fill="#2f4fa8" stroke="#111" stroke-width="0.8"/><rect x="197.7" y="287.2" width="8.6" height="8.6" fill="#2f4fa8" stroke="#111" stroke-width="0.8"/><rect x="202.2" y="287.2" width="8.6" height="8.6" fill="#2f4fa8" stroke="#111" stroke-width="0.8"/><circle cx="327.1" cy="21.9" r="3.5" fill="#ee1111" stroke="#000" stroke-width="0.9"/><circle cx="316.1" cy="47.3" r="3.5" fill="#ee1111" stroke="#000" stroke-width="0.9"/><circle cx="307.5" cy="52.9" r="4.6" fill="none" stroke="#2ca02c" stroke-width="1.1"/><circle cx="307.5" cy="52.9" r="3.5" fill="#ee1111" stroke="#000" stroke-width="0.9"/><circle cx="289.4" cy="57.3" r="4.6" fill="none" stroke="#2ca02c" stroke-width="1.1"/><circle cx="289.4" cy="57.3" r="3.5" fill="#ee1111" stroke="#000" stroke-width="0.9"/><circle cx="328.6" cy="60.5" r="4.6" fill="none" stroke="#2ca02c" stroke-width="1.1"/><circle cx="328.6" cy="60.5" r="3.5" fill="#ee1111" stroke="#000" stroke-width="0.9"/><circle cx="340.2" cy="59" r="4.6" fill="none" stroke="#2ca02c" stroke-width="1.1"/><circle cx="340.2" cy="59" r="3.5" fill="#ee1111" stroke="#000" stroke-width="0.9"/><circle cx="295.9" cy="70.8" r="4.6" fill="none" stroke="#2ca02c" stroke-width="1.1"/><circle cx="295.9" cy="70.8" r="3.5" fill="#ee1111" stroke="#000" stroke-width="0.9"/><circle cx="307.5" cy="76.9" r="4.6" fill="none" stroke="#2ca02c" stroke-width="1.1"/><circle cx="307.5" cy="76.9" r="3.5" fill="#ee1111" stroke="#000" stroke-width="0.9"/><circle cx="302.4" cy="75.4" r="4.6" fill="none" stroke="#2ca02c" stroke-width="1.1"/><circle cx="302.4" cy="75.4" r="3.5" fill="#ee1111" stroke="#000" stroke-width="0.9"/><circle cx="311.2" cy="72.5" r="4.6" fill="none" stroke="#2ca02c" stroke-width="1.1"/><circle cx="311.2" cy="72.5" r="3.5" fill="#ee1111" stroke="#000" stroke-width="0.9"/><circle cx="322.5" cy="68.6" r="3.5" fill="#ee1111" stroke="#000" stroke-width="0.9"/><circle cx="329" cy="71.1" r="3.5" fill="#ee1111" stroke="#000" stroke-width="0.9"/><circle cx="338.5" cy="70.3" r="3.5" fill="#ee1111" stroke="#000" stroke-width="0.9"/><circle cx="294.4" cy="84.2" r="4.6" fill="none" stroke="#2ca02c" stroke-width="1.1"/><circle cx="294.4" cy="84.2" r="3.5" fill="#ee1111" stroke="#000" stroke-width="0.9"/><circle cx="318.1" cy="84.4" r="4.6" fill="none" stroke="#2ca02c" stroke-width="1.1"/><circle cx="318.1" cy="84.4" r="3.5" fill="#ee1111" stroke="#000" stroke-width="0.9"/><circle cx="319.2" cy="89" r="4.6" fill="none" stroke="#2ca02c" stroke-width="1.1"/><circle cx="319.2" cy="89" r="3.5" fill="#ee1111" stroke="#000" stroke-width="0.9"/><circle cx="327.5" cy="96.2" r="3.5" fill="#ee1111" stroke="#000" stroke-width="0.9"/><circle cx="331.6" cy="104.9" r="3.5" fill="#ee1111" stroke="#000" stroke-width="0.9"/><circle cx="324.8" cy="126" r="4.6" fill="none" stroke="#2ca02c" stroke-width="1.1"/><circle cx="324.8" cy="126" r="3.5" fill="#ee1111" stroke="#000" stroke-width="0.9"/><circle cx="330.5" cy="174.1" r="3.5" fill="#ee1111" stroke="#000" stroke-width="0.9"/><circle cx="332.5" cy="199.1" r="3.5" fill="#ee1111" stroke="#000" stroke-width="0.9"/><polygon points="336.3,143.9 340.7,147.1 339.0,152.2 333.6,152.2 331.9,147.1" fill="#f0a030" stroke="#000" stroke-width="0.9"/><polygon points="331.5,151.1 335.9,154.3 334.2,159.4 328.8,159.4 327.1,154.3" fill="#f0a030" stroke="#000" stroke-width="0.9"/><polygon points="339.3,154.8 343.7,158.0 342.0,163.1 336.6,163.1 334.9,158.0" fill="#f0a030" stroke="#000" stroke-width="0.9"/><polygon points="333.9,159.0 338.3,162.2 336.6,167.3 331.2,167.3 329.5,162.2" fill="#f0a030" stroke="#000" stroke-width="0.9"/><polygon points="325.4,163.9 329.8,167.1 328.1,172.2 322.7,172.2 321.0,167.1" fill="#f0a030" stroke="#000" stroke-width="0.9"/><polygon points="304.3,164.6 308.7,167.8 307.0,172.9 301.6,172.9 299.9,167.8" fill="#f0a030" stroke="#000" stroke-width="0.9"/><circle cx="338.1" cy="142.4" r="3.5" fill="#ee1111" stroke="#000" stroke-width="0.9"/><circle cx="235.1" cy="85.7" r="5.2" fill="none" stroke="#2ca02c" stroke-width="1.1"/><polygon points="235.1,80.7 240.1,85.7 235.1,90.7 230.1,85.7" fill="#7b4fb8" stroke="#000" stroke-width="0.9"/><circle cx="241.8" cy="94.5" r="5.2" fill="none" stroke="#2ca02c" stroke-width="1.1"/><polygon points="241.8,89.5 246.8,94.5 241.8,99.5 236.8,94.5" fill="#7b4fb8" stroke="#000" stroke-width="0.9"/><polygon points="272.8,97.6 277.8,102.6 272.8,107.6 267.8,102.6" fill="#7b4fb8" stroke="#000" stroke-width="0.9"/><polygon points="303.0,104.1 308.0,109.1 303.0,114.1 298.0,109.1" fill="#7b4fb8" stroke="#000" stroke-width="0.9"/><polygon points="311.1,108.3 316.1,113.3 311.1,118.3 306.1,113.3" fill="#7b4fb8" stroke="#000" stroke-width="0.9"/><polygon points="273.2,134.2 278.2,139.2 273.2,144.2 268.2,139.2" fill="#7b4fb8" stroke="#000" stroke-width="0.9"/><polygon points="293.1,135.7 298.1,140.7 293.1,145.7 288.1,140.7" fill="#7b4fb8" stroke="#000" stroke-width="0.9"/><polygon points="304.1,129.4 309.1,134.4 304.1,139.4 299.1,134.4" fill="#7b4fb8" stroke="#000" stroke-width="0.9"/><polygon points="312.2,138.3 317.2,143.3 312.2,148.3 307.2,143.3" fill="#7b4fb8" stroke="#000" stroke-width="0.9"/><polygon points="320.6,142.0 325.6,147.0 320.6,152.0 315.6,147.0" fill="#7b4fb8" stroke="#000" stroke-width="0.9"/><polygon points="328.5,153.2 333.5,158.2 328.5,163.2 323.5,158.2" fill="#7b4fb8" stroke="#000" stroke-width="0.9"/><polygon points="310.9,167.1 315.9,172.1 310.9,177.1 305.9,172.1" fill="#7b4fb8" stroke="#000" stroke-width="0.9"/></g><g clip-path="url(#c)"><line x1="133.15" y1="11.00" x2="133.15" y2="428.96" stroke="#bdbdbd" stroke-width="0.7" stroke-dasharray="0.9 0.8"/><line x1="200.70" y1="11.00" x2="200.70" y2="428.96" stroke="#bdbdbd" stroke-width="0.7" stroke-dasharray="0.9 0.8"/><line x1="268.25" y1="11.00" x2="268.25" y2="428.96" stroke="#bdbdbd" stroke-width="0.7" stroke-dasharray="0.9 0.8"/><line x1="335.80" y1="11.00" x2="335.80" y2="428.96" stroke="#bdbdbd" stroke-width="0.7" stroke-dasharray="0.9 0.8"/><line x1="65.60" y1="80.66" x2="403.35" y2="80.66" stroke="#bdbdbd" stroke-width="0.7" stroke-dasharray="0.9 0.8"/><line x1="65.60" y1="150.32" x2="403.35" y2="150.32" stroke="#bdbdbd" stroke-width="0.7" stroke-dasharray="0.9 0.8"/><line x1="65.60" y1="219.98" x2="403.35" y2="219.98" stroke="#bdbdbd" stroke-width="0.7" stroke-dasharray="0.9 0.8"/><line x1="65.60" y1="289.64" x2="403.35" y2="289.64" stroke="#bdbdbd" stroke-width="0.7" stroke-dasharray="0.9 0.8"/><line x1="65.60" y1="359.30" x2="403.35" y2="359.30" stroke="#bdbdbd" stroke-width="0.7" stroke-dasharray="0.9 0.8"/><line x1="31.82" y1="168.09" x2="437.12" y2="377.07" stroke="#1f77b4" stroke-width="0.8" stroke-dasharray="1.6 0.7" opacity="0.85"/><line x1="31.82" y1="98.43" x2="437.12" y2="307.41" stroke="#1f77b4" stroke-width="0.8" stroke-dasharray="1.6 0.7" opacity="0.85"/><line x1="31.82" y1="28.77" x2="437.12" y2="237.75" stroke="#1f77b4" stroke-width="0.8" stroke-dasharray="1.6 0.7" opacity="0.85"/><line x1="31.82" y1="-40.89" x2="437.12" y2="168.09" stroke="#1f77b4" stroke-width="0.8" stroke-dasharray="1.6 0.7" opacity="0.85"/><line x1="31.82" y1="-110.55" x2="437.12" y2="98.43" stroke="#1f77b4" stroke-width="0.8" stroke-dasharray="1.6 0.7" opacity="0.85"/><line x1="31.82" y1="-16.15" x2="437.12" y2="192.83" stroke="#2a7fc0" stroke-width="1.2" opacity="0.95"/><line x1="31.82" y1="160.77" x2="437.12" y2="-48.21" stroke="#ff7f0e" stroke-width="0.8" stroke-dasharray="1.0 0.6" opacity="0.75"/><line x1="31.82" y1="230.43" x2="437.12" y2="21.45" stroke="#ff7f0e" stroke-width="0.8" stroke-dasharray="1.0 0.6" opacity="0.75"/><line x1="31.82" y1="300.09" x2="437.12" y2="91.11" stroke="#ff7f0e" stroke-width="0.8" stroke-dasharray="1.0 0.6" opacity="0.75"/><line x1="31.82" y1="369.75" x2="437.12" y2="160.77" stroke="#ff7f0e" stroke-width="0.8" stroke-dasharray="1.0 0.6" opacity="0.75"/><line x1="31.82" y1="606.45" x2="437.12" y2="-20.49" stroke="#9467bd" stroke-width="0.85" stroke-dasharray="1.1 0.75" opacity="0.95"/><line x1="31.82" y1="536.79" x2="437.12" y2="-90.15" stroke="#9467bd" stroke-width="0.85" stroke-dasharray="1.1 0.75" opacity="0.95"/><line x1="31.82" y1="467.13" x2="437.12" y2="-159.81" stroke="#9467bd" stroke-width="0.85" stroke-dasharray="1.1 0.75" opacity="0.95"/><line x1="31.82" y1="397.47" x2="437.12" y2="-229.47" stroke="#9467bd" stroke-width="0.85" stroke-dasharray="1.1 0.75" opacity="0.95"/><line x1="31.82" y1="517.08" x2="437.12" y2="99.12" stroke="#ffa020" stroke-width="1.25" opacity="1"/></g><g clip-path="url(#c)"><rect x="101.8" y="377.6" width="7.0" height="7.0" fill="#fff" stroke="#3a86d0" stroke-width="0.95"/><rect x="95.4" y="386.1" width="7.0" height="7.0" fill="#fff" stroke="#3a86d0" stroke-width="0.95"/><rect x="98.6" y="396.0" width="7.0" height="7.0" fill="#fff" stroke="#3a86d0" stroke-width="0.95"/><rect x="106.7" y="360.6" width="7.0" height="7.0" fill="#fff" stroke="#3a86d0" stroke-width="0.95"/><rect x="97.0" y="409.4" width="7.0" height="7.0" fill="#fff" stroke="#3a86d0" stroke-width="0.95"/><rect x="114.5" y="405.7" width="7.0" height="7.0" fill="#fff" stroke="#3a86d0" stroke-width="0.95"/><rect x="101.8" y="382.7" width="7.0" height="7.0" fill="#fff" stroke="#3a86d0" stroke-width="0.95"/><rect x="89.9" y="392.3" width="7.0" height="7.0" fill="#fff" stroke="#3a86d0" stroke-width="0.95"/><rect x="114.2" y="401.7" width="7.0" height="7.0" fill="#fff" stroke="#3a86d0" stroke-width="0.95"/><rect x="95.8" y="372.1" width="7.0" height="7.0" fill="#fff" stroke="#3a86d0" stroke-width="0.95"/><rect x="95.2" y="400.0" width="7.0" height="7.0" fill="#fff" stroke="#3a86d0" stroke-width="0.95"/><rect x="105.7" y="369.2" width="7.0" height="7.0" fill="#fff" stroke="#3a86d0" stroke-width="0.95"/><rect x="133.8" y="381.4" width="7.0" height="7.0" fill="#fff" stroke="#3a86d0" stroke-width="0.95"/><rect x="95.1" y="393.2" width="7.0" height="7.0" fill="#fff" stroke="#3a86d0" stroke-width="0.95"/><rect x="90.9" y="410.8" width="7.0" height="7.0" fill="#fff" stroke="#3a86d0" stroke-width="0.95"/><rect x="107.6" y="384.3" width="7.0" height="7.0" fill="#fff" stroke="#3a86d0" stroke-width="0.95"/><rect x="109.1" y="367.7" width="7.0" height="7.0" fill="#fff" stroke="#3a86d0" stroke-width="0.95"/><rect x="104.0" y="358.6" width="7.0" height="7.0" fill="#fff" stroke="#3a86d0" stroke-width="0.95"/><rect x="106.4" y="394.5" width="7.0" height="7.0" fill="#fff" stroke="#3a86d0" stroke-width="0.95"/><rect x="90.5" y="362.1" width="7.0" height="7.0" fill="#fff" stroke="#3a86d0" stroke-width="0.95"/><rect x="85.4" y="405.2" width="7.0" height="7.0" fill="#fff" stroke="#3a86d0" stroke-width="0.95"/><rect x="93.6" y="377.0" width="7.0" height="7.0" fill="#fff" stroke="#3a86d0" stroke-width="0.95"/><rect x="97.4" y="416.3" width="7.0" height="7.0" fill="#fff" stroke="#3a86d0" stroke-width="0.95"/><rect x="87.3" y="398.5" width="7.0" height="7.0" fill="#fff" stroke="#3a86d0" stroke-width="0.95"/><rect x="100.8" y="390.9" width="7.0" height="7.0" fill="#fff" stroke="#3a86d0" stroke-width="0.95"/><rect x="136.4" y="375.0" width="7.0" height="7.0" fill="#fff" stroke="#3a86d0" stroke-width="0.95"/><rect x="88.7" y="395.1" width="7.0" height="7.0" fill="#fff" stroke="#3a86d0" stroke-width="0.95"/><rect x="93.7" y="376.9" width="7.0" height="7.0" fill="#fff" stroke="#3a86d0" stroke-width="0.95"/><rect x="116.4" y="388.8" width="7.0" height="7.0" fill="#fff" stroke="#3a86d0" stroke-width="0.95"/><rect x="127.6" y="364.3" width="7.0" height="7.0" fill="#fff" stroke="#3a86d0" stroke-width="0.95"/><rect x="100.5" y="402.5" width="7.0" height="7.0" fill="#fff" stroke="#3a86d0" stroke-width="0.95"/><rect x="101.7" y="396.5" width="7.0" height="7.0" fill="#fff" stroke="#3a86d0" stroke-width="0.95"/><rect x="88.8" y="408.2" width="7.0" height="7.0" fill="#fff" stroke="#3a86d0" stroke-width="0.95"/><rect x="90.8" y="389.1" width="7.0" height="7.0" fill="#fff" stroke="#3a86d0" stroke-width="0.95"/><rect x="95.4" y="387.6" width="7.0" height="7.0" fill="#fff" stroke="#3a86d0" stroke-width="0.95"/><rect x="108.5" y="399.1" width="7.0" height="7.0" fill="#fff" stroke="#3a86d0" stroke-width="0.95"/><rect x="97.2" y="387.3" width="7.0" height="7.0" fill="#fff" stroke="#3a86d0" stroke-width="0.95"/><rect x="108.8" y="363.0" width="7.0" height="7.0" fill="#fff" stroke="#3a86d0" stroke-width="0.95"/><rect x="104.0" y="399.8" width="7.0" height="7.0" fill="#fff" stroke="#3a86d0" stroke-width="0.95"/><rect x="100.6" y="381.7" width="7.0" height="7.0" fill="#fff" stroke="#3a86d0" stroke-width="0.95"/><rect x="88.2" y="378.6" width="7.0" height="7.0" fill="#fff" stroke="#3a86d0" stroke-width="0.95"/><rect x="135.3" y="373.6" width="7.0" height="7.0" fill="#fff" stroke="#3a86d0" stroke-width="0.95"/><rect x="125.0" y="394.9" width="7.0" height="7.0" fill="#fff" stroke="#3a86d0" stroke-width="0.95"/><rect x="107.5" y="378.1" width="7.0" height="7.0" fill="#fff" stroke="#3a86d0" stroke-width="0.95"/><rect x="99.8" y="368.3" width="7.0" height="7.0" fill="#fff" stroke="#3a86d0" stroke-width="0.95"/><rect x="102.4" y="377.8" width="7.0" height="7.0" fill="#fff" stroke="#3a86d0" stroke-width="0.95"/><rect x="89.8" y="367.7" width="7.0" height="7.0" fill="#fff" stroke="#3a86d0" stroke-width="0.95"/><rect x="111.1" y="385.6" width="7.0" height="7.0" fill="#fff" stroke="#3a86d0" stroke-width="0.95"/><rect x="106.4" y="385.5" width="7.0" height="7.0" fill="#fff" stroke="#3a86d0" stroke-width="0.95"/><rect x="115.2" y="393.8" width="7.0" height="7.0" fill="#fff" stroke="#3a86d0" stroke-width="0.95"/><rect x="104.0" y="366.3" width="7.0" height="7.0" fill="#fff" stroke="#3a86d0" stroke-width="0.95"/><rect x="85.0" y="397.7" width="7.0" height="7.0" fill="#fff" stroke="#3a86d0" stroke-width="0.95"/><rect x="93.5" y="414.7" width="7.0" height="7.0" fill="#fff" stroke="#3a86d0" stroke-width="0.95"/><rect x="100.3" y="374.1" width="7.0" height="7.0" fill="#fff" stroke="#3a86d0" stroke-width="0.95"/><rect x="116.0" y="368.4" width="7.0" height="7.0" fill="#fff" stroke="#3a86d0" stroke-width="0.95"/><rect x="95.0" y="395.1" width="7.0" height="7.0" fill="#fff" stroke="#3a86d0" stroke-width="0.95"/><rect x="86.1" y="397.9" width="7.0" height="7.0" fill="#fff" stroke="#3a86d0" stroke-width="0.95"/><rect x="96.5" y="403.5" width="7.0" height="7.0" fill="#fff" stroke="#3a86d0" stroke-width="0.95"/><rect x="97.6" y="370.3" width="7.0" height="7.0" fill="#fff" stroke="#3a86d0" stroke-width="0.95"/><rect x="99.1" y="393.2" width="7.0" height="7.0" fill="#fff" stroke="#3a86d0" stroke-width="0.95"/><rect x="88.0" y="386.1" width="7.0" height="7.0" fill="#fff" stroke="#3a86d0" stroke-width="0.95"/><rect x="122.5" y="361.7" width="7.0" height="7.0" fill="#fff" stroke="#3a86d0" stroke-width="0.95"/><rect x="84.7" y="390.8" width="7.0" height="7.0" fill="#fff" stroke="#3a86d0" stroke-width="0.95"/><rect x="97.5" y="386.8" width="7.0" height="7.0" fill="#fff" stroke="#3a86d0" stroke-width="0.95"/><rect x="111.7" y="403.3" width="7.0" height="7.0" fill="#fff" stroke="#3a86d0" stroke-width="0.95"/><rect x="91.5" y="404.3" width="7.0" height="7.0" fill="#fff" stroke="#3a86d0" stroke-width="0.95"/><rect x="100.6" y="388.8" width="7.0" height="7.0" fill="#fff" stroke="#3a86d0" stroke-width="0.95"/><rect x="98.5" y="386.8" width="7.0" height="7.0" fill="#fff" stroke="#3a86d0" stroke-width="0.95"/><rect x="119.0" y="372.3" width="7.0" height="7.0" fill="#fff" stroke="#3a86d0" stroke-width="0.95"/><rect x="93.1" y="416.5" width="7.0" height="7.0" fill="#fff" stroke="#3a86d0" stroke-width="0.95"/><rect x="87.7" y="410.5" width="7.0" height="7.0" fill="#fff" stroke="#3a86d0" stroke-width="0.95"/><rect x="89.2" y="383.8" width="7.0" height="7.0" fill="#fff" stroke="#3a86d0" stroke-width="0.95"/><rect x="92.5" y="397.2" width="7.0" height="7.0" fill="#fff" stroke="#3a86d0" stroke-width="0.95"/><rect x="98.8" y="376.6" width="7.0" height="7.0" fill="#fff" stroke="#3a86d0" stroke-width="0.95"/><rect x="90.7" y="386.9" width="7.0" height="7.0" fill="#fff" stroke="#3a86d0" stroke-width="0.95"/><rect x="83.6" y="385.0" width="7.0" height="7.0" fill="#fff" stroke="#3a86d0" stroke-width="0.95"/><rect x="104.5" y="412.8" width="7.0" height="7.0" fill="#fff" stroke="#3a86d0" stroke-width="0.95"/><rect x="94.4" y="393.3" width="7.0" height="7.0" fill="#fff" stroke="#3a86d0" stroke-width="0.95"/><rect x="101.6" y="388.4" width="7.0" height="7.0" fill="#fff" stroke="#3a86d0" stroke-width="0.95"/><rect x="92.1" y="389.6" width="7.0" height="7.0" fill="#fff" stroke="#3a86d0" stroke-width="0.95"/><rect x="103.8" y="368.2" width="7.0" height="7.0" fill="#fff" stroke="#3a86d0" stroke-width="0.95"/><rect x="89.8" y="377.7" width="7.0" height="7.0" fill="#fff" stroke="#3a86d0" stroke-width="0.95"/><rect x="103.6" y="387.6" width="7.0" height="7.0" fill="#fff" stroke="#3a86d0" stroke-width="0.95"/><rect x="129.5" y="371.9" width="7.0" height="7.0" fill="#fff" stroke="#3a86d0" stroke-width="0.95"/><rect x="91.1" y="365.4" width="7.0" height="7.0" fill="#fff" stroke="#3a86d0" stroke-width="0.95"/><rect x="108.5" y="377.1" width="7.0" height="7.0" fill="#fff" stroke="#3a86d0" stroke-width="0.95"/><rect x="90.7" y="396.9" width="7.0" height="7.0" fill="#fff" stroke="#3a86d0" stroke-width="0.95"/><rect x="96.9" y="427.6" width="7.0" height="7.0" fill="#fff" stroke="#3a86d0" stroke-width="0.95"/><rect x="108.2" y="406.8" width="7.0" height="7.0" fill="#fff" stroke="#3a86d0" stroke-width="0.95"/><rect x="89.1" y="385.6" width="7.0" height="7.0" fill="#fff" stroke="#3a86d0" stroke-width="0.95"/><rect x="101.3" y="386.1" width="7.0" height="7.0" fill="#fff" stroke="#3a86d0" stroke-width="0.95"/><rect x="130.2" y="378.8" width="7.0" height="7.0" fill="#fff" stroke="#3a86d0" stroke-width="0.95"/><rect x="112.3" y="370.9" width="7.0" height="7.0" fill="#fff" stroke="#3a86d0" stroke-width="0.95"/><rect x="99.9" y="377.8" width="7.0" height="7.0" fill="#fff" stroke="#3a86d0" stroke-width="0.95"/><rect x="112.4" y="385.0" width="7.0" height="7.0" fill="#fff" stroke="#3a86d0" stroke-width="0.95"/><rect x="114.4" y="384.0" width="7.0" height="7.0" fill="#fff" stroke="#3a86d0" stroke-width="0.95"/><rect x="93.4" y="414.2" width="7.0" height="7.0" fill="#fff" stroke="#3a86d0" stroke-width="0.95"/><rect x="105.6" y="404.8" width="7.0" height="7.0" fill="#fff" stroke="#3a86d0" stroke-width="0.95"/><rect x="101.6" y="393.3" width="7.0" height="7.0" fill="#fff" stroke="#3a86d0" stroke-width="0.95"/><rect x="99.9" y="409.9" width="7.0" height="7.0" fill="#fff" stroke="#3a86d0" stroke-width="0.95"/><rect x="102.8" y="382.7" width="7.0" height="7.0" fill="#fff" stroke="#3a86d0" stroke-width="0.95"/><rect x="87.1" y="402.6" width="7.0" height="7.0" fill="#fff" stroke="#3a86d0" stroke-width="0.95"/><rect x="102.7" y="403.2" width="7.0" height="7.0" fill="#fff" stroke="#3a86d0" stroke-width="0.95"/><rect x="94.8" y="397.4" width="7.0" height="7.0" fill="#fff" stroke="#3a86d0" stroke-width="0.95"/><rect x="103.2" y="368.7" width="7.0" height="7.0" fill="#fff" stroke="#3a86d0" stroke-width="0.95"/><rect x="99.1" y="379.0" width="7.0" height="7.0" fill="#fff" stroke="#3a86d0" stroke-width="0.95"/><rect x="80.8" y="397.2" width="7.0" height="7.0" fill="#fff" stroke="#3a86d0" stroke-width="0.95"/><rect x="112.5" y="381.3" width="7.0" height="7.0" fill="#fff" stroke="#3a86d0" stroke-width="0.95"/><rect x="81.8" y="394.1" width="7.0" height="7.0" fill="#fff" stroke="#3a86d0" stroke-width="0.95"/><rect x="76.9" y="419.0" width="7.0" height="7.0" fill="#fff" stroke="#3a86d0" stroke-width="0.95"/><rect x="103.0" y="402.4" width="7.0" height="7.0" fill="#fff" stroke="#3a86d0" stroke-width="0.95"/><rect x="97.7" y="381.2" width="7.0" height="7.0" fill="#fff" stroke="#3a86d0" stroke-width="0.95"/><rect x="100.0" y="405.6" width="7.0" height="7.0" fill="#fff" stroke="#3a86d0" stroke-width="0.95"/><rect x="89.5" y="420.6" width="7.0" height="7.0" fill="#fff" stroke="#3a86d0" stroke-width="0.95"/><rect x="85.4" y="401.4" width="7.0" height="7.0" fill="#fff" stroke="#3a86d0" stroke-width="0.95"/><rect x="90.0" y="414.0" width="7.0" height="7.0" fill="#fff" stroke="#3a86d0" stroke-width="0.95"/><rect x="92.5" y="388.1" width="7.0" height="7.0" fill="#fff" stroke="#3a86d0" stroke-width="0.95"/><rect x="113.4" y="380.6" width="7.0" height="7.0" fill="#fff" stroke="#3a86d0" stroke-width="0.95"/><rect x="124.9" y="385.5" width="7.0" height="7.0" fill="#fff" stroke="#3a86d0" stroke-width="0.95"/><rect x="90.7" y="411.9" width="7.0" height="7.0" fill="#fff" stroke="#3a86d0" stroke-width="0.95"/><rect x="105.5" y="377.8" width="7.0" height="7.0" fill="#fff" stroke="#3a86d0" stroke-width="0.95"/><rect x="92.5" y="401.0" width="7.0" height="7.0" fill="#fff" stroke="#3a86d0" stroke-width="0.95"/><rect x="103.7" y="402.3" width="7.0" height="7.0" fill="#fff" stroke="#3a86d0" stroke-width="0.95"/><rect x="99.9" y="390.8" width="7.0" height="7.0" fill="#fff" stroke="#3a86d0" stroke-width="0.95"/><rect x="118.5" y="387.9" width="7.0" height="7.0" fill="#fff" stroke="#3a86d0" stroke-width="0.95"/><rect x="97.4" y="398.4" width="7.0" height="7.0" fill="#fff" stroke="#3a86d0" stroke-width="0.95"/><rect x="112.1" y="389.0" width="7.0" height="7.0" fill="#fff" stroke="#3a86d0" stroke-width="0.95"/><rect x="83.6" y="407.9" width="7.0" height="7.0" fill="#fff" stroke="#3a86d0" stroke-width="0.95"/><rect x="116.0" y="388.8" width="7.0" height="7.0" fill="#fff" stroke="#3a86d0" stroke-width="0.95"/><rect x="114.3" y="397.6" width="7.0" height="7.0" fill="#fff" stroke="#3a86d0" stroke-width="0.95"/><rect x="98.3" y="379.8" width="7.0" height="7.0" fill="#fff" stroke="#3a86d0" stroke-width="0.95"/><rect x="94.2" y="421.9" width="7.0" height="7.0" fill="#fff" stroke="#3a86d0" stroke-width="0.95"/><rect x="93.5" y="397.3" width="7.0" height="7.0" fill="#fff" stroke="#3a86d0" stroke-width="0.95"/><rect x="93.0" y="398.1" width="7.0" height="7.0" fill="#fff" stroke="#3a86d0" stroke-width="0.95"/><rect x="105.5" y="377.8" width="7.0" height="7.0" fill="#fff" stroke="#3a86d0" stroke-width="0.95"/><rect x="80.3" y="413.8" width="7.0" height="7.0" fill="#fff" stroke="#3a86d0" stroke-width="0.95"/><rect x="116.1" y="368.8" width="7.0" height="7.0" fill="#fff" stroke="#3a86d0" stroke-width="0.95"/><rect x="94.4" y="414.0" width="7.0" height="7.0" fill="#fff" stroke="#3a86d0" stroke-width="0.95"/><rect x="102.0" y="392.3" width="7.0" height="7.0" fill="#fff" stroke="#3a86d0" stroke-width="0.95"/><rect x="107.3" y="389.0" width="7.0" height="7.0" fill="#fff" stroke="#3a86d0" stroke-width="0.95"/><rect x="110.2" y="389.5" width="7.0" height="7.0" fill="#fff" stroke="#3a86d0" stroke-width="0.95"/><rect x="105.7" y="402.8" width="7.0" height="7.0" fill="#fff" stroke="#3a86d0" stroke-width="0.95"/><rect x="87.1" y="390.3" width="7.0" height="7.0" fill="#fff" stroke="#3a86d0" stroke-width="0.95"/><rect x="109.4" y="412.0" width="7.0" height="7.0" fill="#fff" stroke="#3a86d0" stroke-width="0.95"/><rect x="115.1" y="382.9" width="7.0" height="7.0" fill="#fff" stroke="#3a86d0" stroke-width="0.95"/><rect x="93.6" y="402.8" width="7.0" height="7.0" fill="#fff" stroke="#3a86d0" stroke-width="0.95"/><rect x="97.1" y="394.6" width="7.0" height="7.0" fill="#fff" stroke="#3a86d0" stroke-width="0.95"/><rect x="94.5" y="386.7" width="7.0" height="7.0" fill="#fff" stroke="#3a86d0" stroke-width="0.95"/><rect x="95.3" y="367.9" width="7.0" height="7.0" fill="#fff" stroke="#3a86d0" stroke-width="0.95"/><rect x="99.5" y="386.3" width="7.0" height="7.0" fill="#fff" stroke="#3a86d0" stroke-width="0.95"/><rect x="100.4" y="404.2" width="7.0" height="7.0" fill="#fff" stroke="#3a86d0" stroke-width="0.95"/><rect x="119.4" y="369.2" width="7.0" height="7.0" fill="#fff" stroke="#3a86d0" stroke-width="0.95"/><rect x="100.3" y="384.3" width="7.0" height="7.0" fill="#fff" stroke="#3a86d0" stroke-width="0.95"/><rect x="103.9" y="388.1" width="7.0" height="7.0" fill="#fff" stroke="#3a86d0" stroke-width="0.95"/><rect x="98.6" y="385.3" width="7.0" height="7.0" fill="#fff" stroke="#3a86d0" stroke-width="0.95"/><rect x="127.4" y="366.2" width="7.0" height="7.0" fill="#fff" stroke="#3a86d0" stroke-width="0.95"/><rect x="101.8" y="401.3" width="7.0" height="7.0" fill="#fff" stroke="#3a86d0" stroke-width="0.95"/><rect x="86.8" y="407.9" width="7.0" height="7.0" fill="#fff" stroke="#3a86d0" stroke-width="0.95"/><rect x="105.6" y="394.4" width="7.0" height="7.0" fill="#fff" stroke="#3a86d0" stroke-width="0.95"/><rect x="95.6" y="382.7" width="7.0" height="7.0" fill="#fff" stroke="#3a86d0" stroke-width="0.95"/><rect x="95.8" y="408.7" width="7.0" height="7.0" fill="#fff" stroke="#3a86d0" stroke-width="0.95"/><rect x="116.7" y="373.8" width="7.0" height="7.0" fill="#fff" stroke="#3a86d0" stroke-width="0.95"/><rect x="97.8" y="360.2" width="7.0" height="7.0" fill="#fff" stroke="#3a86d0" stroke-width="0.95"/><rect x="90.4" y="405.5" width="7.0" height="7.0" fill="#fff" stroke="#3a86d0" stroke-width="0.95"/><rect x="104.7" y="377.9" width="7.0" height="7.0" fill="#fff" stroke="#3a86d0" stroke-width="0.95"/><rect x="113.4" y="399.5" width="7.0" height="7.0" fill="#fff" stroke="#3a86d0" stroke-width="0.95"/><rect x="94.2" y="365.7" width="7.0" height="7.0" fill="#fff" stroke="#3a86d0" stroke-width="0.95"/><rect x="79.9" y="419.0" width="7.0" height="7.0" fill="#fff" stroke="#3a86d0" stroke-width="0.95"/><rect x="79.0" y="396.8" width="7.0" height="7.0" fill="#fff" stroke="#3a86d0" stroke-width="0.95"/><rect x="80.8" y="403.4" width="7.0" height="7.0" fill="#fff" stroke="#3a86d0" stroke-width="0.95"/><rect x="96.2" y="388.9" width="7.0" height="7.0" fill="#fff" stroke="#3a86d0" stroke-width="0.95"/><rect x="88.7" y="375.2" width="7.0" height="7.0" fill="#fff" stroke="#3a86d0" stroke-width="0.95"/><rect x="106.4" y="385.7" width="7.0" height="7.0" fill="#fff" stroke="#3a86d0" stroke-width="0.95"/><rect x="100.7" y="382.0" width="7.0" height="7.0" fill="#fff" stroke="#3a86d0" stroke-width="0.95"/><rect x="109.3" y="364.5" width="7.0" height="7.0" fill="#fff" stroke="#3a86d0" stroke-width="0.95"/><rect x="101.0" y="393.1" width="7.0" height="7.0" fill="#fff" stroke="#3a86d0" stroke-width="0.95"/><rect x="87.3" y="408.4" width="7.0" height="7.0" fill="#fff" stroke="#3a86d0" stroke-width="0.95"/><rect x="110.5" y="368.2" width="7.0" height="7.0" fill="#fff" stroke="#3a86d0" stroke-width="0.95"/><rect x="161.6" y="289.4" width="7.0" height="7.0" fill="#fff" stroke="#3a86d0" stroke-width="0.95"/><rect x="150.9" y="299.1" width="7.0" height="7.0" fill="#fff" stroke="#3a86d0" stroke-width="0.95"/><rect x="162.5" y="296.5" width="7.0" height="7.0" fill="#fff" stroke="#3a86d0" stroke-width="0.95"/><rect x="152.3" y="306.2" width="7.0" height="7.0" fill="#fff" stroke="#3a86d0" stroke-width="0.95"/><rect x="153.4" y="312.6" width="7.0" height="7.0" fill="#fff" stroke="#3a86d0" stroke-width="0.95"/><rect x="160.6" y="308.7" width="7.0" height="7.0" fill="#fff" stroke="#3a86d0" stroke-width="0.95"/><rect x="168.4" y="307.6" width="7.0" height="7.0" fill="#fff" stroke="#3a86d0" stroke-width="0.95"/><rect x="168.4" y="313.0" width="7.0" height="7.0" fill="#fff" stroke="#3a86d0" stroke-width="0.95"/><rect x="145.7" y="322.3" width="7.0" height="7.0" fill="#fff" stroke="#3a86d0" stroke-width="0.95"/><rect x="132.5" y="327.0" width="7.0" height="7.0" fill="#fff" stroke="#3a86d0" stroke-width="0.95"/><rect x="138.7" y="328.9" width="7.0" height="7.0" fill="#fff" stroke="#3a86d0" stroke-width="0.95"/><rect x="154.2" y="332.4" width="7.0" height="7.0" fill="#fff" stroke="#3a86d0" stroke-width="0.95"/><rect x="163.5" y="328.9" width="7.0" height="7.0" fill="#fff" stroke="#3a86d0" stroke-width="0.95"/><rect x="173.6" y="324.3" width="7.0" height="7.0" fill="#fff" stroke="#3a86d0" stroke-width="0.95"/><rect x="121.8" y="339.8" width="7.0" height="7.0" fill="#fff" stroke="#3a86d0" stroke-width="0.95"/><rect x="158.7" y="339.2" width="7.0" height="7.0" fill="#fff" stroke="#3a86d0" stroke-width="0.95"/><rect x="169.3" y="342.1" width="7.0" height="7.0" fill="#fff" stroke="#3a86d0" stroke-width="0.95"/><rect x="179.0" y="288.8" width="7.0" height="7.0" fill="#fff" stroke="#3a86d0" stroke-width="0.95"/><rect x="159.6" y="344.0" width="7.0" height="7.0" fill="#fff" stroke="#3a86d0" stroke-width="0.95"/><rect x="106.3" y="345.0" width="7.0" height="7.0" fill="#fff" stroke="#3a86d0" stroke-width="0.95"/><rect x="135.9" y="347.7" width="7.0" height="7.0" fill="#fff" stroke="#3a86d0" stroke-width="0.95"/><rect x="133.0" y="351.0" width="7.0" height="7.0" fill="#fff" stroke="#3a86d0" stroke-width="0.95"/><rect x="137.4" y="355.9" width="7.0" height="7.0" fill="#fff" stroke="#3a86d0" stroke-width="0.95"/><rect x="136.8" y="361.3" width="7.0" height="7.0" fill="#fff" stroke="#3a86d0" stroke-width="0.95"/><rect x="122.3" y="367.5" width="7.0" height="7.0" fill="#fff" stroke="#3a86d0" stroke-width="0.95"/><rect x="134.9" y="365.6" width="7.0" height="7.0" fill="#fff" stroke="#3a86d0" stroke-width="0.95"/><rect x="136.8" y="373.3" width="7.0" height="7.0" fill="#fff" stroke="#3a86d0" stroke-width="0.95"/><rect x="143.6" y="368.5" width="7.0" height="7.0" fill="#fff" stroke="#3a86d0" stroke-width="0.95"/><rect x="143.6" y="374.3" width="7.0" height="7.0" fill="#fff" stroke="#3a86d0" stroke-width="0.95"/><rect x="148.5" y="356.8" width="7.0" height="7.0" fill="#fff" stroke="#3a86d0" stroke-width="0.95"/><rect x="152.4" y="366.5" width="7.0" height="7.0" fill="#fff" stroke="#3a86d0" stroke-width="0.95"/><rect x="157.2" y="359.8" width="7.0" height="7.0" fill="#fff" stroke="#3a86d0" stroke-width="0.95"/><rect x="161.1" y="366.5" width="7.0" height="7.0" fill="#fff" stroke="#3a86d0" stroke-width="0.95"/><rect x="165.9" y="361.7" width="7.0" height="7.0" fill="#fff" stroke="#3a86d0" stroke-width="0.95"/><rect x="171.7" y="365.6" width="7.0" height="7.0" fill="#fff" stroke="#3a86d0" stroke-width="0.95"/><rect x="170.8" y="375.3" width="7.0" height="7.0" fill="#fff" stroke="#3a86d0" stroke-width="0.95"/><rect x="153.3" y="380.7" width="7.0" height="7.0" fill="#fff" stroke="#3a86d0" stroke-width="0.95"/><rect x="141.3" y="383.6" width="7.0" height="7.0" fill="#fff" stroke="#3a86d0" stroke-width="0.95"/><rect x="164.6" y="398.9" width="7.0" height="7.0" fill="#fff" stroke="#3a86d0" stroke-width="0.95"/><rect x="173.7" y="346.2" width="7.0" height="7.0" fill="#fff" stroke="#3a86d0" stroke-width="0.95"/><rect x="165.9" y="347.2" width="7.0" height="7.0" fill="#fff" stroke="#3a86d0" stroke-width="0.95"/><rect x="160.1" y="349.1" width="7.0" height="7.0" fill="#fff" stroke="#3a86d0" stroke-width="0.95"/><rect x="172.7" y="351.0" width="7.0" height="7.0" fill="#fff" stroke="#3a86d0" stroke-width="0.95"/><rect x="183.4" y="341.3" width="7.0" height="7.0" fill="#fff" stroke="#3a86d0" stroke-width="0.95"/><rect x="183.4" y="349.1" width="7.0" height="7.0" fill="#fff" stroke="#3a86d0" stroke-width="0.95"/><rect x="186.3" y="353.9" width="7.0" height="7.0" fill="#fff" stroke="#3a86d0" stroke-width="0.95"/><rect x="182.4" y="355.9" width="7.0" height="7.0" fill="#fff" stroke="#3a86d0" stroke-width="0.95"/><rect x="123.3" y="375.3" width="7.0" height="7.0" fill="#fff" stroke="#3a86d0" stroke-width="0.95"/><rect x="127.2" y="377.2" width="7.0" height="7.0" fill="#fff" stroke="#3a86d0" stroke-width="0.95"/><rect x="118.4" y="390.8" width="7.0" height="7.0" fill="#fff" stroke="#3a86d0" stroke-width="0.95"/><rect x="117.5" y="353.9" width="7.0" height="7.0" fill="#fff" stroke="#3a86d0" stroke-width="0.95"/><rect x="100.1" y="327.3" width="7.0" height="7.0" fill="#fff" stroke="#3a86d0" stroke-width="0.95"/><rect x="96.7" y="338.6" width="7.0" height="7.0" fill="#fff" stroke="#3a86d0" stroke-width="0.95"/><rect x="86.4" y="343.9" width="7.0" height="7.0" fill="#fff" stroke="#3a86d0" stroke-width="0.95"/><rect x="99.6" y="347.7" width="7.0" height="7.0" fill="#fff" stroke="#3a86d0" stroke-width="0.95"/><rect x="189.1" y="291.5" width="7.0" height="7.0" fill="#fff" stroke="#3a86d0" stroke-width="0.95"/><rect x="199.8" y="295.0" width="7.0" height="7.0" fill="#fff" stroke="#3a86d0" stroke-width="0.95"/><rect x="208.5" y="298.9" width="7.0" height="7.0" fill="#fff" stroke="#3a86d0" stroke-width="0.95"/><rect x="212.9" y="314.4" width="7.0" height="7.0" fill="#fff" stroke="#3a86d0" stroke-width="0.95"/><rect x="193.9" y="323.5" width="7.0" height="7.0" fill="#fff" stroke="#3a86d0" stroke-width="0.95"/><rect x="198.8" y="322.5" width="7.0" height="7.0" fill="#fff" stroke="#3a86d0" stroke-width="0.95"/><rect x="216.8" y="326.8" width="7.0" height="7.0" fill="#fff" stroke="#3a86d0" stroke-width="0.95"/><rect x="183.9" y="335.1" width="7.0" height="7.0" fill="#fff" stroke="#3a86d0" stroke-width="0.95"/><rect x="184.3" y="354.5" width="7.0" height="7.0" fill="#fff" stroke="#3a86d0" stroke-width="0.95"/><rect x="166.8" y="239.3" width="7.0" height="7.0" fill="#fff" stroke="#3a86d0" stroke-width="0.95"/><rect x="198.2" y="271.5" width="7.0" height="7.0" fill="#fff" stroke="#3a86d0" stroke-width="0.95"/><rect x="181.3" y="288.4" width="7.0" height="7.0" fill="#fff" stroke="#3a86d0" stroke-width="0.95"/><rect x="294.9" y="218.2" width="7.0" height="7.0" fill="#fff" stroke="#3a86d0" stroke-width="0.95"/><rect x="282.3" y="227.3" width="7.0" height="7.0" fill="#fff" stroke="#3a86d0" stroke-width="0.95"/><rect x="175.4" y="203.8" width="7.0" height="7.0" fill="#fff" stroke="#3a86d0" stroke-width="0.95"/><rect x="207.4" y="170.4" width="7.0" height="7.0" fill="#fff" stroke="#3a86d0" stroke-width="0.95"/><rect x="207.4" y="179.1" width="7.0" height="7.0" fill="#fff" stroke="#3a86d0" stroke-width="0.95"/><rect x="248.4" y="166.1" width="7.0" height="7.0" fill="#fff" stroke="#3a86d0" stroke-width="0.95"/><rect x="214.5" y="277.6" width="7.0" height="7.0" fill="#fff" stroke="#3a86d0" stroke-width="0.95"/><rect x="245.1" y="285.2" width="7.0" height="7.0" fill="#fff" stroke="#3a86d0" stroke-width="0.95"/><circle cx="105.3" cy="381.1" r="1.3" fill="#959595" stroke="#3a3a3a" stroke-width="0.75"/><circle cx="98.9" cy="389.6" r="1.3" fill="#959595" stroke="#3a3a3a" stroke-width="0.75"/><circle cx="102.1" cy="399.5" r="1.3" fill="#959595" stroke="#3a3a3a" stroke-width="0.75"/><circle cx="110.2" cy="364.1" r="1.3" fill="#959595" stroke="#3a3a3a" stroke-width="0.75"/><circle cx="100.5" cy="412.9" r="1.3" fill="#959595" stroke="#3a3a3a" stroke-width="0.75"/><circle cx="118.0" cy="409.2" r="1.3" fill="#959595" stroke="#3a3a3a" stroke-width="0.75"/><circle cx="105.3" cy="386.2" r="1.3" fill="#959595" stroke="#3a3a3a" stroke-width="0.75"/><circle cx="93.4" cy="395.8" r="1.3" fill="#959595" stroke="#3a3a3a" stroke-width="0.75"/><circle cx="117.7" cy="405.2" r="1.3" fill="#959595" stroke="#3a3a3a" stroke-width="0.75"/><circle cx="99.3" cy="375.6" r="1.3" fill="#959595" stroke="#3a3a3a" stroke-width="0.75"/><circle cx="98.7" cy="403.5" r="1.3" fill="#959595" stroke="#3a3a3a" stroke-width="0.75"/><circle cx="109.2" cy="372.7" r="1.3" fill="#959595" stroke="#3a3a3a" stroke-width="0.75"/><circle cx="137.3" cy="384.9" r="1.3" fill="#959595" stroke="#3a3a3a" stroke-width="0.75"/><circle cx="98.6" cy="396.7" r="1.3" fill="#959595" stroke="#3a3a3a" stroke-width="0.75"/><circle cx="94.4" cy="414.3" r="1.3" fill="#959595" stroke="#3a3a3a" stroke-width="0.75"/><circle cx="111.1" cy="387.8" r="1.3" fill="#959595" stroke="#3a3a3a" stroke-width="0.75"/><circle cx="112.6" cy="371.2" r="1.3" fill="#959595" stroke="#3a3a3a" stroke-width="0.75"/><circle cx="107.5" cy="362.1" r="1.3" fill="#959595" stroke="#3a3a3a" stroke-width="0.75"/><circle cx="109.9" cy="398.0" r="1.3" fill="#959595" stroke="#3a3a3a" stroke-width="0.75"/><circle cx="94.0" cy="365.6" r="1.3" fill="#959595" stroke="#3a3a3a" stroke-width="0.75"/><circle cx="88.9" cy="408.7" r="1.3" fill="#959595" stroke="#3a3a3a" stroke-width="0.75"/><circle cx="97.1" cy="380.5" r="1.3" fill="#959595" stroke="#3a3a3a" stroke-width="0.75"/><circle cx="100.9" cy="419.8" r="1.3" fill="#959595" stroke="#3a3a3a" stroke-width="0.75"/><circle cx="90.8" cy="402.0" r="1.3" fill="#959595" stroke="#3a3a3a" stroke-width="0.75"/><circle cx="104.3" cy="394.4" r="1.3" fill="#959595" stroke="#3a3a3a" stroke-width="0.75"/><circle cx="139.9" cy="378.5" r="1.3" fill="#959595" stroke="#3a3a3a" stroke-width="0.75"/><circle cx="92.2" cy="398.6" r="1.3" fill="#959595" stroke="#3a3a3a" stroke-width="0.75"/><circle cx="97.2" cy="380.4" r="1.3" fill="#959595" stroke="#3a3a3a" stroke-width="0.75"/><circle cx="119.9" cy="392.3" r="1.3" fill="#959595" stroke="#3a3a3a" stroke-width="0.75"/><circle cx="131.1" cy="367.8" r="1.3" fill="#959595" stroke="#3a3a3a" stroke-width="0.75"/><circle cx="104.0" cy="406.0" r="1.3" fill="#959595" stroke="#3a3a3a" stroke-width="0.75"/><circle cx="105.2" cy="400.0" r="1.3" fill="#959595" stroke="#3a3a3a" stroke-width="0.75"/><circle cx="92.3" cy="411.7" r="1.3" fill="#959595" stroke="#3a3a3a" stroke-width="0.75"/><circle cx="94.3" cy="392.6" r="1.3" fill="#959595" stroke="#3a3a3a" stroke-width="0.75"/><circle cx="98.9" cy="391.1" r="1.3" fill="#959595" stroke="#3a3a3a" stroke-width="0.75"/><circle cx="112.0" cy="402.6" r="1.3" fill="#959595" stroke="#3a3a3a" stroke-width="0.75"/><circle cx="100.7" cy="390.8" r="1.3" fill="#959595" stroke="#3a3a3a" stroke-width="0.75"/><circle cx="112.3" cy="366.5" r="1.3" fill="#959595" stroke="#3a3a3a" stroke-width="0.75"/><circle cx="107.5" cy="403.3" r="1.3" fill="#959595" stroke="#3a3a3a" stroke-width="0.75"/><circle cx="104.1" cy="385.2" r="1.3" fill="#959595" stroke="#3a3a3a" stroke-width="0.75"/><circle cx="91.7" cy="382.1" r="1.3" fill="#959595" stroke="#3a3a3a" stroke-width="0.75"/><circle cx="138.8" cy="377.1" r="1.3" fill="#959595" stroke="#3a3a3a" stroke-width="0.75"/><circle cx="128.5" cy="398.4" r="1.3" fill="#959595" stroke="#3a3a3a" stroke-width="0.75"/><circle cx="111.0" cy="381.6" r="1.3" fill="#959595" stroke="#3a3a3a" stroke-width="0.75"/><circle cx="103.3" cy="371.8" r="1.3" fill="#959595" stroke="#3a3a3a" stroke-width="0.75"/><circle cx="105.9" cy="381.3" r="1.3" fill="#959595" stroke="#3a3a3a" stroke-width="0.75"/><circle cx="93.3" cy="371.2" r="1.3" fill="#959595" stroke="#3a3a3a" stroke-width="0.75"/><circle cx="114.6" cy="389.1" r="1.3" fill="#959595" stroke="#3a3a3a" stroke-width="0.75"/><circle cx="109.9" cy="389.0" r="1.3" fill="#959595" stroke="#3a3a3a" stroke-width="0.75"/><circle cx="118.7" cy="397.3" r="1.3" fill="#959595" stroke="#3a3a3a" stroke-width="0.75"/><circle cx="107.5" cy="369.8" r="1.3" fill="#959595" stroke="#3a3a3a" stroke-width="0.75"/><circle cx="88.5" cy="401.2" r="1.3" fill="#959595" stroke="#3a3a3a" stroke-width="0.75"/><circle cx="97.0" cy="418.2" r="1.3" fill="#959595" stroke="#3a3a3a" stroke-width="0.75"/><circle cx="103.8" cy="377.6" r="1.3" fill="#959595" stroke="#3a3a3a" stroke-width="0.75"/><circle cx="119.5" cy="371.9" r="1.3" fill="#959595" stroke="#3a3a3a" stroke-width="0.75"/><circle cx="98.5" cy="398.6" r="1.3" fill="#959595" stroke="#3a3a3a" stroke-width="0.75"/><circle cx="89.6" cy="401.4" r="1.3" fill="#959595" stroke="#3a3a3a" stroke-width="0.75"/><circle cx="100.0" cy="407.0" r="1.3" fill="#959595" stroke="#3a3a3a" stroke-width="0.75"/><circle cx="101.1" cy="373.8" r="1.3" fill="#959595" stroke="#3a3a3a" stroke-width="0.75"/><circle cx="102.6" cy="396.7" r="1.3" fill="#959595" stroke="#3a3a3a" stroke-width="0.75"/><circle cx="91.5" cy="389.6" r="1.3" fill="#959595" stroke="#3a3a3a" stroke-width="0.75"/><circle cx="126.0" cy="365.2" r="1.3" fill="#959595" stroke="#3a3a3a" stroke-width="0.75"/><circle cx="88.2" cy="394.3" r="1.3" fill="#959595" stroke="#3a3a3a" stroke-width="0.75"/><circle cx="101.0" cy="390.3" r="1.3" fill="#959595" stroke="#3a3a3a" stroke-width="0.75"/><circle cx="115.2" cy="406.8" r="1.3" fill="#959595" stroke="#3a3a3a" stroke-width="0.75"/><circle cx="95.0" cy="407.8" r="1.3" fill="#959595" stroke="#3a3a3a" stroke-width="0.75"/><circle cx="104.1" cy="392.3" r="1.3" fill="#959595" stroke="#3a3a3a" stroke-width="0.75"/><circle cx="102.0" cy="390.3" r="1.3" fill="#959595" stroke="#3a3a3a" stroke-width="0.75"/><circle cx="122.5" cy="375.8" r="1.3" fill="#959595" stroke="#3a3a3a" stroke-width="0.75"/><circle cx="96.6" cy="420.0" r="1.3" fill="#959595" stroke="#3a3a3a" stroke-width="0.75"/><circle cx="91.2" cy="414.0" r="1.3" fill="#959595" stroke="#3a3a3a" stroke-width="0.75"/><circle cx="92.7" cy="387.3" r="1.3" fill="#959595" stroke="#3a3a3a" stroke-width="0.75"/><circle cx="96.0" cy="400.7" r="1.3" fill="#959595" stroke="#3a3a3a" stroke-width="0.75"/><circle cx="102.3" cy="380.1" r="1.3" fill="#959595" stroke="#3a3a3a" stroke-width="0.75"/><circle cx="94.2" cy="390.4" r="1.3" fill="#959595" stroke="#3a3a3a" stroke-width="0.75"/><circle cx="87.1" cy="388.5" r="1.3" fill="#959595" stroke="#3a3a3a" stroke-width="0.75"/><circle cx="108.0" cy="416.3" r="1.3" fill="#959595" stroke="#3a3a3a" stroke-width="0.75"/><circle cx="97.9" cy="396.8" r="1.3" fill="#959595" stroke="#3a3a3a" stroke-width="0.75"/><circle cx="105.1" cy="391.9" r="1.3" fill="#959595" stroke="#3a3a3a" stroke-width="0.75"/><circle cx="95.6" cy="393.1" r="1.3" fill="#959595" stroke="#3a3a3a" stroke-width="0.75"/><circle cx="107.3" cy="371.7" r="1.3" fill="#959595" stroke="#3a3a3a" stroke-width="0.75"/><circle cx="93.3" cy="381.2" r="1.3" fill="#959595" stroke="#3a3a3a" stroke-width="0.75"/><circle cx="107.1" cy="391.1" r="1.3" fill="#959595" stroke="#3a3a3a" stroke-width="0.75"/><circle cx="133.0" cy="375.4" r="1.3" fill="#959595" stroke="#3a3a3a" stroke-width="0.75"/><circle cx="94.6" cy="368.9" r="1.3" fill="#959595" stroke="#3a3a3a" stroke-width="0.75"/><circle cx="112.0" cy="380.6" r="1.3" fill="#959595" stroke="#3a3a3a" stroke-width="0.75"/><circle cx="94.2" cy="400.4" r="1.3" fill="#959595" stroke="#3a3a3a" stroke-width="0.75"/><circle cx="100.4" cy="431.1" r="1.3" fill="#959595" stroke="#3a3a3a" stroke-width="0.75"/><circle cx="111.7" cy="410.3" r="1.3" fill="#959595" stroke="#3a3a3a" stroke-width="0.75"/><circle cx="92.6" cy="389.1" r="1.3" fill="#959595" stroke="#3a3a3a" stroke-width="0.75"/><circle cx="104.8" cy="389.6" r="1.3" fill="#959595" stroke="#3a3a3a" stroke-width="0.75"/><circle cx="133.7" cy="382.3" r="1.3" fill="#959595" stroke="#3a3a3a" stroke-width="0.75"/><circle cx="115.8" cy="374.4" r="1.3" fill="#959595" stroke="#3a3a3a" stroke-width="0.75"/><circle cx="103.4" cy="381.3" r="1.3" fill="#959595" stroke="#3a3a3a" stroke-width="0.75"/><circle cx="115.9" cy="388.5" r="1.3" fill="#959595" stroke="#3a3a3a" stroke-width="0.75"/><circle cx="117.9" cy="387.5" r="1.3" fill="#959595" stroke="#3a3a3a" stroke-width="0.75"/><circle cx="96.9" cy="417.7" r="1.3" fill="#959595" stroke="#3a3a3a" stroke-width="0.75"/><circle cx="109.1" cy="408.3" r="1.3" fill="#959595" stroke="#3a3a3a" stroke-width="0.75"/><circle cx="105.1" cy="396.8" r="1.3" fill="#959595" stroke="#3a3a3a" stroke-width="0.75"/><circle cx="103.4" cy="413.4" r="1.3" fill="#959595" stroke="#3a3a3a" stroke-width="0.75"/><circle cx="106.3" cy="386.2" r="1.3" fill="#959595" stroke="#3a3a3a" stroke-width="0.75"/><circle cx="90.6" cy="406.1" r="1.3" fill="#959595" stroke="#3a3a3a" stroke-width="0.75"/><circle cx="106.2" cy="406.7" r="1.3" fill="#959595" stroke="#3a3a3a" stroke-width="0.75"/><circle cx="98.3" cy="400.9" r="1.3" fill="#959595" stroke="#3a3a3a" stroke-width="0.75"/><circle cx="106.7" cy="372.2" r="1.3" fill="#959595" stroke="#3a3a3a" stroke-width="0.75"/><circle cx="102.6" cy="382.5" r="1.3" fill="#959595" stroke="#3a3a3a" stroke-width="0.75"/><circle cx="84.3" cy="400.7" r="1.3" fill="#959595" stroke="#3a3a3a" stroke-width="0.75"/><circle cx="116.0" cy="384.8" r="1.3" fill="#959595" stroke="#3a3a3a" stroke-width="0.75"/><circle cx="85.3" cy="397.6" r="1.3" fill="#959595" stroke="#3a3a3a" stroke-width="0.75"/><circle cx="80.4" cy="422.5" r="1.3" fill="#959595" stroke="#3a3a3a" stroke-width="0.75"/><circle cx="106.5" cy="405.9" r="1.3" fill="#959595" stroke="#3a3a3a" stroke-width="0.75"/><circle cx="101.2" cy="384.7" r="1.3" fill="#959595" stroke="#3a3a3a" stroke-width="0.75"/><circle cx="103.5" cy="409.1" r="1.3" fill="#959595" stroke="#3a3a3a" stroke-width="0.75"/><circle cx="93.0" cy="424.1" r="1.3" fill="#959595" stroke="#3a3a3a" stroke-width="0.75"/><circle cx="88.9" cy="404.9" r="1.3" fill="#959595" stroke="#3a3a3a" stroke-width="0.75"/><circle cx="93.5" cy="417.5" r="1.3" fill="#959595" stroke="#3a3a3a" stroke-width="0.75"/><circle cx="96.0" cy="391.6" r="1.3" fill="#959595" stroke="#3a3a3a" stroke-width="0.75"/><circle cx="116.9" cy="384.1" r="1.3" fill="#959595" stroke="#3a3a3a" stroke-width="0.75"/><circle cx="128.4" cy="389.0" r="1.3" fill="#959595" stroke="#3a3a3a" stroke-width="0.75"/><circle cx="94.2" cy="415.4" r="1.3" fill="#959595" stroke="#3a3a3a" stroke-width="0.75"/><circle cx="109.0" cy="381.3" r="1.3" fill="#959595" stroke="#3a3a3a" stroke-width="0.75"/><circle cx="96.0" cy="404.5" r="1.3" fill="#959595" stroke="#3a3a3a" stroke-width="0.75"/><circle cx="107.2" cy="405.8" r="1.3" fill="#959595" stroke="#3a3a3a" stroke-width="0.75"/><circle cx="103.4" cy="394.3" r="1.3" fill="#959595" stroke="#3a3a3a" stroke-width="0.75"/><circle cx="122.0" cy="391.4" r="1.3" fill="#959595" stroke="#3a3a3a" stroke-width="0.75"/><circle cx="100.9" cy="401.9" r="1.3" fill="#959595" stroke="#3a3a3a" stroke-width="0.75"/><circle cx="115.6" cy="392.5" r="1.3" fill="#959595" stroke="#3a3a3a" stroke-width="0.75"/><circle cx="87.1" cy="411.4" r="1.3" fill="#959595" stroke="#3a3a3a" stroke-width="0.75"/><circle cx="119.5" cy="392.3" r="1.3" fill="#959595" stroke="#3a3a3a" stroke-width="0.75"/><circle cx="117.8" cy="401.1" r="1.3" fill="#959595" stroke="#3a3a3a" stroke-width="0.75"/><circle cx="101.8" cy="383.3" r="1.3" fill="#959595" stroke="#3a3a3a" stroke-width="0.75"/><circle cx="97.7" cy="425.4" r="1.3" fill="#959595" stroke="#3a3a3a" stroke-width="0.75"/><circle cx="97.0" cy="400.8" r="1.3" fill="#959595" stroke="#3a3a3a" stroke-width="0.75"/><circle cx="96.5" cy="401.6" r="1.3" fill="#959595" stroke="#3a3a3a" stroke-width="0.75"/><circle cx="109.0" cy="381.3" r="1.3" fill="#959595" stroke="#3a3a3a" stroke-width="0.75"/><circle cx="83.8" cy="417.3" r="1.3" fill="#959595" stroke="#3a3a3a" stroke-width="0.75"/><circle cx="119.6" cy="372.3" r="1.3" fill="#959595" stroke="#3a3a3a" stroke-width="0.75"/><circle cx="97.9" cy="417.5" r="1.3" fill="#959595" stroke="#3a3a3a" stroke-width="0.75"/><circle cx="105.5" cy="395.8" r="1.3" fill="#959595" stroke="#3a3a3a" stroke-width="0.75"/><circle cx="110.8" cy="392.5" r="1.3" fill="#959595" stroke="#3a3a3a" stroke-width="0.75"/><circle cx="113.7" cy="393.0" r="1.3" fill="#959595" stroke="#3a3a3a" stroke-width="0.75"/><circle cx="109.2" cy="406.3" r="1.3" fill="#959595" stroke="#3a3a3a" stroke-width="0.75"/><circle cx="90.6" cy="393.8" r="1.3" fill="#959595" stroke="#3a3a3a" stroke-width="0.75"/><circle cx="112.9" cy="415.5" r="1.3" fill="#959595" stroke="#3a3a3a" stroke-width="0.75"/><circle cx="118.6" cy="386.4" r="1.3" fill="#959595" stroke="#3a3a3a" stroke-width="0.75"/><circle cx="97.1" cy="406.3" r="1.3" fill="#959595" stroke="#3a3a3a" stroke-width="0.75"/><circle cx="100.6" cy="398.1" r="1.3" fill="#959595" stroke="#3a3a3a" stroke-width="0.75"/><circle cx="98.0" cy="390.2" r="1.3" fill="#959595" stroke="#3a3a3a" stroke-width="0.75"/><circle cx="98.8" cy="371.4" r="1.3" fill="#959595" stroke="#3a3a3a" stroke-width="0.75"/><circle cx="103.0" cy="389.8" r="1.3" fill="#959595" stroke="#3a3a3a" stroke-width="0.75"/><circle cx="103.9" cy="407.7" r="1.3" fill="#959595" stroke="#3a3a3a" stroke-width="0.75"/><circle cx="122.9" cy="372.7" r="1.3" fill="#959595" stroke="#3a3a3a" stroke-width="0.75"/><circle cx="103.8" cy="387.8" r="1.3" fill="#959595" stroke="#3a3a3a" stroke-width="0.75"/><circle cx="107.4" cy="391.6" r="1.3" fill="#959595" stroke="#3a3a3a" stroke-width="0.75"/><circle cx="102.1" cy="388.8" r="1.3" fill="#959595" stroke="#3a3a3a" stroke-width="0.75"/><circle cx="130.9" cy="369.7" r="1.3" fill="#959595" stroke="#3a3a3a" stroke-width="0.75"/><circle cx="105.3" cy="404.8" r="1.3" fill="#959595" stroke="#3a3a3a" stroke-width="0.75"/><circle cx="90.3" cy="411.4" r="1.3" fill="#959595" stroke="#3a3a3a" stroke-width="0.75"/><circle cx="109.1" cy="397.9" r="1.3" fill="#959595" stroke="#3a3a3a" stroke-width="0.75"/><circle cx="99.1" cy="386.2" r="1.3" fill="#959595" stroke="#3a3a3a" stroke-width="0.75"/><circle cx="99.3" cy="412.2" r="1.3" fill="#959595" stroke="#3a3a3a" stroke-width="0.75"/><circle cx="120.2" cy="377.3" r="1.3" fill="#959595" stroke="#3a3a3a" stroke-width="0.75"/><circle cx="101.3" cy="363.7" r="1.3" fill="#959595" stroke="#3a3a3a" stroke-width="0.75"/><circle cx="93.9" cy="409.0" r="1.3" fill="#959595" stroke="#3a3a3a" stroke-width="0.75"/><circle cx="108.2" cy="381.4" r="1.3" fill="#959595" stroke="#3a3a3a" stroke-width="0.75"/><circle cx="116.9" cy="403.0" r="1.3" fill="#959595" stroke="#3a3a3a" stroke-width="0.75"/><circle cx="97.7" cy="369.2" r="1.3" fill="#959595" stroke="#3a3a3a" stroke-width="0.75"/><circle cx="83.4" cy="422.5" r="1.3" fill="#959595" stroke="#3a3a3a" stroke-width="0.75"/><circle cx="82.5" cy="400.3" r="1.3" fill="#959595" stroke="#3a3a3a" stroke-width="0.75"/><circle cx="84.3" cy="406.9" r="1.3" fill="#959595" stroke="#3a3a3a" stroke-width="0.75"/><circle cx="99.7" cy="392.4" r="1.3" fill="#959595" stroke="#3a3a3a" stroke-width="0.75"/><circle cx="92.2" cy="378.7" r="1.3" fill="#959595" stroke="#3a3a3a" stroke-width="0.75"/><circle cx="109.9" cy="389.2" r="1.3" fill="#959595" stroke="#3a3a3a" stroke-width="0.75"/><circle cx="104.2" cy="385.5" r="1.3" fill="#959595" stroke="#3a3a3a" stroke-width="0.75"/><circle cx="112.8" cy="368.0" r="1.3" fill="#959595" stroke="#3a3a3a" stroke-width="0.75"/><circle cx="104.5" cy="396.6" r="1.3" fill="#959595" stroke="#3a3a3a" stroke-width="0.75"/><circle cx="90.8" cy="411.9" r="1.3" fill="#959595" stroke="#3a3a3a" stroke-width="0.75"/><circle cx="114.0" cy="371.7" r="1.3" fill="#959595" stroke="#3a3a3a" stroke-width="0.75"/><circle cx="165.1" cy="292.9" r="1.3" fill="#959595" stroke="#3a3a3a" stroke-width="0.75"/><circle cx="154.4" cy="302.6" r="1.3" fill="#959595" stroke="#3a3a3a" stroke-width="0.75"/><circle cx="166.0" cy="300.0" r="1.3" fill="#959595" stroke="#3a3a3a" stroke-width="0.75"/><circle cx="155.8" cy="309.7" r="1.3" fill="#959595" stroke="#3a3a3a" stroke-width="0.75"/><circle cx="156.9" cy="316.1" r="1.3" fill="#959595" stroke="#3a3a3a" stroke-width="0.75"/><circle cx="164.1" cy="312.2" r="1.3" fill="#959595" stroke="#3a3a3a" stroke-width="0.75"/><circle cx="171.9" cy="311.1" r="1.3" fill="#959595" stroke="#3a3a3a" stroke-width="0.75"/><circle cx="171.9" cy="316.5" r="1.3" fill="#959595" stroke="#3a3a3a" stroke-width="0.75"/><circle cx="149.2" cy="325.8" r="1.3" fill="#959595" stroke="#3a3a3a" stroke-width="0.75"/><circle cx="136.0" cy="330.5" r="1.3" fill="#959595" stroke="#3a3a3a" stroke-width="0.75"/><circle cx="142.2" cy="332.4" r="1.3" fill="#959595" stroke="#3a3a3a" stroke-width="0.75"/><circle cx="157.7" cy="335.9" r="1.3" fill="#959595" stroke="#3a3a3a" stroke-width="0.75"/><circle cx="167.0" cy="332.4" r="1.3" fill="#959595" stroke="#3a3a3a" stroke-width="0.75"/><circle cx="177.1" cy="327.8" r="1.3" fill="#959595" stroke="#3a3a3a" stroke-width="0.75"/><circle cx="125.3" cy="343.3" r="1.3" fill="#959595" stroke="#3a3a3a" stroke-width="0.75"/><circle cx="162.2" cy="342.7" r="1.3" fill="#959595" stroke="#3a3a3a" stroke-width="0.75"/><circle cx="172.8" cy="345.6" r="1.3" fill="#959595" stroke="#3a3a3a" stroke-width="0.75"/><circle cx="182.5" cy="292.3" r="1.3" fill="#959595" stroke="#3a3a3a" stroke-width="0.75"/><circle cx="163.1" cy="347.5" r="1.3" fill="#959595" stroke="#3a3a3a" stroke-width="0.75"/><circle cx="109.8" cy="348.5" r="1.3" fill="#959595" stroke="#3a3a3a" stroke-width="0.75"/><circle cx="139.4" cy="351.2" r="1.3" fill="#959595" stroke="#3a3a3a" stroke-width="0.75"/><circle cx="136.5" cy="354.5" r="1.3" fill="#959595" stroke="#3a3a3a" stroke-width="0.75"/><circle cx="140.9" cy="359.4" r="1.3" fill="#959595" stroke="#3a3a3a" stroke-width="0.75"/><circle cx="140.3" cy="364.8" r="1.3" fill="#959595" stroke="#3a3a3a" stroke-width="0.75"/><circle cx="125.8" cy="371.0" r="1.3" fill="#959595" stroke="#3a3a3a" stroke-width="0.75"/><circle cx="138.4" cy="369.1" r="1.3" fill="#959595" stroke="#3a3a3a" stroke-width="0.75"/><circle cx="140.3" cy="376.8" r="1.3" fill="#959595" stroke="#3a3a3a" stroke-width="0.75"/><circle cx="147.1" cy="372.0" r="1.3" fill="#959595" stroke="#3a3a3a" stroke-width="0.75"/><circle cx="147.1" cy="377.8" r="1.3" fill="#959595" stroke="#3a3a3a" stroke-width="0.75"/><circle cx="152.0" cy="360.3" r="1.3" fill="#959595" stroke="#3a3a3a" stroke-width="0.75"/><circle cx="155.9" cy="370.0" r="1.3" fill="#959595" stroke="#3a3a3a" stroke-width="0.75"/><circle cx="160.7" cy="363.3" r="1.3" fill="#959595" stroke="#3a3a3a" stroke-width="0.75"/><circle cx="164.6" cy="370.0" r="1.3" fill="#959595" stroke="#3a3a3a" stroke-width="0.75"/><circle cx="169.4" cy="365.2" r="1.3" fill="#959595" stroke="#3a3a3a" stroke-width="0.75"/><circle cx="175.2" cy="369.1" r="1.3" fill="#959595" stroke="#3a3a3a" stroke-width="0.75"/><circle cx="174.3" cy="378.8" r="1.3" fill="#959595" stroke="#3a3a3a" stroke-width="0.75"/><circle cx="156.8" cy="384.2" r="1.3" fill="#959595" stroke="#3a3a3a" stroke-width="0.75"/><circle cx="144.8" cy="387.1" r="1.3" fill="#959595" stroke="#3a3a3a" stroke-width="0.75"/><circle cx="168.1" cy="402.4" r="1.3" fill="#959595" stroke="#3a3a3a" stroke-width="0.75"/><circle cx="177.2" cy="349.7" r="1.3" fill="#959595" stroke="#3a3a3a" stroke-width="0.75"/><circle cx="169.4" cy="350.7" r="1.3" fill="#959595" stroke="#3a3a3a" stroke-width="0.75"/><circle cx="163.6" cy="352.6" r="1.3" fill="#959595" stroke="#3a3a3a" stroke-width="0.75"/><circle cx="176.2" cy="354.5" r="1.3" fill="#959595" stroke="#3a3a3a" stroke-width="0.75"/><circle cx="186.9" cy="344.8" r="1.3" fill="#959595" stroke="#3a3a3a" stroke-width="0.75"/><circle cx="186.9" cy="352.6" r="1.3" fill="#959595" stroke="#3a3a3a" stroke-width="0.75"/><circle cx="189.8" cy="357.4" r="1.3" fill="#959595" stroke="#3a3a3a" stroke-width="0.75"/><circle cx="185.9" cy="359.4" r="1.3" fill="#959595" stroke="#3a3a3a" stroke-width="0.75"/><circle cx="126.8" cy="378.8" r="1.3" fill="#959595" stroke="#3a3a3a" stroke-width="0.75"/><circle cx="130.7" cy="380.7" r="1.3" fill="#959595" stroke="#3a3a3a" stroke-width="0.75"/><circle cx="121.9" cy="394.3" r="1.3" fill="#959595" stroke="#3a3a3a" stroke-width="0.75"/><circle cx="121.0" cy="357.4" r="1.3" fill="#959595" stroke="#3a3a3a" stroke-width="0.75"/><circle cx="103.6" cy="330.8" r="1.3" fill="#959595" stroke="#3a3a3a" stroke-width="0.75"/><circle cx="100.2" cy="342.1" r="1.3" fill="#959595" stroke="#3a3a3a" stroke-width="0.75"/><circle cx="89.9" cy="347.4" r="1.3" fill="#959595" stroke="#3a3a3a" stroke-width="0.75"/><circle cx="103.1" cy="351.2" r="1.3" fill="#959595" stroke="#3a3a3a" stroke-width="0.75"/><circle cx="192.6" cy="295.0" r="1.3" fill="#959595" stroke="#3a3a3a" stroke-width="0.75"/><circle cx="203.3" cy="298.5" r="1.3" fill="#959595" stroke="#3a3a3a" stroke-width="0.75"/><circle cx="212.0" cy="302.4" r="1.3" fill="#959595" stroke="#3a3a3a" stroke-width="0.75"/><circle cx="216.4" cy="317.9" r="1.3" fill="#959595" stroke="#3a3a3a" stroke-width="0.75"/><circle cx="197.4" cy="327.0" r="1.3" fill="#959595" stroke="#3a3a3a" stroke-width="0.75"/><circle cx="202.3" cy="326.0" r="1.3" fill="#959595" stroke="#3a3a3a" stroke-width="0.75"/><circle cx="220.3" cy="330.3" r="1.3" fill="#959595" stroke="#3a3a3a" stroke-width="0.75"/><circle cx="187.4" cy="338.6" r="1.3" fill="#959595" stroke="#3a3a3a" stroke-width="0.75"/><circle cx="187.8" cy="358.0" r="1.3" fill="#959595" stroke="#3a3a3a" stroke-width="0.75"/><circle cx="170.3" cy="242.8" r="1.3" fill="#959595" stroke="#3a3a3a" stroke-width="0.75"/><circle cx="201.7" cy="275.0" r="1.3" fill="#959595" stroke="#3a3a3a" stroke-width="0.75"/><circle cx="184.8" cy="291.9" r="1.3" fill="#959595" stroke="#3a3a3a" stroke-width="0.75"/><circle cx="298.4" cy="221.7" r="1.3" fill="#959595" stroke="#3a3a3a" stroke-width="0.75"/><circle cx="285.8" cy="230.8" r="1.3" fill="#959595" stroke="#3a3a3a" stroke-width="0.75"/><circle cx="178.9" cy="207.3" r="1.3" fill="#959595" stroke="#3a3a3a" stroke-width="0.75"/><circle cx="210.9" cy="173.9" r="1.3" fill="#959595" stroke="#3a3a3a" stroke-width="0.75"/><circle cx="210.9" cy="182.6" r="1.3" fill="#959595" stroke="#3a3a3a" stroke-width="0.75"/><circle cx="251.9" cy="169.6" r="1.3" fill="#959595" stroke="#3a3a3a" stroke-width="0.75"/><circle cx="218.0" cy="281.1" r="1.3" fill="#959595" stroke="#3a3a3a" stroke-width="0.75"/><circle cx="248.6" cy="288.7" r="1.3" fill="#959595" stroke="#3a3a3a" stroke-width="0.75"/></g><text transform="translate(91.00,125.50) rotate(-27.28)" x="0" y="0" font-family="Liberation Sans, sans-serif" font-size="15.2" letter-spacing="0.3" fill="#ea8530" stroke="#ea8530" stroke-width="0.3">0.1 kyr</text><text transform="translate(91.00,195.00) rotate(-27.28)" x="0" y="0" font-family="Liberation Sans, sans-serif" font-size="15.2" letter-spacing="0.3" fill="#ea8530" stroke="#ea8530" stroke-width="0.3">10 kyr</text><text transform="translate(91.20,263.00) rotate(-27.28)" x="0" y="0" font-family="Liberation Sans, sans-serif" font-size="15.2" letter-spacing="0.3" fill="#ea8530" stroke="#ea8530" stroke-width="0.3">1 Myr</text><text transform="translate(90.50,336.50) rotate(-27.28)" x="0" y="0" font-family="Liberation Sans, sans-serif" font-size="15.2" letter-spacing="0.3" fill="#ea8530" stroke="#ea8530" stroke-width="0.3">100 Myr</text><text transform="translate(343.00,42.50) rotate(29.78)" x="0" y="0" font-family="Liberation Sans, sans-serif" font-size="14.5" letter-spacing="0.3" fill="#1f77b4" stroke="#1f77b4" stroke-width="0.3">10<tspan dy="-6" font-size="10.5">15</tspan><tspan dy="6"> G</tspan></text><text transform="translate(343.00,112.20) rotate(29.78)" x="0" y="0" font-family="Liberation Sans, sans-serif" font-size="14.5" letter-spacing="0.3" fill="#1f77b4" stroke="#1f77b4" stroke-width="0.3">10<tspan dy="-6" font-size="10.5">14</tspan><tspan dy="6"> G</tspan></text><text transform="translate(343.00,181.90) rotate(29.78)" x="0" y="0" font-family="Liberation Sans, sans-serif" font-size="14.5" letter-spacing="0.3" fill="#1f77b4" stroke="#1f77b4" stroke-width="0.3">10<tspan dy="-6" font-size="10.5">13</tspan><tspan dy="6"> G</tspan></text><text transform="translate(343.00,251.50) rotate(29.78)" x="0" y="0" font-family="Liberation Sans, sans-serif" font-size="14.5" letter-spacing="0.3" fill="#1f77b4" stroke="#1f77b4" stroke-width="0.3">10<tspan dy="-6" font-size="10.5">12</tspan><tspan dy="6"> G</tspan></text><text transform="translate(342.30,139.50) rotate(29.78)" x="0" y="0" font-family="Liberation Sans, sans-serif" font-size="14.5" letter-spacing="0.3" fill="#1f77b4" stroke="#1f77b4" stroke-width="0.3">Bcr</text><text transform="translate(143.00,225.00) rotate(-58.52)" x="0" y="0" font-family="Liberation Sans, sans-serif" font-size="14.8" letter-spacing="0.75" fill="#7040a8" stroke="#7040a8" stroke-width="0.3">10<tspan dy="-6" font-size="10.5">37</tspan><tspan dy="6"> erg s</tspan><tspan dy="-6" font-size="10.5">−1</tspan></text><text transform="translate(143.00,295.00) rotate(-58.52)" x="0" y="0" font-family="Liberation Sans, sans-serif" font-size="14.8" letter-spacing="0.75" fill="#7040a8" stroke="#7040a8" stroke-width="0.3">10<tspan dy="-6" font-size="10.5">35</tspan><tspan dy="6"> erg s</tspan><tspan dy="-6" font-size="10.5">−1</tspan></text><text transform="translate(143.00,365.00) rotate(-58.52)" x="0" y="0" font-family="Liberation Sans, sans-serif" font-size="14.8" letter-spacing="0.75" fill="#7040a8" stroke="#7040a8" stroke-width="0.3">10<tspan dy="-6" font-size="10.5">33</tspan><tspan dy="6"> erg s</tspan><tspan dy="-6" font-size="10.5">−1</tspan></text><text transform="translate(143.00,434.50) rotate(-58.52)" x="0" y="0" font-family="Liberation Sans, sans-serif" font-size="14.8" letter-spacing="0.75" fill="#7040a8" stroke="#7040a8" stroke-width="0.3">10<tspan dy="-6" font-size="10.5">31</tspan><tspan dy="6"> erg s</tspan><tspan dy="-6" font-size="10.5">−1</tspan></text><line x1="66.0" y1="10.9" x2="66.0" y2="429.7" stroke="#000" stroke-width="0.8"/><line x1="403.0" y1="10.9" x2="403.0" y2="429.7" stroke="#000" stroke-width="0.8"/><line x1="65.6" y1="11.3" x2="403.4" y2="11.3" stroke="#000" stroke-width="0.8"/><line x1="65.6" y1="429.3" x2="403.4" y2="429.3" stroke="#000" stroke-width="0.8"/><line x1="65.60" y1="429.3" x2="65.60" y2="425.80" stroke="#222" stroke-width="0.9"/><line x1="65.60" y1="11.3" x2="65.60" y2="14.80" stroke="#222" stroke-width="0.9"/><line x1="85.93" y1="429.3" x2="85.93" y2="427.30" stroke="#222" stroke-width="0.7"/><line x1="85.93" y1="11.3" x2="85.93" y2="13.30" stroke="#222" stroke-width="0.7"/><line x1="97.83" y1="429.3" x2="97.83" y2="427.30" stroke="#222" stroke-width="0.7"/><line x1="97.83" y1="11.3" x2="97.83" y2="13.30" stroke="#222" stroke-width="0.7"/><line x1="106.27" y1="429.3" x2="106.27" y2="427.30" stroke="#222" stroke-width="0.7"/><line x1="106.27" y1="11.3" x2="106.27" y2="13.30" stroke="#222" stroke-width="0.7"/><line x1="112.82" y1="429.3" x2="112.82" y2="427.30" stroke="#222" stroke-width="0.7"/><line x1="112.82" y1="11.3" x2="112.82" y2="13.30" stroke="#222" stroke-width="0.7"/><line x1="118.16" y1="429.3" x2="118.16" y2="427.30" stroke="#222" stroke-width="0.7"/><line x1="118.16" y1="11.3" x2="118.16" y2="13.30" stroke="#222" stroke-width="0.7"/><line x1="122.69" y1="429.3" x2="122.69" y2="427.30" stroke="#222" stroke-width="0.7"/><line x1="122.69" y1="11.3" x2="122.69" y2="13.30" stroke="#222" stroke-width="0.7"/><line x1="126.60" y1="429.3" x2="126.60" y2="427.30" stroke="#222" stroke-width="0.7"/><line x1="126.60" y1="11.3" x2="126.60" y2="13.30" stroke="#222" stroke-width="0.7"/><line x1="130.06" y1="429.3" x2="130.06" y2="427.30" stroke="#222" stroke-width="0.7"/><line x1="130.06" y1="11.3" x2="130.06" y2="13.30" stroke="#222" stroke-width="0.7"/><line x1="133.15" y1="429.3" x2="133.15" y2="425.80" stroke="#222" stroke-width="0.9"/><line x1="133.15" y1="11.3" x2="133.15" y2="14.80" stroke="#222" stroke-width="0.9"/><line x1="153.48" y1="429.3" x2="153.48" y2="427.30" stroke="#222" stroke-width="0.7"/><line x1="153.48" y1="11.3" x2="153.48" y2="13.30" stroke="#222" stroke-width="0.7"/><line x1="165.38" y1="429.3" x2="165.38" y2="427.30" stroke="#222" stroke-width="0.7"/><line x1="165.38" y1="11.3" x2="165.38" y2="13.30" stroke="#222" stroke-width="0.7"/><line x1="173.82" y1="429.3" x2="173.82" y2="427.30" stroke="#222" stroke-width="0.7"/><line x1="173.82" y1="11.3" x2="173.82" y2="13.30" stroke="#222" stroke-width="0.7"/><line x1="180.37" y1="429.3" x2="180.37" y2="427.30" stroke="#222" stroke-width="0.7"/><line x1="180.37" y1="11.3" x2="180.37" y2="13.30" stroke="#222" stroke-width="0.7"/><line x1="185.71" y1="429.3" x2="185.71" y2="427.30" stroke="#222" stroke-width="0.7"/><line x1="185.71" y1="11.3" x2="185.71" y2="13.30" stroke="#222" stroke-width="0.7"/><line x1="190.24" y1="429.3" x2="190.24" y2="427.30" stroke="#222" stroke-width="0.7"/><line x1="190.24" y1="11.3" x2="190.24" y2="13.30" stroke="#222" stroke-width="0.7"/><line x1="194.15" y1="429.3" x2="194.15" y2="427.30" stroke="#222" stroke-width="0.7"/><line x1="194.15" y1="11.3" x2="194.15" y2="13.30" stroke="#222" stroke-width="0.7"/><line x1="197.61" y1="429.3" x2="197.61" y2="427.30" stroke="#222" stroke-width="0.7"/><line x1="197.61" y1="11.3" x2="197.61" y2="13.30" stroke="#222" stroke-width="0.7"/><line x1="200.70" y1="429.3" x2="200.70" y2="425.80" stroke="#222" stroke-width="0.9"/><line x1="200.70" y1="11.3" x2="200.70" y2="14.80" stroke="#222" stroke-width="0.9"/><line x1="221.03" y1="429.3" x2="221.03" y2="427.30" stroke="#222" stroke-width="0.7"/><line x1="221.03" y1="11.3" x2="221.03" y2="13.30" stroke="#222" stroke-width="0.7"/><line x1="232.93" y1="429.3" x2="232.93" y2="427.30" stroke="#222" stroke-width="0.7"/><line x1="232.93" y1="11.3" x2="232.93" y2="13.30" stroke="#222" stroke-width="0.7"/><line x1="241.37" y1="429.3" x2="241.37" y2="427.30" stroke="#222" stroke-width="0.7"/><line x1="241.37" y1="11.3" x2="241.37" y2="13.30" stroke="#222" stroke-width="0.7"/><line x1="247.92" y1="429.3" x2="247.92" y2="427.30" stroke="#222" stroke-width="0.7"/><line x1="247.92" y1="11.3" x2="247.92" y2="13.30" stroke="#222" stroke-width="0.7"/><line x1="253.26" y1="429.3" x2="253.26" y2="427.30" stroke="#222" stroke-width="0.7"/><line x1="253.26" y1="11.3" x2="253.26" y2="13.30" stroke="#222" stroke-width="0.7"/><line x1="257.79" y1="429.3" x2="257.79" y2="427.30" stroke="#222" stroke-width="0.7"/><line x1="257.79" y1="11.3" x2="257.79" y2="13.30" stroke="#222" stroke-width="0.7"/><line x1="261.70" y1="429.3" x2="261.70" y2="427.30" stroke="#222" stroke-width="0.7"/><line x1="261.70" y1="11.3" x2="261.70" y2="13.30" stroke="#222" stroke-width="0.7"/><line x1="265.16" y1="429.3" x2="265.16" y2="427.30" stroke="#222" stroke-width="0.7"/><line x1="265.16" y1="11.3" x2="265.16" y2="13.30" stroke="#222" stroke-width="0.7"/><line x1="268.25" y1="429.3" x2="268.25" y2="425.80" stroke="#222" stroke-width="0.9"/><line x1="268.25" y1="11.3" x2="268.25" y2="14.80" stroke="#222" stroke-width="0.9"/><line x1="288.58" y1="429.3" x2="288.58" y2="427.30" stroke="#222" stroke-width="0.7"/><line x1="288.58" y1="11.3" x2="288.58" y2="13.30" stroke="#222" stroke-width="0.7"/><line x1="300.48" y1="429.3" x2="300.48" y2="427.30" stroke="#222" stroke-width="0.7"/><line x1="300.48" y1="11.3" x2="300.48" y2="13.30" stroke="#222" stroke-width="0.7"/><line x1="308.92" y1="429.3" x2="308.92" y2="427.30" stroke="#222" stroke-width="0.7"/><line x1="308.92" y1="11.3" x2="308.92" y2="13.30" stroke="#222" stroke-width="0.7"/><line x1="315.47" y1="429.3" x2="315.47" y2="427.30" stroke="#222" stroke-width="0.7"/><line x1="315.47" y1="11.3" x2="315.47" y2="13.30" stroke="#222" stroke-width="0.7"/><line x1="320.81" y1="429.3" x2="320.81" y2="427.30" stroke="#222" stroke-width="0.7"/><line x1="320.81" y1="11.3" x2="320.81" y2="13.30" stroke="#222" stroke-width="0.7"/><line x1="325.34" y1="429.3" x2="325.34" y2="427.30" stroke="#222" stroke-width="0.7"/><line x1="325.34" y1="11.3" x2="325.34" y2="13.30" stroke="#222" stroke-width="0.7"/><line x1="329.25" y1="429.3" x2="329.25" y2="427.30" stroke="#222" stroke-width="0.7"/><line x1="329.25" y1="11.3" x2="329.25" y2="13.30" stroke="#222" stroke-width="0.7"/><line x1="332.71" y1="429.3" x2="332.71" y2="427.30" stroke="#222" stroke-width="0.7"/><line x1="332.71" y1="11.3" x2="332.71" y2="13.30" stroke="#222" stroke-width="0.7"/><line x1="335.80" y1="429.3" x2="335.80" y2="425.80" stroke="#222" stroke-width="0.9"/><line x1="335.80" y1="11.3" x2="335.80" y2="14.80" stroke="#222" stroke-width="0.9"/><line x1="356.13" y1="429.3" x2="356.13" y2="427.30" stroke="#222" stroke-width="0.7"/><line x1="356.13" y1="11.3" x2="356.13" y2="13.30" stroke="#222" stroke-width="0.7"/><line x1="368.03" y1="429.3" x2="368.03" y2="427.30" stroke="#222" stroke-width="0.7"/><line x1="368.03" y1="11.3" x2="368.03" y2="13.30" stroke="#222" stroke-width="0.7"/><line x1="376.47" y1="429.3" x2="376.47" y2="427.30" stroke="#222" stroke-width="0.7"/><line x1="376.47" y1="11.3" x2="376.47" y2="13.30" stroke="#222" stroke-width="0.7"/><line x1="383.02" y1="429.3" x2="383.02" y2="427.30" stroke="#222" stroke-width="0.7"/><line x1="383.02" y1="11.3" x2="383.02" y2="13.30" stroke="#222" stroke-width="0.7"/><line x1="388.36" y1="429.3" x2="388.36" y2="427.30" stroke="#222" stroke-width="0.7"/><line x1="388.36" y1="11.3" x2="388.36" y2="13.30" stroke="#222" stroke-width="0.7"/><line x1="392.89" y1="429.3" x2="392.89" y2="427.30" stroke="#222" stroke-width="0.7"/><line x1="392.89" y1="11.3" x2="392.89" y2="13.30" stroke="#222" stroke-width="0.7"/><line x1="396.80" y1="429.3" x2="396.80" y2="427.30" stroke="#222" stroke-width="0.7"/><line x1="396.80" y1="11.3" x2="396.80" y2="13.30" stroke="#222" stroke-width="0.7"/><line x1="400.26" y1="429.3" x2="400.26" y2="427.30" stroke="#222" stroke-width="0.7"/><line x1="400.26" y1="11.3" x2="400.26" y2="13.30" stroke="#222" stroke-width="0.7"/><line x1="403.35" y1="429.3" x2="403.35" y2="425.80" stroke="#222" stroke-width="0.9"/><line x1="403.35" y1="11.3" x2="403.35" y2="14.80" stroke="#222" stroke-width="0.9"/><line x1="66" y1="428.96" x2="69.5" y2="428.96" stroke="#222" stroke-width="0.9"/><line x1="403" y1="428.96" x2="399.5" y2="428.96" stroke="#222" stroke-width="0.9"/><line x1="66" y1="359.30" x2="69.5" y2="359.30" stroke="#222" stroke-width="0.9"/><line x1="403" y1="359.30" x2="399.5" y2="359.30" stroke="#222" stroke-width="0.9"/><line x1="66" y1="289.64" x2="69.5" y2="289.64" stroke="#222" stroke-width="0.9"/><line x1="403" y1="289.64" x2="399.5" y2="289.64" stroke="#222" stroke-width="0.9"/><line x1="66" y1="219.98" x2="69.5" y2="219.98" stroke="#222" stroke-width="0.9"/><line x1="403" y1="219.98" x2="399.5" y2="219.98" stroke="#222" stroke-width="0.9"/><line x1="66" y1="150.32" x2="69.5" y2="150.32" stroke="#222" stroke-width="0.9"/><line x1="403" y1="150.32" x2="399.5" y2="150.32" stroke="#222" stroke-width="0.9"/><line x1="66" y1="80.66" x2="69.5" y2="80.66" stroke="#222" stroke-width="0.9"/><line x1="403" y1="80.66" x2="399.5" y2="80.66" stroke="#222" stroke-width="0.9"/><line x1="66" y1="11.00" x2="69.5" y2="11.00" stroke="#222" stroke-width="0.9"/><line x1="403" y1="11.00" x2="399.5" y2="11.00" stroke="#222" stroke-width="0.9"/><text x="65.60" y="443.7" font-family="Liberation Sans, sans-serif" font-size="12.6" text-anchor="middle" fill="#000">10<tspan dx="1.2" dy="-4.4" font-size="8.8" letter-spacing="0.9">−3</tspan></text><text x="133.15" y="443.7" font-family="Liberation Sans, sans-serif" font-size="12.6" text-anchor="middle" fill="#000">10<tspan dx="1.2" dy="-4.4" font-size="8.8" letter-spacing="0.9">−2</tspan></text><text x="200.70" y="443.7" font-family="Liberation Sans, sans-serif" font-size="12.6" text-anchor="middle" fill="#000">10<tspan dx="1.2" dy="-4.4" font-size="8.8" letter-spacing="0.9">−1</tspan></text><text x="268.25" y="443.7" font-family="Liberation Sans, sans-serif" font-size="12.6" text-anchor="middle" fill="#000">10<tspan dx="1.2" dy="-4.4" font-size="8.8" letter-spacing="0.9">0</tspan></text><text x="335.80" y="443.7" font-family="Liberation Sans, sans-serif" font-size="12.6" text-anchor="middle" fill="#000">10<tspan dx="1.2" dy="-4.4" font-size="8.8" letter-spacing="0.9">1</tspan></text><text x="403.35" y="443.7" font-family="Liberation Sans, sans-serif" font-size="12.6" text-anchor="middle" fill="#000">10<tspan dx="1.2" dy="-4.4" font-size="8.8" letter-spacing="0.9">2</tspan></text><text x="62.3" y="433.36" font-family="Liberation Sans, sans-serif" font-size="12.6" text-anchor="end" fill="#000">10<tspan dx="1.2" dy="-4.4" font-size="8.8" letter-spacing="0.9">−21</tspan></text><text x="62.3" y="363.70" font-family="Liberation Sans, sans-serif" font-size="12.6" text-anchor="end" fill="#000">10<tspan dx="1.2" dy="-4.4" font-size="8.8" letter-spacing="0.9">−19</tspan></text><text x="62.3" y="294.04" font-family="Liberation Sans, sans-serif" font-size="12.6" text-anchor="end" fill="#000">10<tspan dx="1.2" dy="-4.4" font-size="8.8" letter-spacing="0.9">−17</tspan></text><text x="62.3" y="224.38" font-family="Liberation Sans, sans-serif" font-size="12.6" text-anchor="end" fill="#000">10<tspan dx="1.2" dy="-4.4" font-size="8.8" letter-spacing="0.9">−15</tspan></text><text x="62.3" y="154.72" font-family="Liberation Sans, sans-serif" font-size="12.6" text-anchor="end" fill="#000">10<tspan dx="1.2" dy="-4.4" font-size="8.8" letter-spacing="0.9">−13</tspan></text><text x="62.3" y="85.06" font-family="Liberation Sans, sans-serif" font-size="12.6" text-anchor="end" fill="#000">10<tspan dx="1.2" dy="-4.4" font-size="8.8" letter-spacing="0.9">−11</tspan></text><text x="62.3" y="15.40" font-family="Liberation Sans, sans-serif" font-size="12.6" text-anchor="end" fill="#000">10<tspan dx="1.2" dy="-4.4" font-size="8.8" letter-spacing="0.9">−9</tspan></text><text x="234.3" y="464.2" font-family="Liberation Sans, sans-serif" font-size="15.4" text-anchor="middle" fill="#000">Period (s)</text><text transform="translate(18.9,221.5) rotate(-90)" x="0" y="0" font-family="Liberation Sans, sans-serif" font-size="15.8" text-anchor="middle" fill="#000">Period Derivative (s s<tspan dy="-5.5" font-size="10.5">−1</tspan><tspan dy="5.5">)</tspan></text><rect x="303.5" y="307.5" width="93.5" height="116" rx="2.5" ry="2.5" fill="#fff" fill-opacity="0.8" stroke="#cccccc" stroke-width="0.9"/><circle cx="318.4" cy="317.2" r="4.9" fill="none" stroke="#2ca02c" stroke-width="1.2"/><rect x="315.0" y="330.0" width="6.8" height="6.8" fill="#fff" stroke="#5b9bd5" stroke-width="1"/><circle cx="318.4" cy="349.5" r="1.3" fill="#808080" stroke="#404040" stroke-width="0.6"/><circle cx="318.4" cy="365.4" r="4.2" fill="#ee1111" stroke="#000" stroke-width="0.9"/><polygon points="318.40,377.10 322.77,380.28 321.10,385.42 315.70,385.42 314.03,380.28" fill="#f0a030" stroke="#000" stroke-width="0.9"/><rect x="314.29999999999995" y="393.2" width="8.2" height="8.2" fill="#2f4fa8" stroke="#111" stroke-width="0.8"/><polygon points="318.4,407.7 323.9,413.2 318.4,418.7 312.9,413.2" fill="#7b4fb8" stroke="#000" stroke-width="0.9"/><text x="330.0" y="321.1" font-family="Liberation Sans, sans-serif" font-size="11.6" letter-spacing="0.2" fill="#111">SNR</text><text x="330.0" y="337.3" font-family="Liberation Sans, sans-serif" font-size="11.6" letter-spacing="0.2" fill="#111">Binary</text><text x="330.0" y="353.4" font-family="Liberation Sans, sans-serif" font-size="11.6" letter-spacing="0.2" fill="#111">Pulsar</text><text x="330.0" y="369.3" font-family="Liberation Sans, sans-serif" font-size="11.6" letter-spacing="0.2" fill="#111">Magnetar</text><text x="330.0" y="385.2" font-family="Liberation Sans, sans-serif" font-size="11.6" letter-spacing="0.2" fill="#111">XINS</text><text x="330.0" y="401.2" font-family="Liberation Sans, sans-serif" font-size="11.6" letter-spacing="0.2" fill="#111">CCO</text><text x="330.0" y="417.1" font-family="Liberation Sans, sans-serif" font-size="11.6" letter-spacing="0.2" fill="#111">HBP (X-ray)</text></svg></body></html>
